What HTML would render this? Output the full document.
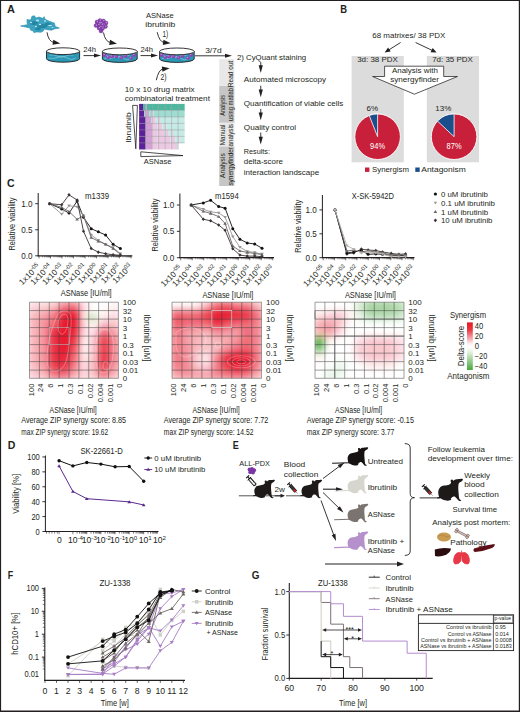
<!DOCTYPE html>
<html><head><meta charset="utf-8"><title>Figure</title><style>html,body{margin:0;padding:0;background:#fff;}body{width:520px;height:712px;overflow:hidden;font-family:"Liberation Sans",sans-serif;}svg{display:block;}</style></head><body>
<svg width="520" height="712" viewBox="0 0 520 712" font-family="'Liberation Sans', sans-serif" fill="#231f20">
<defs><filter id="blur" x="-10%" y="-10%" width="120%" height="120%"><feGaussianBlur stdDeviation="3.6"/></filter></defs>
<rect x="0" y="0" width="520" height="712" fill="#fff"/>
<text x="7.10" y="13.10" font-size="11.6" textLength="7.90" lengthAdjust="spacingAndGlyphs" font-weight="bold" >A</text>
<path d="M20.54,25.96 L27.31,24.69 L26.88,19.61 L30.69,20.04 L31.96,16.23 L34.5,15.81 L35.77,17.92 L39.15,17.08 L42.53,18.35 L44.23,16.65 L45.07,19.19 L49.3,21.31 L54.38,23 L55.22,26.38 L59.45,28.07 L54.38,28.92 L51.84,30.19 L47.61,29.77 L44.23,28.92 L43.38,31.04 L40.84,32.3 L36.61,31.88 L34.07,32.73 L33.23,31.04 L30.69,30.19 L29.84,28.07 L26.46,27.23 Z" fill="#3ba3c0" stroke="#2a8fae" stroke-width="0.6" stroke-linejoin="round"/>
<g fill="#1f7f9c" opacity="0.8"><ellipse cx="34" cy="23" rx="4" ry="2"/><ellipse cx="42" cy="26" rx="5" ry="2"/><ellipse cx="48" cy="24" rx="3" ry="1.6"/><ellipse cx="38" cy="29" rx="3" ry="1.4"/></g>
<g fill="#b8e6f0"><ellipse cx="37.5" cy="20.5" rx="1.6" ry="0.9"/><ellipse cx="31" cy="22.5" rx="1.2" ry="0.8"/><ellipse cx="40" cy="24.5" rx="1.3" ry="0.8"/><ellipse cx="50" cy="25.5" rx="1.8" ry="0.7"/><ellipse cx="36" cy="26.5" rx="1" ry="0.7"/><ellipse cx="52.5" cy="27.5" rx="1" ry="0.6"/><ellipse cx="45" cy="21" rx="1.2" ry="0.7"/></g>
<path d="M47.00,32.30 Q48.50,41.50 53.90,42.46" fill="none" stroke="#231f20" stroke-width="0.9"/>
<path d="M60.30,43.60 L52.46,44.85 L53.37,39.73 Z" fill="#231f20"/>
<g fill="#8a3fb0" stroke="#5a1f80" stroke-width="0.3">
<circle cx="97" cy="22" r="2"/>
<circle cx="100" cy="20.5" r="2"/>
<circle cx="103.5" cy="21" r="2"/>
<circle cx="106" cy="23" r="2"/>
<circle cx="98.5" cy="25" r="2"/>
<circle cx="102" cy="24.5" r="2"/>
<circle cx="105.5" cy="26.5" r="2"/>
<circle cx="99" cy="28" r="2"/>
<circle cx="102.5" cy="28.5" r="2"/>
<circle cx="96" cy="25.5" r="2"/>
<circle cx="101" cy="31" r="2"/>
</g>
<g fill="#d7b3e6">
<circle cx="97.4" cy="21.6" r="0.6"/>
<circle cx="100.4" cy="20.1" r="0.6"/>
<circle cx="103.9" cy="20.6" r="0.6"/>
<circle cx="106.4" cy="22.6" r="0.6"/>
<circle cx="98.9" cy="24.6" r="0.6"/>
<circle cx="102.4" cy="24.1" r="0.6"/>
<circle cx="105.9" cy="26.1" r="0.6"/>
<circle cx="99.4" cy="27.6" r="0.6"/>
<circle cx="102.9" cy="28.1" r="0.6"/>
<circle cx="96.4" cy="25.1" r="0.6"/>
</g>
<path d="M103.50,32.50 Q105.00,41.50 110.62,42.58" fill="none" stroke="#231f20" stroke-width="0.9"/>
<path d="M117.00,43.80 L109.14,44.94 L110.12,39.83 Z" fill="#231f20"/>
<path d="M46.5,51.2 L46.5,58.800000000000004 A16.549999999999997,3.4 0 0 0 79.6,58.800000000000004 L79.6,51.2 Z" fill="#2a98b5" stroke="#231f20" stroke-width="0.9"/>
<path d="M49.5,55.2 q4,-1 8,1 t8,0 t8,-1 M48.5,58.2 q5,1 10,-1 t9,1 t8,0" fill="none" stroke="#8fd0e0" stroke-width="0.8" opacity="0.8"/>
<ellipse cx="63.05" cy="51.2" rx="16.549999999999997" ry="3.4" fill="#fff" stroke="#231f20" stroke-width="0.9"/>
<path d="M102.4,51.4 L102.4,59.0 A17.39999999999999,3.4 0 0 0 137.2,59.0 L137.2,51.4 Z" fill="#2a98b5" stroke="#231f20" stroke-width="0.9"/>
<path d="M105.4,55.4 q4,-1 8,1 t8,0 t8,-1 M104.4,58.4 q5,1 10,-1 t9,1 t8,0" fill="none" stroke="#8fd0e0" stroke-width="0.8" opacity="0.8"/>
<g fill="#9141b5">
<circle cx="104.56" cy="54.90" r="1.85"/>
<circle cx="108.15" cy="57.20" r="1.85"/>
<circle cx="112.05" cy="56.40" r="1.85"/>
<circle cx="116.36" cy="56.40" r="1.85"/>
<circle cx="121.49" cy="57.60" r="1.85"/>
<circle cx="125.50" cy="55.90" r="1.85"/>
<circle cx="131.04" cy="58.00" r="1.85"/>
<circle cx="134.12" cy="54.90" r="1.85"/>
</g><g fill="#c58ee0">
<circle cx="104.06" cy="54.40" r="0.7"/>
<circle cx="107.65" cy="56.70" r="0.7"/>
<circle cx="111.55" cy="55.90" r="0.7"/>
<circle cx="115.86" cy="55.90" r="0.7"/>
<circle cx="120.99" cy="57.10" r="0.7"/>
<circle cx="125.00" cy="55.40" r="0.7"/>
<circle cx="130.54" cy="57.50" r="0.7"/>
<circle cx="133.62" cy="54.40" r="0.7"/>
</g>
<ellipse cx="119.8" cy="51.4" rx="17.39999999999999" ry="3.4" fill="#fff" stroke="#231f20" stroke-width="0.9"/>
<path d="M159.6,51.4 L159.6,59.0 A17.299999999999997,3.4 0 0 0 194.2,59.0 L194.2,51.4 Z" fill="#2a98b5" stroke="#231f20" stroke-width="0.9"/>
<path d="M162.6,55.4 q4,-1 8,1 t8,0 t8,-1 M161.6,58.4 q5,1 10,-1 t9,1 t8,0" fill="none" stroke="#8fd0e0" stroke-width="0.8" opacity="0.8"/>
<g fill="#9141b5">
<circle cx="161.74" cy="54.90" r="1.85"/>
<circle cx="165.32" cy="57.20" r="1.85"/>
<circle cx="169.19" cy="56.40" r="1.85"/>
<circle cx="173.48" cy="56.40" r="1.85"/>
<circle cx="178.58" cy="57.60" r="1.85"/>
<circle cx="182.56" cy="55.90" r="1.85"/>
<circle cx="188.08" cy="58.00" r="1.85"/>
<circle cx="191.14" cy="54.90" r="1.85"/>
</g><g fill="#c58ee0">
<circle cx="161.24" cy="54.40" r="0.7"/>
<circle cx="164.82" cy="56.70" r="0.7"/>
<circle cx="168.69" cy="55.90" r="0.7"/>
<circle cx="172.98" cy="55.90" r="0.7"/>
<circle cx="178.08" cy="57.10" r="0.7"/>
<circle cx="182.06" cy="55.40" r="0.7"/>
<circle cx="187.58" cy="57.50" r="0.7"/>
<circle cx="190.64" cy="54.40" r="0.7"/>
</g>
<ellipse cx="176.89999999999998" cy="51.4" rx="17.299999999999997" ry="3.4" fill="#fff" stroke="#231f20" stroke-width="0.9"/>
<text x="83.30" y="51.80" font-size="8" textLength="12.70" lengthAdjust="spacingAndGlyphs" >24h</text>
<line x1="83.50" y1="55.60" x2="95.00" y2="55.60" stroke="#231f20" stroke-width="0.9" />
<path d="M101.00,55.60 L94.00,57.60 L94.00,53.60 Z" fill="#231f20"/>
<text x="140.40" y="51.80" font-size="8" textLength="12.70" lengthAdjust="spacingAndGlyphs" >24h</text>
<line x1="140.50" y1="55.60" x2="152.00" y2="55.60" stroke="#231f20" stroke-width="0.9" />
<path d="M158.00,55.60 L151.00,57.60 L151.00,53.60 Z" fill="#231f20"/>
<text x="159.80" y="18.20" font-size="8" text-anchor="middle" textLength="27.70" lengthAdjust="spacingAndGlyphs" >ASNase</text>
<text x="160.30" y="27.30" font-size="8" text-anchor="middle" textLength="30.00" lengthAdjust="spacingAndGlyphs" >ibrutinib</text>
<text x="162.50" y="37.30" font-size="8.3" textLength="5.70" lengthAdjust="spacingAndGlyphs" >1)</text>
<path d="M157.20,32.20 Q159.50,42.00 164.14,42.54" fill="none" stroke="#231f20" stroke-width="0.9"/>
<path d="M170.60,43.30 L162.85,45.01 L163.45,39.85 Z" fill="#231f20"/>
<text x="160.50" y="79.60" font-size="8.3" textLength="6.00" lengthAdjust="spacingAndGlyphs" >2)</text>
<path d="M156.30,80.20 Q158.50,69.50 163.14,68.96" fill="none" stroke="#231f20" stroke-width="0.9"/>
<path d="M169.60,68.20 L162.45,71.65 L161.85,66.49 Z" fill="#231f20"/>
<text x="205.20" y="52.60" font-size="8" textLength="16.40" lengthAdjust="spacingAndGlyphs" >3/7d</text>
<line x1="195.00" y1="55.80" x2="226.00" y2="55.80" stroke="#231f20" stroke-width="0.9" />
<path d="M232.00,55.80 L225.00,57.80 L225.00,53.80 Z" fill="#231f20"/>
<text x="124.80" y="92.30" font-size="8" textLength="69.80" lengthAdjust="spacingAndGlyphs" >10 x 10 drug matrix</text>
<text x="124.80" y="101.20" font-size="8" textLength="85.10" lengthAdjust="spacingAndGlyphs" >combinatorial treatment</text>
<path d="M132.6,105.4 L137.4,105.4 L135.8,148.8 Z" fill="#fff" stroke="#231f20" stroke-width="0.8"/>
<text x="130.60" y="127.50" font-size="8" text-anchor="middle" textLength="30.50" lengthAdjust="spacingAndGlyphs" transform="rotate(-90 130.60 127.50)" >Ibrutinib</text>
<path d="M140.8,151.8 L140.8,156.6 L183,155.6 Z" fill="#fff" stroke="#231f20" stroke-width="0.8"/>
<text x="157.60" y="164.20" font-size="8" text-anchor="middle" textLength="27.50" lengthAdjust="spacingAndGlyphs" >ASNase</text>
<rect x="139.10" y="103.90" width="3.95" height="6.55" fill="#5b2199"/>
<rect x="143.00" y="103.90" width="2.65" height="6.55" fill="#4db89f"/>
<rect x="145.60" y="103.90" width="1.35" height="6.55" fill="#d3a1d5"/>
<rect x="146.90" y="103.90" width="5.25" height="6.55" fill="#4db89f"/>
<rect x="152.10" y="103.90" width="6.55" height="6.55" fill="#4db89f"/>
<rect x="158.60" y="103.90" width="6.55" height="6.55" fill="#4db89f"/>
<rect x="165.10" y="103.90" width="6.55" height="6.55" fill="#4db89f"/>
<rect x="171.60" y="103.90" width="6.55" height="6.55" fill="#4db89f"/>
<rect x="178.10" y="103.90" width="6.55" height="6.55" fill="#4db89f"/>
<rect x="139.10" y="110.40" width="5.25" height="6.55" fill="#5b2199"/>
<rect x="144.30" y="110.40" width="1.35" height="6.55" fill="#9fdcd2"/>
<rect x="145.60" y="110.40" width="3.62" height="6.55" fill="#d3a1d5"/>
<rect x="149.17" y="110.40" width="2.98" height="6.55" fill="#9fdcd2"/>
<rect x="152.10" y="110.40" width="1.35" height="6.55" fill="#ebc9e3"/>
<rect x="153.40" y="110.40" width="5.25" height="6.55" fill="#9fdcd2"/>
<rect x="158.60" y="110.40" width="6.55" height="6.55" fill="#9fdcd2"/>
<rect x="165.10" y="110.40" width="6.55" height="6.55" fill="#9fdcd2"/>
<rect x="171.60" y="110.40" width="6.55" height="6.55" fill="#9fdcd2"/>
<rect x="178.10" y="110.40" width="6.55" height="6.55" fill="#9fdcd2"/>
<rect x="139.10" y="116.90" width="6.55" height="6.55" fill="#5b2199"/>
<rect x="145.60" y="116.90" width="5.57" height="6.55" fill="#d3a1d5"/>
<rect x="151.12" y="116.90" width="1.02" height="6.55" fill="#c6ebe6"/>
<rect x="152.10" y="116.90" width="3.62" height="6.55" fill="#ebc9e3"/>
<rect x="155.67" y="116.90" width="2.98" height="6.55" fill="#c6ebe6"/>
<rect x="158.60" y="116.90" width="1.35" height="6.55" fill="#ebc9e3"/>
<rect x="159.90" y="116.90" width="5.25" height="6.55" fill="#c6ebe6"/>
<rect x="165.10" y="116.90" width="6.55" height="6.55" fill="#c6ebe6"/>
<rect x="171.60" y="116.90" width="6.55" height="6.55" fill="#c6ebe6"/>
<rect x="178.10" y="116.90" width="6.55" height="6.55" fill="#c6ebe6"/>
<rect x="139.10" y="123.40" width="6.55" height="6.55" fill="#5b2199"/>
<rect x="145.60" y="123.40" width="5.57" height="6.55" fill="#d3a1d5"/>
<rect x="151.12" y="123.40" width="1.02" height="6.55" fill="#d3a1d5"/>
<rect x="152.10" y="123.40" width="5.57" height="6.55" fill="#ebc9e3"/>
<rect x="157.62" y="123.40" width="1.02" height="6.55" fill="#c6ebe6"/>
<rect x="158.60" y="123.40" width="3.62" height="6.55" fill="#ebc9e3"/>
<rect x="162.17" y="123.40" width="2.98" height="6.55" fill="#c6ebe6"/>
<rect x="165.10" y="123.40" width="1.35" height="6.55" fill="#ebc9e3"/>
<rect x="166.40" y="123.40" width="5.25" height="6.55" fill="#c6ebe6"/>
<rect x="171.60" y="123.40" width="6.55" height="6.55" fill="#c6ebe6"/>
<rect x="178.10" y="123.40" width="6.55" height="6.55" fill="#c6ebe6"/>
<rect x="139.10" y="129.90" width="6.55" height="6.55" fill="#5b2199"/>
<rect x="145.60" y="129.90" width="5.57" height="6.55" fill="#d3a1d5"/>
<rect x="151.12" y="129.90" width="1.02" height="6.55" fill="#d3a1d5"/>
<rect x="152.10" y="129.90" width="5.57" height="6.55" fill="#ebc9e3"/>
<rect x="157.62" y="129.90" width="1.02" height="6.55" fill="#ebc9e3"/>
<rect x="158.60" y="129.90" width="5.57" height="6.55" fill="#ebc9e3"/>
<rect x="164.12" y="129.90" width="1.02" height="6.55" fill="#c6ebe6"/>
<rect x="165.10" y="129.90" width="3.62" height="6.55" fill="#ebc9e3"/>
<rect x="168.67" y="129.90" width="2.98" height="6.55" fill="#c6ebe6"/>
<rect x="171.60" y="129.90" width="1.35" height="6.55" fill="#ebc9e3"/>
<rect x="172.90" y="129.90" width="5.25" height="6.55" fill="#c6ebe6"/>
<rect x="178.10" y="129.90" width="6.55" height="6.55" fill="#c6ebe6"/>
<rect x="139.10" y="136.40" width="6.55" height="6.55" fill="#5b2199"/>
<rect x="145.60" y="136.40" width="5.57" height="6.55" fill="#d3a1d5"/>
<rect x="151.12" y="136.40" width="1.02" height="6.55" fill="#d3a1d5"/>
<rect x="152.10" y="136.40" width="5.57" height="6.55" fill="#ebc9e3"/>
<rect x="157.62" y="136.40" width="1.02" height="6.55" fill="#ebc9e3"/>
<rect x="158.60" y="136.40" width="5.57" height="6.55" fill="#ebc9e3"/>
<rect x="164.12" y="136.40" width="1.02" height="6.55" fill="#ebc9e3"/>
<rect x="165.10" y="136.40" width="5.57" height="6.55" fill="#ebc9e3"/>
<rect x="170.62" y="136.40" width="1.02" height="6.55" fill="#c6ebe6"/>
<rect x="171.60" y="136.40" width="3.62" height="6.55" fill="#ebc9e3"/>
<rect x="175.17" y="136.40" width="2.98" height="6.55" fill="#c6ebe6"/>
<rect x="178.10" y="136.40" width="1.35" height="6.55" fill="#ebc9e3"/>
<rect x="179.40" y="136.40" width="5.25" height="6.55" fill="#c6ebe6"/>
<rect x="139.10" y="142.90" width="6.55" height="6.55" fill="#5b2199"/>
<rect x="145.60" y="142.90" width="5.57" height="6.55" fill="#d3a1d5"/>
<rect x="151.12" y="142.90" width="1.02" height="6.55" fill="#d3a1d5"/>
<rect x="152.10" y="142.90" width="5.57" height="6.55" fill="#ebc9e3"/>
<rect x="157.62" y="142.90" width="1.02" height="6.55" fill="#ebc9e3"/>
<rect x="158.60" y="142.90" width="5.57" height="6.55" fill="#ebc9e3"/>
<rect x="164.12" y="142.90" width="1.02" height="6.55" fill="#ebc9e3"/>
<rect x="165.10" y="142.90" width="5.57" height="6.55" fill="#ebc9e3"/>
<rect x="170.62" y="142.90" width="1.02" height="6.55" fill="#ebc9e3"/>
<rect x="171.60" y="142.90" width="5.57" height="6.55" fill="#ebc9e3"/>
<rect x="177.12" y="142.90" width="1.02" height="6.55" fill="#c6ebe6"/>
<g stroke="#8f8f8f" stroke-width="0.45">
<line x1="145.60" y1="103.90" x2="145.60" y2="149.40"/>
<line x1="139.10" y1="110.40" x2="184.60" y2="110.40"/>
<line x1="152.10" y1="103.90" x2="152.10" y2="149.40"/>
<line x1="139.10" y1="116.90" x2="184.60" y2="116.90"/>
<line x1="158.60" y1="103.90" x2="158.60" y2="149.40"/>
<line x1="139.10" y1="123.40" x2="184.60" y2="123.40"/>
<line x1="165.10" y1="103.90" x2="165.10" y2="149.40"/>
<line x1="139.10" y1="129.90" x2="184.60" y2="129.90"/>
<line x1="171.60" y1="103.90" x2="171.60" y2="149.40"/>
<line x1="139.10" y1="136.40" x2="184.60" y2="136.40"/>
<line x1="178.10" y1="103.90" x2="178.10" y2="149.40"/>
<line x1="139.10" y1="142.90" x2="184.60" y2="142.90"/>
</g>
<rect x="219.2" y="59.1" width="15.20" height="26.90" fill="#e8e8e8"/>
<rect x="219.2" y="86.0" width="15.20" height="36.80" fill="#c6c6c6"/>
<rect x="219.2" y="122.8" width="15.20" height="23.70" fill="#e8e8e8"/>
<rect x="219.2" y="146.5" width="15.20" height="39.50" fill="#c6c6c6"/>
<text x="233.00" y="73.90" font-size="6.6" text-anchor="middle" textLength="26.50" lengthAdjust="spacingAndGlyphs" transform="rotate(-90 233.00 73.90)" >Read out</text>
<text x="225.20" y="105.30" font-size="6.6" text-anchor="middle" textLength="21.00" lengthAdjust="spacingAndGlyphs" transform="rotate(-90 225.20 105.30)" >Analysis</text>
<text x="233.00" y="104.50" font-size="6.6" text-anchor="middle" textLength="33.00" lengthAdjust="spacingAndGlyphs" transform="rotate(-90 233.00 104.50)" >using matlab</text>
<text x="225.20" y="134.90" font-size="6.6" text-anchor="middle" textLength="20.50" lengthAdjust="spacingAndGlyphs" transform="rotate(-90 225.20 134.90)" >Manual</text>
<text x="233.00" y="135.30" font-size="6.6" text-anchor="middle" textLength="22.40" lengthAdjust="spacingAndGlyphs" transform="rotate(-90 233.00 135.30)" >analysis</text>
<text x="225.20" y="165.60" font-size="6.6" text-anchor="middle" textLength="24.60" lengthAdjust="spacingAndGlyphs" transform="rotate(-90 225.20 165.60)" >Analysis</text>
<text x="233.00" y="166.30" font-size="6.6" text-anchor="middle" textLength="38.60" lengthAdjust="spacingAndGlyphs" transform="rotate(-90 233.00 166.30)" >synergyfinder</text>
<text x="236.90" y="60.00" font-size="8" textLength="69.20" lengthAdjust="spacingAndGlyphs" >2) CyQuant staining</text>
<text x="243.80" y="82.20" font-size="8" textLength="82.20" lengthAdjust="spacingAndGlyphs" >Automated microscopy</text>
<text x="243.80" y="105.60" font-size="8" textLength="99.60" lengthAdjust="spacingAndGlyphs" >Quantification of viable cells</text>
<text x="243.80" y="130.10" font-size="8" textLength="52.20" lengthAdjust="spacingAndGlyphs" >Quality control</text>
<text x="243.80" y="153.70" font-size="8" textLength="26.20" lengthAdjust="spacingAndGlyphs" >Results:</text>
<text x="243.80" y="164.40" font-size="8" textLength="39.20" lengthAdjust="spacingAndGlyphs" >delta-score</text>
<text x="243.80" y="174.50" font-size="8" textLength="75.30" lengthAdjust="spacingAndGlyphs" >interaction landscape</text>
<line x1="260.75" y1="62.10" x2="260.75" y2="66.20" stroke="#231f20" stroke-width="0.9" />
<path d="M260.75,73.00 L258.65,65.20 L262.85,65.20 Z" fill="#231f20"/>
<line x1="260.75" y1="85.70" x2="260.75" y2="90.40" stroke="#231f20" stroke-width="0.9" />
<path d="M260.75,97.20 L258.65,89.40 L262.85,89.40 Z" fill="#231f20"/>
<line x1="260.75" y1="108.90" x2="260.75" y2="113.50" stroke="#231f20" stroke-width="0.9" />
<path d="M260.75,120.30 L258.65,112.50 L262.85,112.50 Z" fill="#231f20"/>
<line x1="260.75" y1="132.60" x2="260.75" y2="137.70" stroke="#231f20" stroke-width="0.9" />
<path d="M260.75,144.50 L258.65,136.70 L262.85,136.70 Z" fill="#231f20"/>
<text x="340.30" y="12.80" font-size="11.6" textLength="6.80" lengthAdjust="spacingAndGlyphs" font-weight="bold" >B</text>
<text x="408.80" y="37.80" font-size="8" text-anchor="middle" textLength="73.00" lengthAdjust="spacingAndGlyphs" >68 matrixes/ 38 PDX</text>
<line x1="400.60" y1="42.50" x2="388.51" y2="50.10" stroke="#231f20" stroke-width="0.9" />
<path d="M384.70,52.50 L388.08,47.54 L390.63,51.60 Z" fill="#231f20"/>
<line x1="415.60" y1="42.50" x2="432.54" y2="50.57" stroke="#231f20" stroke-width="0.9" />
<path d="M436.60,52.50 L430.60,52.30 L432.67,47.97 Z" fill="#231f20"/>
<rect x="351.6" y="56" width="52.2" height="106.3" fill="#dcdcdc"/>
<rect x="426.8" y="56" width="52.2" height="106.3" fill="#dcdcdc"/>
<text x="377.50" y="62.00" font-size="8" text-anchor="middle" textLength="40.70" lengthAdjust="spacingAndGlyphs" >3d: 38 PDX</text>
<text x="452.50" y="62.00" font-size="8" text-anchor="middle" textLength="40.70" lengthAdjust="spacingAndGlyphs" >7d: 35 PDX</text>
<path d="M384.6,66.2 L443.7,66.2 L443.7,76.5 L457.5,76.5 L414.4,94.2 L372.6,76.5 L384.6,76.5 Z" fill="#fff" stroke="#231f20" stroke-width="0.75"/>
<text x="414.90" y="72.80" font-size="8" text-anchor="middle" textLength="45.80" lengthAdjust="spacingAndGlyphs" >Analysis with</text>
<text x="414.60" y="82.40" font-size="8" text-anchor="middle" textLength="48.80" lengthAdjust="spacingAndGlyphs" >synergyfinder</text>
<circle cx="377.6" cy="136.7" r="22.8" fill="#c8203a" stroke="#fff" stroke-width="0.9"/>
<path d="M377.6,136.7 L377.6,113.89999999999999 A22.8,22.8 0 0 0 369.21,115.50 Z" fill="#1a4f8c" stroke="#fff" stroke-width="0.8"/>
<text x="377.60" y="149.30" font-size="8.4" text-anchor="middle" textLength="15.00" lengthAdjust="spacingAndGlyphs" fill="#fff" >94%</text>
<text x="372.30" y="110.60" font-size="8" text-anchor="middle" >6%</text>
<circle cx="454.1" cy="136.7" r="22.8" fill="#c8203a" stroke="#fff" stroke-width="0.9"/>
<path d="M454.1,136.7 L454.1,113.89999999999999 A22.8,22.8 0 0 0 437.48,121.09 Z" fill="#1a4f8c" stroke="#fff" stroke-width="0.8"/>
<text x="454.10" y="149.30" font-size="8.4" text-anchor="middle" textLength="15.00" lengthAdjust="spacingAndGlyphs" fill="#fff" >87%</text>
<text x="443.30" y="110.60" font-size="8" text-anchor="middle" >13%</text>
<rect x="365" y="167.5" width="4.4" height="4.4" fill="#c8203a"/>
<text x="372.00" y="172.00" font-size="8" textLength="37.00" lengthAdjust="spacingAndGlyphs" >Synergism</text>
<rect x="415.3" y="167.5" width="4.4" height="4.4" fill="#1a4f8c"/>
<text x="421.30" y="172.00" font-size="8" textLength="44.50" lengthAdjust="spacingAndGlyphs" >Antagonism</text>
<text x="7.10" y="186.60" font-size="11.6" textLength="7.60" lengthAdjust="spacingAndGlyphs" font-weight="bold" >C</text>
<line x1="38.20" y1="193.00" x2="38.20" y2="256.30" stroke="#231f20" stroke-width="1.0" />
<line x1="37.70" y1="255.80" x2="132.30" y2="255.80" stroke="#231f20" stroke-width="1.2" />
<line x1="35.20" y1="255.80" x2="38.20" y2="255.80" stroke="#231f20" stroke-width="0.9" />
<text x="32.60" y="258.90" font-size="8.9" text-anchor="end" textLength="11.30" lengthAdjust="spacingAndGlyphs" >0.0</text>
<line x1="35.20" y1="229.75" x2="38.20" y2="229.75" stroke="#231f20" stroke-width="0.9" />
<text x="32.60" y="232.85" font-size="8.9" text-anchor="end" textLength="11.30" lengthAdjust="spacingAndGlyphs" >0.5</text>
<line x1="35.20" y1="203.70" x2="38.20" y2="203.70" stroke="#231f20" stroke-width="0.9" />
<text x="32.60" y="206.80" font-size="8.9" text-anchor="end" textLength="11.30" lengthAdjust="spacingAndGlyphs" >1.0</text>
<line x1="39.00" y1="255.80" x2="39.00" y2="258.40" stroke="#231f20" stroke-width="0.6" />
<line x1="42.47" y1="255.80" x2="42.47" y2="257.40" stroke="#231f20" stroke-width="0.45" />
<line x1="44.49" y1="255.80" x2="44.49" y2="257.40" stroke="#231f20" stroke-width="0.45" />
<line x1="45.93" y1="255.80" x2="45.93" y2="257.40" stroke="#231f20" stroke-width="0.45" />
<line x1="47.05" y1="255.80" x2="47.05" y2="257.40" stroke="#231f20" stroke-width="0.45" />
<line x1="47.96" y1="255.80" x2="47.96" y2="257.40" stroke="#231f20" stroke-width="0.45" />
<line x1="48.73" y1="255.80" x2="48.73" y2="257.40" stroke="#231f20" stroke-width="0.45" />
<line x1="49.40" y1="255.80" x2="49.40" y2="257.40" stroke="#231f20" stroke-width="0.45" />
<line x1="49.99" y1="255.80" x2="49.99" y2="257.40" stroke="#231f20" stroke-width="0.45" />
<line x1="50.51" y1="255.80" x2="50.51" y2="258.40" stroke="#231f20" stroke-width="0.6" />
<line x1="53.98" y1="255.80" x2="53.98" y2="257.40" stroke="#231f20" stroke-width="0.45" />
<line x1="56.01" y1="255.80" x2="56.01" y2="257.40" stroke="#231f20" stroke-width="0.45" />
<line x1="57.44" y1="255.80" x2="57.44" y2="257.40" stroke="#231f20" stroke-width="0.45" />
<line x1="58.56" y1="255.80" x2="58.56" y2="257.40" stroke="#231f20" stroke-width="0.45" />
<line x1="59.47" y1="255.80" x2="59.47" y2="257.40" stroke="#231f20" stroke-width="0.45" />
<line x1="60.24" y1="255.80" x2="60.24" y2="257.40" stroke="#231f20" stroke-width="0.45" />
<line x1="60.91" y1="255.80" x2="60.91" y2="257.40" stroke="#231f20" stroke-width="0.45" />
<line x1="61.50" y1="255.80" x2="61.50" y2="257.40" stroke="#231f20" stroke-width="0.45" />
<line x1="62.03" y1="255.80" x2="62.03" y2="258.40" stroke="#231f20" stroke-width="0.6" />
<line x1="65.49" y1="255.80" x2="65.49" y2="257.40" stroke="#231f20" stroke-width="0.45" />
<line x1="67.52" y1="255.80" x2="67.52" y2="257.40" stroke="#231f20" stroke-width="0.45" />
<line x1="68.96" y1="255.80" x2="68.96" y2="257.40" stroke="#231f20" stroke-width="0.45" />
<line x1="70.07" y1="255.80" x2="70.07" y2="257.40" stroke="#231f20" stroke-width="0.45" />
<line x1="70.98" y1="255.80" x2="70.98" y2="257.40" stroke="#231f20" stroke-width="0.45" />
<line x1="71.75" y1="255.80" x2="71.75" y2="257.40" stroke="#231f20" stroke-width="0.45" />
<line x1="72.42" y1="255.80" x2="72.42" y2="257.40" stroke="#231f20" stroke-width="0.45" />
<line x1="73.01" y1="255.80" x2="73.01" y2="257.40" stroke="#231f20" stroke-width="0.45" />
<line x1="73.54" y1="255.80" x2="73.54" y2="258.40" stroke="#231f20" stroke-width="0.6" />
<line x1="77.00" y1="255.80" x2="77.00" y2="257.40" stroke="#231f20" stroke-width="0.45" />
<line x1="79.03" y1="255.80" x2="79.03" y2="257.40" stroke="#231f20" stroke-width="0.45" />
<line x1="80.47" y1="255.80" x2="80.47" y2="257.40" stroke="#231f20" stroke-width="0.45" />
<line x1="81.58" y1="255.80" x2="81.58" y2="257.40" stroke="#231f20" stroke-width="0.45" />
<line x1="82.50" y1="255.80" x2="82.50" y2="257.40" stroke="#231f20" stroke-width="0.45" />
<line x1="83.27" y1="255.80" x2="83.27" y2="257.40" stroke="#231f20" stroke-width="0.45" />
<line x1="83.93" y1="255.80" x2="83.93" y2="257.40" stroke="#231f20" stroke-width="0.45" />
<line x1="84.52" y1="255.80" x2="84.52" y2="257.40" stroke="#231f20" stroke-width="0.45" />
<line x1="85.05" y1="255.80" x2="85.05" y2="258.40" stroke="#231f20" stroke-width="0.6" />
<line x1="88.52" y1="255.80" x2="88.52" y2="257.40" stroke="#231f20" stroke-width="0.45" />
<line x1="90.54" y1="255.80" x2="90.54" y2="257.40" stroke="#231f20" stroke-width="0.45" />
<line x1="91.98" y1="255.80" x2="91.98" y2="257.40" stroke="#231f20" stroke-width="0.45" />
<line x1="93.10" y1="255.80" x2="93.10" y2="257.40" stroke="#231f20" stroke-width="0.45" />
<line x1="94.01" y1="255.80" x2="94.01" y2="257.40" stroke="#231f20" stroke-width="0.45" />
<line x1="94.78" y1="255.80" x2="94.78" y2="257.40" stroke="#231f20" stroke-width="0.45" />
<line x1="95.45" y1="255.80" x2="95.45" y2="257.40" stroke="#231f20" stroke-width="0.45" />
<line x1="96.04" y1="255.80" x2="96.04" y2="257.40" stroke="#231f20" stroke-width="0.45" />
<line x1="96.56" y1="255.80" x2="96.56" y2="258.40" stroke="#231f20" stroke-width="0.6" />
<line x1="100.03" y1="255.80" x2="100.03" y2="257.40" stroke="#231f20" stroke-width="0.45" />
<line x1="102.06" y1="255.80" x2="102.06" y2="257.40" stroke="#231f20" stroke-width="0.45" />
<line x1="103.49" y1="255.80" x2="103.49" y2="257.40" stroke="#231f20" stroke-width="0.45" />
<line x1="104.61" y1="255.80" x2="104.61" y2="257.40" stroke="#231f20" stroke-width="0.45" />
<line x1="105.52" y1="255.80" x2="105.52" y2="257.40" stroke="#231f20" stroke-width="0.45" />
<line x1="106.29" y1="255.80" x2="106.29" y2="257.40" stroke="#231f20" stroke-width="0.45" />
<line x1="106.96" y1="255.80" x2="106.96" y2="257.40" stroke="#231f20" stroke-width="0.45" />
<line x1="107.55" y1="255.80" x2="107.55" y2="257.40" stroke="#231f20" stroke-width="0.45" />
<line x1="108.08" y1="255.80" x2="108.08" y2="258.40" stroke="#231f20" stroke-width="0.6" />
<line x1="111.54" y1="255.80" x2="111.54" y2="257.40" stroke="#231f20" stroke-width="0.45" />
<line x1="113.57" y1="255.80" x2="113.57" y2="257.40" stroke="#231f20" stroke-width="0.45" />
<line x1="115.01" y1="255.80" x2="115.01" y2="257.40" stroke="#231f20" stroke-width="0.45" />
<line x1="116.12" y1="255.80" x2="116.12" y2="257.40" stroke="#231f20" stroke-width="0.45" />
<line x1="117.03" y1="255.80" x2="117.03" y2="257.40" stroke="#231f20" stroke-width="0.45" />
<line x1="117.80" y1="255.80" x2="117.80" y2="257.40" stroke="#231f20" stroke-width="0.45" />
<line x1="118.47" y1="255.80" x2="118.47" y2="257.40" stroke="#231f20" stroke-width="0.45" />
<line x1="119.06" y1="255.80" x2="119.06" y2="257.40" stroke="#231f20" stroke-width="0.45" />
<line x1="119.59" y1="255.80" x2="119.59" y2="258.40" stroke="#231f20" stroke-width="0.6" />
<line x1="123.05" y1="255.80" x2="123.05" y2="257.40" stroke="#231f20" stroke-width="0.45" />
<line x1="125.08" y1="255.80" x2="125.08" y2="257.40" stroke="#231f20" stroke-width="0.45" />
<line x1="126.52" y1="255.80" x2="126.52" y2="257.40" stroke="#231f20" stroke-width="0.45" />
<line x1="127.63" y1="255.80" x2="127.63" y2="257.40" stroke="#231f20" stroke-width="0.45" />
<line x1="128.55" y1="255.80" x2="128.55" y2="257.40" stroke="#231f20" stroke-width="0.45" />
<line x1="129.32" y1="255.80" x2="129.32" y2="257.40" stroke="#231f20" stroke-width="0.45" />
<line x1="129.98" y1="255.80" x2="129.98" y2="257.40" stroke="#231f20" stroke-width="0.45" />
<line x1="130.57" y1="255.80" x2="130.57" y2="257.40" stroke="#231f20" stroke-width="0.45" />
<line x1="131.10" y1="255.80" x2="131.10" y2="258.40" stroke="#231f20" stroke-width="0.6" />
<text x="40.80" y="267.00" font-size="8.2" text-anchor="end" transform="rotate(-45 40.80 267.00)">1x10<tspan font-size="5.74" dy="-3.28">-05</tspan></text>
<text x="52.31" y="267.00" font-size="8.2" text-anchor="end" transform="rotate(-45 52.31 267.00)">1x10<tspan font-size="5.74" dy="-3.28">-04</tspan></text>
<text x="63.83" y="267.00" font-size="8.2" text-anchor="end" transform="rotate(-45 63.83 267.00)">1x10<tspan font-size="5.74" dy="-3.28">-03</tspan></text>
<text x="75.34" y="267.00" font-size="8.2" text-anchor="end" transform="rotate(-45 75.34 267.00)">1x10<tspan font-size="5.74" dy="-3.28">-02</tspan></text>
<text x="86.85" y="267.00" font-size="8.2" text-anchor="end" transform="rotate(-45 86.85 267.00)">1x10<tspan font-size="5.74" dy="-3.28">-01</tspan></text>
<text x="98.36" y="267.00" font-size="8.2" text-anchor="end" transform="rotate(-45 98.36 267.00)">1x10<tspan font-size="5.74" dy="-3.28">00</tspan></text>
<text x="109.88" y="267.00" font-size="8.2" text-anchor="end" transform="rotate(-45 109.88 267.00)">1x10<tspan font-size="5.74" dy="-3.28">01</tspan></text>
<text x="121.39" y="267.00" font-size="8.2" text-anchor="end" transform="rotate(-45 121.39 267.00)">1x10<tspan font-size="5.74" dy="-3.28">02</tspan></text>
<text x="132.90" y="267.00" font-size="8.2" text-anchor="end" transform="rotate(-45 132.90 267.00)">1x10<tspan font-size="5.74" dy="-3.28">03</tspan></text>
<text x="86.20" y="296.10" font-size="9.3" text-anchor="middle" textLength="51.00" lengthAdjust="spacingAndGlyphs" >ASNase [IU/ml]</text>
<text x="15.30" y="224.00" font-size="9.3" text-anchor="middle" textLength="53.00" lengthAdjust="spacingAndGlyphs" transform="rotate(-90 15.30 224.00)" >Relative viability</text>
<text x="85.00" y="199.00" font-size="8.3" textLength="24.00" lengthAdjust="spacingAndGlyphs" >m1339</text>
<polyline points="49.60,203.70 61.70,208.91 69.00,213.08 77.10,201.09 83.50,217.25 91.20,228.71 98.30,231.83 105.60,234.96 113.10,244.34 120.40,248.51" fill="none" stroke="#111111" stroke-width="0.9"/>
<circle cx="49.60" cy="203.70" r="1.5" fill="#111111"/>
<circle cx="61.70" cy="208.91" r="1.5" fill="#111111"/>
<circle cx="69.00" cy="213.08" r="1.5" fill="#111111"/>
<circle cx="77.10" cy="201.09" r="1.5" fill="#111111"/>
<circle cx="83.50" cy="217.25" r="1.5" fill="#111111"/>
<circle cx="91.20" cy="228.71" r="1.5" fill="#111111"/>
<circle cx="98.30" cy="231.83" r="1.5" fill="#111111"/>
<circle cx="105.60" cy="234.96" r="1.5" fill="#111111"/>
<circle cx="113.10" cy="244.34" r="1.5" fill="#111111"/>
<circle cx="120.40" cy="248.51" r="1.5" fill="#111111"/>
<polyline points="49.60,203.70 61.70,214.12 69.00,205.78 77.10,206.83 83.50,215.68 91.20,234.96 98.30,240.17 105.60,244.34 113.10,247.46 120.40,253.72" fill="none" stroke="#9a9696" stroke-width="0.9"/>
<path d="M47.80,202.50 L51.40,202.50 L49.60,205.30 Z" fill="#9a9696"/>
<path d="M59.90,212.92 L63.50,212.92 L61.70,215.72 Z" fill="#9a9696"/>
<path d="M67.20,204.58 L70.80,204.58 L69.00,207.38 Z" fill="#9a9696"/>
<path d="M75.30,205.63 L78.90,205.63 L77.10,208.43 Z" fill="#9a9696"/>
<path d="M81.70,214.48 L85.30,214.48 L83.50,217.28 Z" fill="#9a9696"/>
<path d="M89.40,233.76 L93.00,233.76 L91.20,236.56 Z" fill="#9a9696"/>
<path d="M96.50,238.97 L100.10,238.97 L98.30,241.77 Z" fill="#9a9696"/>
<path d="M103.80,243.14 L107.40,243.14 L105.60,245.94 Z" fill="#9a9696"/>
<path d="M111.30,246.26 L114.90,246.26 L113.10,249.06 Z" fill="#9a9696"/>
<path d="M118.60,252.52 L122.20,252.52 L120.40,255.32 Z" fill="#9a9696"/>
<polyline points="49.60,203.70 61.70,207.35 69.00,211.51 77.10,219.33 83.50,215.68 91.20,237.56 98.30,241.21 105.60,244.34 113.10,248.51 120.40,254.24" fill="none" stroke="#6b6565" stroke-width="0.9"/>
<path d="M47.80,204.90 L51.40,204.90 L49.60,202.10 Z" fill="#6b6565"/>
<path d="M59.90,208.55 L63.50,208.55 L61.70,205.75 Z" fill="#6b6565"/>
<path d="M67.20,212.71 L70.80,212.71 L69.00,209.91 Z" fill="#6b6565"/>
<path d="M75.30,220.53 L78.90,220.53 L77.10,217.73 Z" fill="#6b6565"/>
<path d="M81.70,216.88 L85.30,216.88 L83.50,214.08 Z" fill="#6b6565"/>
<path d="M89.40,238.76 L93.00,238.76 L91.20,235.97 Z" fill="#6b6565"/>
<path d="M96.50,242.41 L100.10,242.41 L98.30,239.61 Z" fill="#6b6565"/>
<path d="M103.80,245.54 L107.40,245.54 L105.60,242.74 Z" fill="#6b6565"/>
<path d="M111.30,249.71 L114.90,249.71 L113.10,246.91 Z" fill="#6b6565"/>
<path d="M118.60,255.44 L122.20,255.44 L120.40,252.64 Z" fill="#6b6565"/>
<polyline points="49.60,203.70 61.70,204.74 69.00,194.84 77.10,200.05 83.50,231.31 91.20,248.51 98.30,252.15 105.60,253.72 113.10,254.76 120.40,255.28" fill="none" stroke="#3a3333" stroke-width="0.9"/>
<path d="M49.60,201.90 L51.20,203.70 L49.60,205.50 L48.00,203.70 Z" fill="#3a3333"/>
<path d="M61.70,202.94 L63.30,204.74 L61.70,206.54 L60.10,204.74 Z" fill="#3a3333"/>
<path d="M69.00,193.04 L70.60,194.84 L69.00,196.64 L67.40,194.84 Z" fill="#3a3333"/>
<path d="M77.10,198.25 L78.70,200.05 L77.10,201.85 L75.50,200.05 Z" fill="#3a3333"/>
<path d="M83.50,229.51 L85.10,231.31 L83.50,233.11 L81.90,231.31 Z" fill="#3a3333"/>
<path d="M91.20,246.71 L92.80,248.51 L91.20,250.31 L89.60,248.51 Z" fill="#3a3333"/>
<path d="M98.30,250.35 L99.90,252.15 L98.30,253.95 L96.70,252.15 Z" fill="#3a3333"/>
<path d="M105.60,251.92 L107.20,253.72 L105.60,255.52 L104.00,253.72 Z" fill="#3a3333"/>
<path d="M113.10,252.96 L114.70,254.76 L113.10,256.56 L111.50,254.76 Z" fill="#3a3333"/>
<path d="M120.40,253.48 L122.00,255.28 L120.40,257.08 L118.80,255.28 Z" fill="#3a3333"/>
<line x1="179.90" y1="193.50" x2="179.90" y2="258.20" stroke="#231f20" stroke-width="1.0" />
<line x1="179.40" y1="257.70" x2="274.00" y2="257.70" stroke="#231f20" stroke-width="1.2" />
<line x1="176.90" y1="257.70" x2="179.90" y2="257.70" stroke="#231f20" stroke-width="0.9" />
<text x="174.30" y="260.80" font-size="8.9" text-anchor="end" textLength="11.30" lengthAdjust="spacingAndGlyphs" >0.0</text>
<line x1="176.90" y1="231.35" x2="179.90" y2="231.35" stroke="#231f20" stroke-width="0.9" />
<text x="174.30" y="234.45" font-size="8.9" text-anchor="end" textLength="11.30" lengthAdjust="spacingAndGlyphs" >0.5</text>
<line x1="176.90" y1="205.00" x2="179.90" y2="205.00" stroke="#231f20" stroke-width="0.9" />
<text x="174.30" y="208.10" font-size="8.9" text-anchor="end" textLength="11.30" lengthAdjust="spacingAndGlyphs" >1.0</text>
<line x1="180.70" y1="257.70" x2="180.70" y2="260.30" stroke="#231f20" stroke-width="0.6" />
<line x1="184.17" y1="257.70" x2="184.17" y2="259.30" stroke="#231f20" stroke-width="0.45" />
<line x1="186.19" y1="257.70" x2="186.19" y2="259.30" stroke="#231f20" stroke-width="0.45" />
<line x1="187.63" y1="257.70" x2="187.63" y2="259.30" stroke="#231f20" stroke-width="0.45" />
<line x1="188.75" y1="257.70" x2="188.75" y2="259.30" stroke="#231f20" stroke-width="0.45" />
<line x1="189.66" y1="257.70" x2="189.66" y2="259.30" stroke="#231f20" stroke-width="0.45" />
<line x1="190.43" y1="257.70" x2="190.43" y2="259.30" stroke="#231f20" stroke-width="0.45" />
<line x1="191.10" y1="257.70" x2="191.10" y2="259.30" stroke="#231f20" stroke-width="0.45" />
<line x1="191.69" y1="257.70" x2="191.69" y2="259.30" stroke="#231f20" stroke-width="0.45" />
<line x1="192.21" y1="257.70" x2="192.21" y2="260.30" stroke="#231f20" stroke-width="0.6" />
<line x1="195.68" y1="257.70" x2="195.68" y2="259.30" stroke="#231f20" stroke-width="0.45" />
<line x1="197.71" y1="257.70" x2="197.71" y2="259.30" stroke="#231f20" stroke-width="0.45" />
<line x1="199.14" y1="257.70" x2="199.14" y2="259.30" stroke="#231f20" stroke-width="0.45" />
<line x1="200.26" y1="257.70" x2="200.26" y2="259.30" stroke="#231f20" stroke-width="0.45" />
<line x1="201.17" y1="257.70" x2="201.17" y2="259.30" stroke="#231f20" stroke-width="0.45" />
<line x1="201.94" y1="257.70" x2="201.94" y2="259.30" stroke="#231f20" stroke-width="0.45" />
<line x1="202.61" y1="257.70" x2="202.61" y2="259.30" stroke="#231f20" stroke-width="0.45" />
<line x1="203.20" y1="257.70" x2="203.20" y2="259.30" stroke="#231f20" stroke-width="0.45" />
<line x1="203.73" y1="257.70" x2="203.73" y2="260.30" stroke="#231f20" stroke-width="0.6" />
<line x1="207.19" y1="257.70" x2="207.19" y2="259.30" stroke="#231f20" stroke-width="0.45" />
<line x1="209.22" y1="257.70" x2="209.22" y2="259.30" stroke="#231f20" stroke-width="0.45" />
<line x1="210.66" y1="257.70" x2="210.66" y2="259.30" stroke="#231f20" stroke-width="0.45" />
<line x1="211.77" y1="257.70" x2="211.77" y2="259.30" stroke="#231f20" stroke-width="0.45" />
<line x1="212.68" y1="257.70" x2="212.68" y2="259.30" stroke="#231f20" stroke-width="0.45" />
<line x1="213.45" y1="257.70" x2="213.45" y2="259.30" stroke="#231f20" stroke-width="0.45" />
<line x1="214.12" y1="257.70" x2="214.12" y2="259.30" stroke="#231f20" stroke-width="0.45" />
<line x1="214.71" y1="257.70" x2="214.71" y2="259.30" stroke="#231f20" stroke-width="0.45" />
<line x1="215.24" y1="257.70" x2="215.24" y2="260.30" stroke="#231f20" stroke-width="0.6" />
<line x1="218.70" y1="257.70" x2="218.70" y2="259.30" stroke="#231f20" stroke-width="0.45" />
<line x1="220.73" y1="257.70" x2="220.73" y2="259.30" stroke="#231f20" stroke-width="0.45" />
<line x1="222.17" y1="257.70" x2="222.17" y2="259.30" stroke="#231f20" stroke-width="0.45" />
<line x1="223.28" y1="257.70" x2="223.28" y2="259.30" stroke="#231f20" stroke-width="0.45" />
<line x1="224.20" y1="257.70" x2="224.20" y2="259.30" stroke="#231f20" stroke-width="0.45" />
<line x1="224.97" y1="257.70" x2="224.97" y2="259.30" stroke="#231f20" stroke-width="0.45" />
<line x1="225.63" y1="257.70" x2="225.63" y2="259.30" stroke="#231f20" stroke-width="0.45" />
<line x1="226.22" y1="257.70" x2="226.22" y2="259.30" stroke="#231f20" stroke-width="0.45" />
<line x1="226.75" y1="257.70" x2="226.75" y2="260.30" stroke="#231f20" stroke-width="0.6" />
<line x1="230.22" y1="257.70" x2="230.22" y2="259.30" stroke="#231f20" stroke-width="0.45" />
<line x1="232.24" y1="257.70" x2="232.24" y2="259.30" stroke="#231f20" stroke-width="0.45" />
<line x1="233.68" y1="257.70" x2="233.68" y2="259.30" stroke="#231f20" stroke-width="0.45" />
<line x1="234.80" y1="257.70" x2="234.80" y2="259.30" stroke="#231f20" stroke-width="0.45" />
<line x1="235.71" y1="257.70" x2="235.71" y2="259.30" stroke="#231f20" stroke-width="0.45" />
<line x1="236.48" y1="257.70" x2="236.48" y2="259.30" stroke="#231f20" stroke-width="0.45" />
<line x1="237.15" y1="257.70" x2="237.15" y2="259.30" stroke="#231f20" stroke-width="0.45" />
<line x1="237.74" y1="257.70" x2="237.74" y2="259.30" stroke="#231f20" stroke-width="0.45" />
<line x1="238.26" y1="257.70" x2="238.26" y2="260.30" stroke="#231f20" stroke-width="0.6" />
<line x1="241.73" y1="257.70" x2="241.73" y2="259.30" stroke="#231f20" stroke-width="0.45" />
<line x1="243.76" y1="257.70" x2="243.76" y2="259.30" stroke="#231f20" stroke-width="0.45" />
<line x1="245.19" y1="257.70" x2="245.19" y2="259.30" stroke="#231f20" stroke-width="0.45" />
<line x1="246.31" y1="257.70" x2="246.31" y2="259.30" stroke="#231f20" stroke-width="0.45" />
<line x1="247.22" y1="257.70" x2="247.22" y2="259.30" stroke="#231f20" stroke-width="0.45" />
<line x1="247.99" y1="257.70" x2="247.99" y2="259.30" stroke="#231f20" stroke-width="0.45" />
<line x1="248.66" y1="257.70" x2="248.66" y2="259.30" stroke="#231f20" stroke-width="0.45" />
<line x1="249.25" y1="257.70" x2="249.25" y2="259.30" stroke="#231f20" stroke-width="0.45" />
<line x1="249.78" y1="257.70" x2="249.78" y2="260.30" stroke="#231f20" stroke-width="0.6" />
<line x1="253.24" y1="257.70" x2="253.24" y2="259.30" stroke="#231f20" stroke-width="0.45" />
<line x1="255.27" y1="257.70" x2="255.27" y2="259.30" stroke="#231f20" stroke-width="0.45" />
<line x1="256.71" y1="257.70" x2="256.71" y2="259.30" stroke="#231f20" stroke-width="0.45" />
<line x1="257.82" y1="257.70" x2="257.82" y2="259.30" stroke="#231f20" stroke-width="0.45" />
<line x1="258.73" y1="257.70" x2="258.73" y2="259.30" stroke="#231f20" stroke-width="0.45" />
<line x1="259.50" y1="257.70" x2="259.50" y2="259.30" stroke="#231f20" stroke-width="0.45" />
<line x1="260.17" y1="257.70" x2="260.17" y2="259.30" stroke="#231f20" stroke-width="0.45" />
<line x1="260.76" y1="257.70" x2="260.76" y2="259.30" stroke="#231f20" stroke-width="0.45" />
<line x1="261.29" y1="257.70" x2="261.29" y2="260.30" stroke="#231f20" stroke-width="0.6" />
<line x1="264.75" y1="257.70" x2="264.75" y2="259.30" stroke="#231f20" stroke-width="0.45" />
<line x1="266.78" y1="257.70" x2="266.78" y2="259.30" stroke="#231f20" stroke-width="0.45" />
<line x1="268.22" y1="257.70" x2="268.22" y2="259.30" stroke="#231f20" stroke-width="0.45" />
<line x1="269.33" y1="257.70" x2="269.33" y2="259.30" stroke="#231f20" stroke-width="0.45" />
<line x1="270.25" y1="257.70" x2="270.25" y2="259.30" stroke="#231f20" stroke-width="0.45" />
<line x1="271.02" y1="257.70" x2="271.02" y2="259.30" stroke="#231f20" stroke-width="0.45" />
<line x1="271.68" y1="257.70" x2="271.68" y2="259.30" stroke="#231f20" stroke-width="0.45" />
<line x1="272.27" y1="257.70" x2="272.27" y2="259.30" stroke="#231f20" stroke-width="0.45" />
<line x1="272.80" y1="257.70" x2="272.80" y2="260.30" stroke="#231f20" stroke-width="0.6" />
<text x="182.50" y="268.90" font-size="8.2" text-anchor="end" transform="rotate(-45 182.50 268.90)">1x10<tspan font-size="5.74" dy="-3.28">-05</tspan></text>
<text x="194.01" y="268.90" font-size="8.2" text-anchor="end" transform="rotate(-45 194.01 268.90)">1x10<tspan font-size="5.74" dy="-3.28">-04</tspan></text>
<text x="205.53" y="268.90" font-size="8.2" text-anchor="end" transform="rotate(-45 205.53 268.90)">1x10<tspan font-size="5.74" dy="-3.28">-03</tspan></text>
<text x="217.04" y="268.90" font-size="8.2" text-anchor="end" transform="rotate(-45 217.04 268.90)">1x10<tspan font-size="5.74" dy="-3.28">-02</tspan></text>
<text x="228.55" y="268.90" font-size="8.2" text-anchor="end" transform="rotate(-45 228.55 268.90)">1x10<tspan font-size="5.74" dy="-3.28">-01</tspan></text>
<text x="240.06" y="268.90" font-size="8.2" text-anchor="end" transform="rotate(-45 240.06 268.90)">1x10<tspan font-size="5.74" dy="-3.28">00</tspan></text>
<text x="251.58" y="268.90" font-size="8.2" text-anchor="end" transform="rotate(-45 251.58 268.90)">1x10<tspan font-size="5.74" dy="-3.28">01</tspan></text>
<text x="263.09" y="268.90" font-size="8.2" text-anchor="end" transform="rotate(-45 263.09 268.90)">1x10<tspan font-size="5.74" dy="-3.28">02</tspan></text>
<text x="274.60" y="268.90" font-size="8.2" text-anchor="end" transform="rotate(-45 274.60 268.90)">1x10<tspan font-size="5.74" dy="-3.28">03</tspan></text>
<text x="227.90" y="298.00" font-size="9.3" text-anchor="middle" textLength="51.00" lengthAdjust="spacingAndGlyphs" >ASNase [IU/ml]</text>
<text x="158.00" y="225.00" font-size="9.3" text-anchor="middle" textLength="53.00" lengthAdjust="spacingAndGlyphs" transform="rotate(-90 158.00 225.00)" >Relative viability</text>
<text x="215.00" y="199.00" font-size="8.3" textLength="23.70" lengthAdjust="spacingAndGlyphs" >m1594</text>
<polyline points="191.20,205.00 203.30,202.89 210.60,200.26 218.70,206.58 225.10,208.16 232.80,228.72 239.90,239.25 247.20,242.94 254.70,244.00 262.00,248.21" fill="none" stroke="#111111" stroke-width="0.9"/>
<circle cx="191.20" cy="205.00" r="1.5" fill="#111111"/>
<circle cx="203.30" cy="202.89" r="1.5" fill="#111111"/>
<circle cx="210.60" cy="200.26" r="1.5" fill="#111111"/>
<circle cx="218.70" cy="206.58" r="1.5" fill="#111111"/>
<circle cx="225.10" cy="208.16" r="1.5" fill="#111111"/>
<circle cx="232.80" cy="228.72" r="1.5" fill="#111111"/>
<circle cx="239.90" cy="239.25" r="1.5" fill="#111111"/>
<circle cx="247.20" cy="242.94" r="1.5" fill="#111111"/>
<circle cx="254.70" cy="244.00" r="1.5" fill="#111111"/>
<circle cx="262.00" cy="248.21" r="1.5" fill="#111111"/>
<polyline points="191.20,205.00 203.30,209.22 210.60,211.85 218.70,212.91 225.10,217.12 232.80,236.62 239.90,247.16 247.20,251.38 254.70,252.43 262.00,254.01" fill="none" stroke="#9a9696" stroke-width="0.9"/>
<path d="M189.40,203.80 L193.00,203.80 L191.20,206.60 Z" fill="#9a9696"/>
<path d="M201.50,208.02 L205.10,208.02 L203.30,210.82 Z" fill="#9a9696"/>
<path d="M208.80,210.65 L212.40,210.65 L210.60,213.45 Z" fill="#9a9696"/>
<path d="M216.90,211.71 L220.50,211.71 L218.70,214.50 Z" fill="#9a9696"/>
<path d="M223.30,215.92 L226.90,215.92 L225.10,218.72 Z" fill="#9a9696"/>
<path d="M231.00,235.42 L234.60,235.42 L232.80,238.22 Z" fill="#9a9696"/>
<path d="M238.10,245.96 L241.70,245.96 L239.90,248.76 Z" fill="#9a9696"/>
<path d="M245.40,250.18 L249.00,250.18 L247.20,252.98 Z" fill="#9a9696"/>
<path d="M252.90,251.23 L256.50,251.23 L254.70,254.03 Z" fill="#9a9696"/>
<path d="M260.20,252.81 L263.80,252.81 L262.00,255.61 Z" fill="#9a9696"/>
<polyline points="191.20,205.00 203.30,211.32 210.60,213.43 218.70,216.59 225.10,223.44 232.80,246.11 239.90,250.85 247.20,252.43 254.70,253.48 262.00,254.54" fill="none" stroke="#6b6565" stroke-width="0.9"/>
<path d="M189.40,206.20 L193.00,206.20 L191.20,203.40 Z" fill="#6b6565"/>
<path d="M201.50,212.52 L205.10,212.52 L203.30,209.72 Z" fill="#6b6565"/>
<path d="M208.80,214.63 L212.40,214.63 L210.60,211.83 Z" fill="#6b6565"/>
<path d="M216.90,217.79 L220.50,217.79 L218.70,214.99 Z" fill="#6b6565"/>
<path d="M223.30,224.64 L226.90,224.64 L225.10,221.84 Z" fill="#6b6565"/>
<path d="M231.00,247.31 L234.60,247.31 L232.80,244.51 Z" fill="#6b6565"/>
<path d="M238.10,252.05 L241.70,252.05 L239.90,249.25 Z" fill="#6b6565"/>
<path d="M245.40,253.63 L249.00,253.63 L247.20,250.83 Z" fill="#6b6565"/>
<path d="M252.90,254.68 L256.50,254.68 L254.70,251.88 Z" fill="#6b6565"/>
<path d="M260.20,255.74 L263.80,255.74 L262.00,252.94 Z" fill="#6b6565"/>
<polyline points="191.20,205.00 203.30,219.23 210.60,220.81 218.70,225.03 225.10,230.30 232.80,248.74 239.90,255.06 247.20,256.12 254.70,256.12 262.00,256.65" fill="none" stroke="#3a3333" stroke-width="0.9"/>
<path d="M191.20,203.20 L192.80,205.00 L191.20,206.80 L189.60,205.00 Z" fill="#3a3333"/>
<path d="M203.30,217.43 L204.90,219.23 L203.30,221.03 L201.70,219.23 Z" fill="#3a3333"/>
<path d="M210.60,219.01 L212.20,220.81 L210.60,222.61 L209.00,220.81 Z" fill="#3a3333"/>
<path d="M218.70,223.23 L220.30,225.03 L218.70,226.83 L217.10,225.03 Z" fill="#3a3333"/>
<path d="M225.10,228.50 L226.70,230.30 L225.10,232.10 L223.50,230.30 Z" fill="#3a3333"/>
<path d="M232.80,246.94 L234.40,248.74 L232.80,250.54 L231.20,248.74 Z" fill="#3a3333"/>
<path d="M239.90,253.26 L241.50,255.06 L239.90,256.87 L238.30,255.06 Z" fill="#3a3333"/>
<path d="M247.20,254.32 L248.80,256.12 L247.20,257.92 L245.60,256.12 Z" fill="#3a3333"/>
<path d="M254.70,254.32 L256.30,256.12 L254.70,257.92 L253.10,256.12 Z" fill="#3a3333"/>
<path d="M262.00,254.85 L263.60,256.65 L262.00,258.45 L260.40,256.65 Z" fill="#3a3333"/>
<line x1="322.40" y1="195.00" x2="322.40" y2="258.20" stroke="#231f20" stroke-width="1.0" />
<line x1="321.90" y1="257.70" x2="414.50" y2="257.70" stroke="#231f20" stroke-width="1.2" />
<line x1="319.40" y1="257.70" x2="322.40" y2="257.70" stroke="#231f20" stroke-width="0.9" />
<text x="316.80" y="260.80" font-size="8.9" text-anchor="end" textLength="11.30" lengthAdjust="spacingAndGlyphs" >0.0</text>
<line x1="319.40" y1="233.80" x2="322.40" y2="233.80" stroke="#231f20" stroke-width="0.9" />
<text x="316.80" y="236.90" font-size="8.9" text-anchor="end" textLength="11.30" lengthAdjust="spacingAndGlyphs" >0.5</text>
<line x1="319.40" y1="209.90" x2="322.40" y2="209.90" stroke="#231f20" stroke-width="0.9" />
<text x="316.80" y="213.00" font-size="8.9" text-anchor="end" textLength="11.30" lengthAdjust="spacingAndGlyphs" >1.0</text>
<line x1="323.20" y1="257.70" x2="323.20" y2="260.30" stroke="#231f20" stroke-width="0.6" />
<line x1="326.59" y1="257.70" x2="326.59" y2="259.30" stroke="#231f20" stroke-width="0.45" />
<line x1="328.57" y1="257.70" x2="328.57" y2="259.30" stroke="#231f20" stroke-width="0.45" />
<line x1="329.98" y1="257.70" x2="329.98" y2="259.30" stroke="#231f20" stroke-width="0.45" />
<line x1="331.07" y1="257.70" x2="331.07" y2="259.30" stroke="#231f20" stroke-width="0.45" />
<line x1="331.96" y1="257.70" x2="331.96" y2="259.30" stroke="#231f20" stroke-width="0.45" />
<line x1="332.72" y1="257.70" x2="332.72" y2="259.30" stroke="#231f20" stroke-width="0.45" />
<line x1="333.37" y1="257.70" x2="333.37" y2="259.30" stroke="#231f20" stroke-width="0.45" />
<line x1="333.95" y1="257.70" x2="333.95" y2="259.30" stroke="#231f20" stroke-width="0.45" />
<line x1="334.46" y1="257.70" x2="334.46" y2="260.30" stroke="#231f20" stroke-width="0.6" />
<line x1="337.85" y1="257.70" x2="337.85" y2="259.30" stroke="#231f20" stroke-width="0.45" />
<line x1="339.84" y1="257.70" x2="339.84" y2="259.30" stroke="#231f20" stroke-width="0.45" />
<line x1="341.24" y1="257.70" x2="341.24" y2="259.30" stroke="#231f20" stroke-width="0.45" />
<line x1="342.33" y1="257.70" x2="342.33" y2="259.30" stroke="#231f20" stroke-width="0.45" />
<line x1="343.23" y1="257.70" x2="343.23" y2="259.30" stroke="#231f20" stroke-width="0.45" />
<line x1="343.98" y1="257.70" x2="343.98" y2="259.30" stroke="#231f20" stroke-width="0.45" />
<line x1="344.63" y1="257.70" x2="344.63" y2="259.30" stroke="#231f20" stroke-width="0.45" />
<line x1="345.21" y1="257.70" x2="345.21" y2="259.30" stroke="#231f20" stroke-width="0.45" />
<line x1="345.73" y1="257.70" x2="345.73" y2="260.30" stroke="#231f20" stroke-width="0.6" />
<line x1="349.12" y1="257.70" x2="349.12" y2="259.30" stroke="#231f20" stroke-width="0.45" />
<line x1="351.10" y1="257.70" x2="351.10" y2="259.30" stroke="#231f20" stroke-width="0.45" />
<line x1="352.51" y1="257.70" x2="352.51" y2="259.30" stroke="#231f20" stroke-width="0.45" />
<line x1="353.60" y1="257.70" x2="353.60" y2="259.30" stroke="#231f20" stroke-width="0.45" />
<line x1="354.49" y1="257.70" x2="354.49" y2="259.30" stroke="#231f20" stroke-width="0.45" />
<line x1="355.24" y1="257.70" x2="355.24" y2="259.30" stroke="#231f20" stroke-width="0.45" />
<line x1="355.90" y1="257.70" x2="355.90" y2="259.30" stroke="#231f20" stroke-width="0.45" />
<line x1="356.47" y1="257.70" x2="356.47" y2="259.30" stroke="#231f20" stroke-width="0.45" />
<line x1="356.99" y1="257.70" x2="356.99" y2="260.30" stroke="#231f20" stroke-width="0.6" />
<line x1="360.38" y1="257.70" x2="360.38" y2="259.30" stroke="#231f20" stroke-width="0.45" />
<line x1="362.36" y1="257.70" x2="362.36" y2="259.30" stroke="#231f20" stroke-width="0.45" />
<line x1="363.77" y1="257.70" x2="363.77" y2="259.30" stroke="#231f20" stroke-width="0.45" />
<line x1="364.86" y1="257.70" x2="364.86" y2="259.30" stroke="#231f20" stroke-width="0.45" />
<line x1="365.75" y1="257.70" x2="365.75" y2="259.30" stroke="#231f20" stroke-width="0.45" />
<line x1="366.51" y1="257.70" x2="366.51" y2="259.30" stroke="#231f20" stroke-width="0.45" />
<line x1="367.16" y1="257.70" x2="367.16" y2="259.30" stroke="#231f20" stroke-width="0.45" />
<line x1="367.73" y1="257.70" x2="367.73" y2="259.30" stroke="#231f20" stroke-width="0.45" />
<line x1="368.25" y1="257.70" x2="368.25" y2="260.30" stroke="#231f20" stroke-width="0.6" />
<line x1="371.64" y1="257.70" x2="371.64" y2="259.30" stroke="#231f20" stroke-width="0.45" />
<line x1="373.62" y1="257.70" x2="373.62" y2="259.30" stroke="#231f20" stroke-width="0.45" />
<line x1="375.03" y1="257.70" x2="375.03" y2="259.30" stroke="#231f20" stroke-width="0.45" />
<line x1="376.12" y1="257.70" x2="376.12" y2="259.30" stroke="#231f20" stroke-width="0.45" />
<line x1="377.01" y1="257.70" x2="377.01" y2="259.30" stroke="#231f20" stroke-width="0.45" />
<line x1="377.77" y1="257.70" x2="377.77" y2="259.30" stroke="#231f20" stroke-width="0.45" />
<line x1="378.42" y1="257.70" x2="378.42" y2="259.30" stroke="#231f20" stroke-width="0.45" />
<line x1="379.00" y1="257.70" x2="379.00" y2="259.30" stroke="#231f20" stroke-width="0.45" />
<line x1="379.51" y1="257.70" x2="379.51" y2="260.30" stroke="#231f20" stroke-width="0.6" />
<line x1="382.90" y1="257.70" x2="382.90" y2="259.30" stroke="#231f20" stroke-width="0.45" />
<line x1="384.89" y1="257.70" x2="384.89" y2="259.30" stroke="#231f20" stroke-width="0.45" />
<line x1="386.29" y1="257.70" x2="386.29" y2="259.30" stroke="#231f20" stroke-width="0.45" />
<line x1="387.38" y1="257.70" x2="387.38" y2="259.30" stroke="#231f20" stroke-width="0.45" />
<line x1="388.28" y1="257.70" x2="388.28" y2="259.30" stroke="#231f20" stroke-width="0.45" />
<line x1="389.03" y1="257.70" x2="389.03" y2="259.30" stroke="#231f20" stroke-width="0.45" />
<line x1="389.68" y1="257.70" x2="389.68" y2="259.30" stroke="#231f20" stroke-width="0.45" />
<line x1="390.26" y1="257.70" x2="390.26" y2="259.30" stroke="#231f20" stroke-width="0.45" />
<line x1="390.77" y1="257.70" x2="390.77" y2="260.30" stroke="#231f20" stroke-width="0.6" />
<line x1="394.17" y1="257.70" x2="394.17" y2="259.30" stroke="#231f20" stroke-width="0.45" />
<line x1="396.15" y1="257.70" x2="396.15" y2="259.30" stroke="#231f20" stroke-width="0.45" />
<line x1="397.56" y1="257.70" x2="397.56" y2="259.30" stroke="#231f20" stroke-width="0.45" />
<line x1="398.65" y1="257.70" x2="398.65" y2="259.30" stroke="#231f20" stroke-width="0.45" />
<line x1="399.54" y1="257.70" x2="399.54" y2="259.30" stroke="#231f20" stroke-width="0.45" />
<line x1="400.29" y1="257.70" x2="400.29" y2="259.30" stroke="#231f20" stroke-width="0.45" />
<line x1="400.95" y1="257.70" x2="400.95" y2="259.30" stroke="#231f20" stroke-width="0.45" />
<line x1="401.52" y1="257.70" x2="401.52" y2="259.30" stroke="#231f20" stroke-width="0.45" />
<line x1="402.04" y1="257.70" x2="402.04" y2="260.30" stroke="#231f20" stroke-width="0.6" />
<line x1="405.43" y1="257.70" x2="405.43" y2="259.30" stroke="#231f20" stroke-width="0.45" />
<line x1="407.41" y1="257.70" x2="407.41" y2="259.30" stroke="#231f20" stroke-width="0.45" />
<line x1="408.82" y1="257.70" x2="408.82" y2="259.30" stroke="#231f20" stroke-width="0.45" />
<line x1="409.91" y1="257.70" x2="409.91" y2="259.30" stroke="#231f20" stroke-width="0.45" />
<line x1="410.80" y1="257.70" x2="410.80" y2="259.30" stroke="#231f20" stroke-width="0.45" />
<line x1="411.56" y1="257.70" x2="411.56" y2="259.30" stroke="#231f20" stroke-width="0.45" />
<line x1="412.21" y1="257.70" x2="412.21" y2="259.30" stroke="#231f20" stroke-width="0.45" />
<line x1="412.78" y1="257.70" x2="412.78" y2="259.30" stroke="#231f20" stroke-width="0.45" />
<line x1="413.30" y1="257.70" x2="413.30" y2="260.30" stroke="#231f20" stroke-width="0.6" />
<text x="325.00" y="268.90" font-size="8.2" text-anchor="end" transform="rotate(-45 325.00 268.90)">1x10<tspan font-size="5.74" dy="-3.28">-05</tspan></text>
<text x="336.26" y="268.90" font-size="8.2" text-anchor="end" transform="rotate(-45 336.26 268.90)">1x10<tspan font-size="5.74" dy="-3.28">-04</tspan></text>
<text x="347.53" y="268.90" font-size="8.2" text-anchor="end" transform="rotate(-45 347.53 268.90)">1x10<tspan font-size="5.74" dy="-3.28">-03</tspan></text>
<text x="358.79" y="268.90" font-size="8.2" text-anchor="end" transform="rotate(-45 358.79 268.90)">1x10<tspan font-size="5.74" dy="-3.28">-02</tspan></text>
<text x="370.05" y="268.90" font-size="8.2" text-anchor="end" transform="rotate(-45 370.05 268.90)">1x10<tspan font-size="5.74" dy="-3.28">-01</tspan></text>
<text x="381.31" y="268.90" font-size="8.2" text-anchor="end" transform="rotate(-45 381.31 268.90)">1x10<tspan font-size="5.74" dy="-3.28">00</tspan></text>
<text x="392.57" y="268.90" font-size="8.2" text-anchor="end" transform="rotate(-45 392.57 268.90)">1x10<tspan font-size="5.74" dy="-3.28">01</tspan></text>
<text x="403.84" y="268.90" font-size="8.2" text-anchor="end" transform="rotate(-45 403.84 268.90)">1x10<tspan font-size="5.74" dy="-3.28">02</tspan></text>
<text x="415.10" y="268.90" font-size="8.2" text-anchor="end" transform="rotate(-45 415.10 268.90)">1x10<tspan font-size="5.74" dy="-3.28">03</tspan></text>
<text x="370.40" y="298.00" font-size="9.3" text-anchor="middle" textLength="51.00" lengthAdjust="spacingAndGlyphs" >ASNase [IU/ml]</text>
<text x="300.60" y="226.30" font-size="9.3" text-anchor="middle" textLength="53.00" lengthAdjust="spacingAndGlyphs" transform="rotate(-90 300.60 226.30)" >Relative viability</text>
<text x="351.70" y="199.00" font-size="8.3" textLength="42.30" lengthAdjust="spacingAndGlyphs" >X-SK-5942D</text>
<polyline points="335.00,209.90 346.90,253.88 353.70,252.92 361.30,249.10 368.10,250.05 375.80,250.53 382.50,251.96 391.20,253.40 398.80,254.35 405.60,253.88" fill="none" stroke="#3a3333" stroke-width="0.9"/>
<path d="M335.00,208.10 L336.60,209.90 L335.00,211.70 L333.40,209.90 Z" fill="#3a3333"/>
<path d="M346.90,252.08 L348.50,253.88 L346.90,255.68 L345.30,253.88 Z" fill="#3a3333"/>
<path d="M353.70,251.12 L355.30,252.92 L353.70,254.72 L352.10,252.92 Z" fill="#3a3333"/>
<path d="M361.30,247.30 L362.90,249.10 L361.30,250.90 L359.70,249.10 Z" fill="#3a3333"/>
<path d="M368.10,248.25 L369.70,250.05 L368.10,251.85 L366.50,250.05 Z" fill="#3a3333"/>
<path d="M375.80,248.73 L377.40,250.53 L375.80,252.33 L374.20,250.53 Z" fill="#3a3333"/>
<path d="M382.50,250.16 L384.10,251.96 L382.50,253.76 L380.90,251.96 Z" fill="#3a3333"/>
<path d="M391.20,251.60 L392.80,253.40 L391.20,255.20 L389.60,253.40 Z" fill="#3a3333"/>
<path d="M398.80,252.55 L400.40,254.35 L398.80,256.15 L397.20,254.35 Z" fill="#3a3333"/>
<path d="M405.60,252.08 L407.20,253.88 L405.60,255.68 L404.00,253.88 Z" fill="#3a3333"/>
<polyline points="335.00,209.90 346.90,252.92 353.70,251.96 361.30,250.53 368.10,254.35 375.80,253.88 382.50,254.35 391.20,255.31 398.80,255.31 405.60,255.79" fill="none" stroke="#111111" stroke-width="0.9"/>
<circle cx="335.00" cy="209.90" r="1.5" fill="#111111"/>
<circle cx="346.90" cy="252.92" r="1.5" fill="#111111"/>
<circle cx="353.70" cy="251.96" r="1.5" fill="#111111"/>
<circle cx="361.30" cy="250.53" r="1.5" fill="#111111"/>
<circle cx="368.10" cy="254.35" r="1.5" fill="#111111"/>
<circle cx="375.80" cy="253.88" r="1.5" fill="#111111"/>
<circle cx="382.50" cy="254.35" r="1.5" fill="#111111"/>
<circle cx="391.20" cy="255.31" r="1.5" fill="#111111"/>
<circle cx="398.80" cy="255.31" r="1.5" fill="#111111"/>
<circle cx="405.60" cy="255.79" r="1.5" fill="#111111"/>
<polyline points="335.00,209.90 346.90,251.01 353.70,250.05 361.30,251.96 368.10,251.01 375.80,251.96 382.50,252.92 391.20,254.83 398.80,254.35 405.60,255.31" fill="none" stroke="#6b6565" stroke-width="0.9"/>
<path d="M333.20,211.10 L336.80,211.10 L335.00,208.30 Z" fill="#6b6565"/>
<path d="M345.10,252.21 L348.70,252.21 L346.90,249.41 Z" fill="#6b6565"/>
<path d="M351.90,251.25 L355.50,251.25 L353.70,248.45 Z" fill="#6b6565"/>
<path d="M359.50,253.16 L363.10,253.16 L361.30,250.36 Z" fill="#6b6565"/>
<path d="M366.30,252.21 L369.90,252.21 L368.10,249.41 Z" fill="#6b6565"/>
<path d="M374.00,253.16 L377.60,253.16 L375.80,250.36 Z" fill="#6b6565"/>
<path d="M380.70,254.12 L384.30,254.12 L382.50,251.32 Z" fill="#6b6565"/>
<path d="M389.40,256.03 L393.00,256.03 L391.20,253.23 Z" fill="#6b6565"/>
<path d="M397.00,255.55 L400.60,255.55 L398.80,252.75 Z" fill="#6b6565"/>
<path d="M403.80,256.51 L407.40,256.51 L405.60,253.71 Z" fill="#6b6565"/>
<polyline points="335.00,209.90 346.90,245.75 353.70,249.10 361.30,252.92 368.10,251.96 375.80,252.92 382.50,253.88 391.20,256.74 398.80,256.74 405.60,256.74" fill="none" stroke="#b5b0ab" stroke-width="0.9"/>
<path d="M333.20,208.70 L336.80,208.70 L335.00,211.50 Z" fill="#b5b0ab"/>
<path d="M345.10,244.55 L348.70,244.55 L346.90,247.35 Z" fill="#b5b0ab"/>
<path d="M351.90,247.90 L355.50,247.90 L353.70,250.70 Z" fill="#b5b0ab"/>
<path d="M359.50,251.72 L363.10,251.72 L361.30,254.52 Z" fill="#b5b0ab"/>
<path d="M366.30,250.76 L369.90,250.76 L368.10,253.56 Z" fill="#b5b0ab"/>
<path d="M374.00,251.72 L377.60,251.72 L375.80,254.52 Z" fill="#b5b0ab"/>
<path d="M380.70,252.68 L384.30,252.68 L382.50,255.48 Z" fill="#b5b0ab"/>
<path d="M389.40,255.54 L393.00,255.54 L391.20,258.34 Z" fill="#b5b0ab"/>
<path d="M397.00,255.54 L400.60,255.54 L398.80,258.34 Z" fill="#b5b0ab"/>
<path d="M403.80,255.54 L407.40,255.54 L405.60,258.34 Z" fill="#b5b0ab"/>
<circle cx="435.4" cy="194.0" r="1.6" fill="#111111"/>
<text x="441.00" y="196.80" font-size="8" textLength="46.90" lengthAdjust="spacingAndGlyphs" >0 uM ibrutinib</text>
<path d="M433.59999999999997,201.8 L437.2,201.8 L435.4,204.6 Z" fill="#9a9696"/>
<text x="441.00" y="205.80" font-size="8" textLength="54.00" lengthAdjust="spacingAndGlyphs" >0.1 uM ibrutinib</text>
<path d="M433.59999999999997,212.89999999999998 L437.2,212.89999999999998 L435.4,210.1 Z" fill="#6b6565"/>
<text x="441.00" y="214.50" font-size="8" textLength="47.00" lengthAdjust="spacingAndGlyphs" >1 uM ibrutinib</text>
<path d="M435.4,218.4 L437.09999999999997,220.3 L435.4,222.20000000000002 L433.7,220.3 Z" fill="#3a3333"/>
<text x="441.00" y="223.10" font-size="8" textLength="51.50" lengthAdjust="spacingAndGlyphs" >10 uM ibrutinib</text>
<defs><clipPath id="chm1"><rect x="29.5" y="302.2" width="88.90" height="76.10"/></clipPath></defs>
<g clip-path="url(#chm1)"><g filter="url(#blur)">
<rect x="28.00" y="300.70" width="11.68" height="10.20" fill="#e8192c" fill-opacity="0.15"/>
<rect x="39.38" y="300.70" width="10.18" height="10.20" fill="#e8192c" fill-opacity="0.18"/>
<rect x="49.26" y="300.70" width="10.18" height="10.20" fill="#e8192c" fill-opacity="0.25"/>
<rect x="59.13" y="300.70" width="10.18" height="10.20" fill="#e8192c" fill-opacity="0.50"/>
<rect x="69.01" y="300.70" width="10.18" height="10.20" fill="#e8192c" fill-opacity="0.55"/>
<rect x="78.89" y="300.70" width="10.18" height="10.20" fill="#e8192c" fill-opacity="0.12"/>
<rect x="108.52" y="300.70" width="11.68" height="10.20" fill="#e8192c" fill-opacity="0.05"/>
<rect x="28.00" y="310.60" width="11.68" height="8.80" fill="#e8192c" fill-opacity="0.30"/>
<rect x="39.38" y="310.60" width="10.18" height="8.80" fill="#e8192c" fill-opacity="0.40"/>
<rect x="49.26" y="310.60" width="10.18" height="8.80" fill="#e8192c" fill-opacity="0.55"/>
<rect x="59.13" y="310.60" width="10.18" height="8.80" fill="#e8192c" fill-opacity="0.95"/>
<rect x="69.01" y="310.60" width="10.18" height="8.80" fill="#e8192c" fill-opacity="1.00"/>
<rect x="78.89" y="310.60" width="10.18" height="8.80" fill="#e8192c" fill-opacity="0.12"/>
<rect x="98.64" y="310.60" width="10.18" height="8.80" fill="#e8192c" fill-opacity="0.05"/>
<rect x="108.52" y="310.60" width="11.68" height="8.80" fill="#e8192c" fill-opacity="0.12"/>
<rect x="28.00" y="319.10" width="11.68" height="8.80" fill="#e8192c" fill-opacity="0.32"/>
<rect x="39.38" y="319.10" width="10.18" height="8.80" fill="#e8192c" fill-opacity="0.45"/>
<rect x="49.26" y="319.10" width="10.18" height="8.80" fill="#e8192c" fill-opacity="0.65"/>
<rect x="59.13" y="319.10" width="10.18" height="8.80" fill="#e8192c" fill-opacity="1.00"/>
<rect x="69.01" y="319.10" width="10.18" height="8.80" fill="#e8192c" fill-opacity="1.00"/>
<rect x="78.89" y="319.10" width="10.18" height="8.80" fill="#e8192c" fill-opacity="0.12"/>
<rect x="88.77" y="319.10" width="10.18" height="8.80" fill="#e8192c" fill-opacity="0.03"/>
<rect x="98.64" y="319.10" width="10.18" height="8.80" fill="#e8192c" fill-opacity="0.22"/>
<rect x="108.52" y="319.10" width="11.68" height="8.80" fill="#e8192c" fill-opacity="0.25"/>
<rect x="28.00" y="327.60" width="11.68" height="8.80" fill="#e8192c" fill-opacity="0.32"/>
<rect x="39.38" y="327.60" width="10.18" height="8.80" fill="#e8192c" fill-opacity="0.45"/>
<rect x="49.26" y="327.60" width="10.18" height="8.80" fill="#e8192c" fill-opacity="0.90"/>
<rect x="59.13" y="327.60" width="10.18" height="8.80" fill="#e8192c" fill-opacity="1.00"/>
<rect x="69.01" y="327.60" width="10.18" height="8.80" fill="#e8192c" fill-opacity="0.95"/>
<rect x="78.89" y="327.60" width="10.18" height="8.80" fill="#e8192c" fill-opacity="0.12"/>
<rect x="88.77" y="327.60" width="10.18" height="8.80" fill="#e8192c" fill-opacity="0.12"/>
<rect x="98.64" y="327.60" width="10.18" height="8.80" fill="#e8192c" fill-opacity="0.60"/>
<rect x="108.52" y="327.60" width="11.68" height="8.80" fill="#e8192c" fill-opacity="0.40"/>
<rect x="28.00" y="336.10" width="11.68" height="8.80" fill="#e8192c" fill-opacity="0.32"/>
<rect x="39.38" y="336.10" width="10.18" height="8.80" fill="#e8192c" fill-opacity="0.45"/>
<rect x="49.26" y="336.10" width="10.18" height="8.80" fill="#e8192c" fill-opacity="0.90"/>
<rect x="59.13" y="336.10" width="10.18" height="8.80" fill="#e8192c" fill-opacity="1.00"/>
<rect x="69.01" y="336.10" width="10.18" height="8.80" fill="#e8192c" fill-opacity="0.85"/>
<rect x="78.89" y="336.10" width="10.18" height="8.80" fill="#e8192c" fill-opacity="0.03"/>
<rect x="88.77" y="336.10" width="10.18" height="8.80" fill="#e8192c" fill-opacity="0.20"/>
<rect x="98.64" y="336.10" width="10.18" height="8.80" fill="#e8192c" fill-opacity="0.85"/>
<rect x="108.52" y="336.10" width="11.68" height="8.80" fill="#e8192c" fill-opacity="0.50"/>
<rect x="28.00" y="344.60" width="11.68" height="8.80" fill="#e8192c" fill-opacity="0.32"/>
<rect x="39.38" y="344.60" width="10.18" height="8.80" fill="#e8192c" fill-opacity="0.45"/>
<rect x="49.26" y="344.60" width="10.18" height="8.80" fill="#e8192c" fill-opacity="0.90"/>
<rect x="59.13" y="344.60" width="10.18" height="8.80" fill="#e8192c" fill-opacity="1.00"/>
<rect x="69.01" y="344.60" width="10.18" height="8.80" fill="#e8192c" fill-opacity="0.75"/>
<rect x="78.89" y="344.60" width="10.18" height="8.80" fill="#e8192c" fill-opacity="0.03"/>
<rect x="88.77" y="344.60" width="10.18" height="8.80" fill="#e8192c" fill-opacity="0.20"/>
<rect x="98.64" y="344.60" width="10.18" height="8.80" fill="#e8192c" fill-opacity="0.85"/>
<rect x="108.52" y="344.60" width="11.68" height="8.80" fill="#e8192c" fill-opacity="0.50"/>
<rect x="28.00" y="353.10" width="11.68" height="8.80" fill="#e8192c" fill-opacity="0.32"/>
<rect x="39.38" y="353.10" width="10.18" height="8.80" fill="#e8192c" fill-opacity="0.45"/>
<rect x="49.26" y="353.10" width="10.18" height="8.80" fill="#e8192c" fill-opacity="0.90"/>
<rect x="59.13" y="353.10" width="10.18" height="8.80" fill="#e8192c" fill-opacity="0.95"/>
<rect x="69.01" y="353.10" width="10.18" height="8.80" fill="#e8192c" fill-opacity="0.65"/>
<rect x="78.89" y="353.10" width="10.18" height="8.80" fill="#e8192c" fill-opacity="0.06"/>
<rect x="88.77" y="353.10" width="10.18" height="8.80" fill="#e8192c" fill-opacity="0.25"/>
<rect x="98.64" y="353.10" width="10.18" height="8.80" fill="#e8192c" fill-opacity="0.90"/>
<rect x="108.52" y="353.10" width="11.68" height="8.80" fill="#e8192c" fill-opacity="0.50"/>
<rect x="28.00" y="361.60" width="11.68" height="8.80" fill="#e8192c" fill-opacity="0.30"/>
<rect x="39.38" y="361.60" width="10.18" height="8.80" fill="#e8192c" fill-opacity="0.42"/>
<rect x="49.26" y="361.60" width="10.18" height="8.80" fill="#e8192c" fill-opacity="0.85"/>
<rect x="59.13" y="361.60" width="10.18" height="8.80" fill="#e8192c" fill-opacity="0.90"/>
<rect x="69.01" y="361.60" width="10.18" height="8.80" fill="#e8192c" fill-opacity="0.55"/>
<rect x="78.89" y="361.60" width="10.18" height="8.80" fill="#e8192c" fill-opacity="0.12"/>
<rect x="88.77" y="361.60" width="10.18" height="8.80" fill="#e8192c" fill-opacity="0.30"/>
<rect x="98.64" y="361.60" width="10.18" height="8.80" fill="#e8192c" fill-opacity="0.85"/>
<rect x="108.52" y="361.60" width="11.68" height="8.80" fill="#e8192c" fill-opacity="0.45"/>
<rect x="28.00" y="370.10" width="11.68" height="10.00" fill="#e8192c" fill-opacity="0.20"/>
<rect x="39.38" y="370.10" width="10.18" height="10.00" fill="#e8192c" fill-opacity="0.30"/>
<rect x="49.26" y="370.10" width="10.18" height="10.00" fill="#e8192c" fill-opacity="0.55"/>
<rect x="59.13" y="370.10" width="10.18" height="10.00" fill="#e8192c" fill-opacity="0.60"/>
<rect x="69.01" y="370.10" width="10.18" height="10.00" fill="#e8192c" fill-opacity="0.35"/>
<rect x="78.89" y="370.10" width="10.18" height="10.00" fill="#e8192c" fill-opacity="0.15"/>
<rect x="88.77" y="370.10" width="10.18" height="10.00" fill="#e8192c" fill-opacity="0.25"/>
<rect x="98.64" y="370.10" width="10.18" height="10.00" fill="#e8192c" fill-opacity="0.55"/>
<rect x="108.52" y="370.10" width="11.68" height="10.00" fill="#e8192c" fill-opacity="0.30"/>
<ellipse cx="29.5" cy="302.2" rx="5" ry="2.5" fill="#3a9e2f" opacity="0.5" transform="translate(63,15)"/>
<ellipse cx="29.5" cy="302.2" rx="6" ry="9" fill="#e8192c" opacity="0.5" transform="translate(35,25)"/>
</g></g>
<g stroke="#3a3a3a" stroke-width="0.55" opacity="0.9">
<line x1="29.50" y1="302.2" x2="29.50" y2="378.3"/>
<line x1="39.38" y1="302.2" x2="39.38" y2="378.3"/>
<line x1="49.26" y1="302.2" x2="49.26" y2="378.3"/>
<line x1="59.13" y1="302.2" x2="59.13" y2="378.3"/>
<line x1="69.01" y1="302.2" x2="69.01" y2="378.3"/>
<line x1="78.89" y1="302.2" x2="78.89" y2="378.3"/>
<line x1="88.77" y1="302.2" x2="88.77" y2="378.3"/>
<line x1="98.64" y1="302.2" x2="98.64" y2="378.3"/>
<line x1="108.52" y1="302.2" x2="108.52" y2="378.3"/>
<line x1="118.40" y1="302.2" x2="118.40" y2="378.3"/>
<line x1="29.5" y1="302.20" x2="118.4" y2="302.20"/>
<line x1="29.5" y1="310.60" x2="118.4" y2="310.60"/>
<line x1="29.5" y1="319.10" x2="118.4" y2="319.10"/>
<line x1="29.5" y1="327.60" x2="118.4" y2="327.60"/>
<line x1="29.5" y1="336.10" x2="118.4" y2="336.10"/>
<line x1="29.5" y1="344.60" x2="118.4" y2="344.60"/>
<line x1="29.5" y1="353.10" x2="118.4" y2="353.10"/>
<line x1="29.5" y1="361.60" x2="118.4" y2="361.60"/>
<line x1="29.5" y1="370.10" x2="118.4" y2="370.10"/>
<line x1="29.5" y1="378.30" x2="118.4" y2="378.30"/>
</g>
<rect x="49.26" y="327.60" width="19.76" height="17.00" fill="none" stroke="#fff" stroke-width="0.7" opacity="0.55"/>
<g fill="none" stroke="#fff" stroke-width="0.5" opacity="0.55"><path d="M58,314 C62,309 70,310 71,316 C72,324 70,334 69,345 C68,356 66,366 60,370 C53,373 47,370 47,360 C47,348 50,330 58,314 Z"/><path d="M61,316 C64,313 68,314 68,319 C68,326 66,332 63,334 C60,335 58,331 58,326 C58,321 59,318 61,316 Z"/><path d="M100,331 C106,327 112,330 113,340 C114,352 113,366 107,372 C101,375 96,370 96,360 C96,348 95,335 100,331 Z"/><path d="M104,362 C107,361 110,364 109,368 C107,371 103,370 103,366 Z"/></g>
<text x="122.70" y="305.10" font-size="8" >100</text>
<text x="122.70" y="313.50" font-size="8" >32</text>
<text x="122.70" y="322.00" font-size="8" >10</text>
<text x="122.70" y="330.50" font-size="8" >3</text>
<text x="122.70" y="339.00" font-size="8" >1</text>
<text x="122.70" y="347.50" font-size="8" >0.3</text>
<text x="122.70" y="356.00" font-size="8" >0.1</text>
<text x="122.70" y="364.50" font-size="8" >0.03</text>
<text x="122.70" y="373.00" font-size="8" >0.01</text>
<text x="122.70" y="381.20" font-size="8" >0</text>
<text x="143.70" y="338.00" font-size="8.4" text-anchor="middle" textLength="47.00" lengthAdjust="spacingAndGlyphs" transform="rotate(90 143.70 338.00)" >Ibrutinib [uM]</text>
<text x="33.60" y="383.70" font-size="7.3" text-anchor="end" textLength="12.42" lengthAdjust="spacingAndGlyphs" transform="rotate(-90 33.60 383.70)" >100</text>
<text x="43.48" y="383.70" font-size="7.3" text-anchor="end" textLength="8.28" lengthAdjust="spacingAndGlyphs" transform="rotate(-90 43.48 383.70)" >24</text>
<text x="53.36" y="383.70" font-size="7.3" text-anchor="end" textLength="4.14" lengthAdjust="spacingAndGlyphs" transform="rotate(-90 53.36 383.70)" >6</text>
<text x="63.23" y="383.70" font-size="7.3" text-anchor="end" textLength="4.14" lengthAdjust="spacingAndGlyphs" transform="rotate(-90 63.23 383.70)" >1</text>
<text x="73.11" y="383.70" font-size="7.3" text-anchor="end" textLength="10.35" lengthAdjust="spacingAndGlyphs" transform="rotate(-90 73.11 383.70)" >0.3</text>
<text x="82.99" y="383.70" font-size="7.3" text-anchor="end" textLength="10.35" lengthAdjust="spacingAndGlyphs" transform="rotate(-90 82.99 383.70)" >0.1</text>
<text x="92.87" y="383.70" font-size="7.3" text-anchor="end" textLength="14.49" lengthAdjust="spacingAndGlyphs" transform="rotate(-90 92.87 383.70)" >0.02</text>
<text x="102.74" y="383.70" font-size="7.3" text-anchor="end" textLength="18.63" lengthAdjust="spacingAndGlyphs" transform="rotate(-90 102.74 383.70)" >0.004</text>
<text x="112.62" y="383.70" font-size="7.3" text-anchor="end" textLength="18.63" lengthAdjust="spacingAndGlyphs" transform="rotate(-90 112.62 383.70)" >0.001</text>
<text x="122.50" y="383.70" font-size="7.3" text-anchor="end" textLength="4.14" lengthAdjust="spacingAndGlyphs" transform="rotate(-90 122.50 383.70)" >0</text>
<text x="73.15" y="412.50" font-size="8.9" text-anchor="middle" textLength="47.20" lengthAdjust="spacingAndGlyphs" >ASNase [IU/ml]</text>
<text x="21.30" y="423.40" font-size="8.9" textLength="104.80" lengthAdjust="spacingAndGlyphs" >Average ZIP synergy score: 8.85</text>
<text x="21.30" y="434.60" font-size="8.9" textLength="86.80" lengthAdjust="spacingAndGlyphs" >max ZIP synergy score: 19.62</text>
<defs><clipPath id="chm2"><rect x="172.0" y="302.2" width="89.70" height="76.10"/></clipPath></defs>
<g clip-path="url(#chm2)"><g filter="url(#blur)">
<rect x="170.50" y="300.70" width="11.77" height="10.20" fill="#e8192c" fill-opacity="0.03"/>
<rect x="181.97" y="300.70" width="10.27" height="10.20" fill="#e8192c" fill-opacity="0.03"/>
<rect x="191.93" y="300.70" width="10.27" height="10.20" fill="#e8192c" fill-opacity="0.05"/>
<rect x="201.90" y="300.70" width="10.27" height="10.20" fill="#e8192c" fill-opacity="0.30"/>
<rect x="211.87" y="300.70" width="10.27" height="10.20" fill="#e8192c" fill-opacity="0.65"/>
<rect x="221.83" y="300.70" width="10.27" height="10.20" fill="#e8192c" fill-opacity="0.70"/>
<rect x="231.80" y="300.70" width="10.27" height="10.20" fill="#e8192c" fill-opacity="0.55"/>
<rect x="241.77" y="300.70" width="10.27" height="10.20" fill="#e8192c" fill-opacity="0.55"/>
<rect x="251.73" y="300.70" width="11.77" height="10.20" fill="#e8192c" fill-opacity="0.30"/>
<rect x="170.50" y="310.60" width="11.77" height="8.80" fill="#e8192c" fill-opacity="0.75"/>
<rect x="181.97" y="310.60" width="10.27" height="8.80" fill="#e8192c" fill-opacity="0.70"/>
<rect x="191.93" y="310.60" width="10.27" height="8.80" fill="#e8192c" fill-opacity="0.70"/>
<rect x="201.90" y="310.60" width="10.27" height="8.80" fill="#e8192c" fill-opacity="0.85"/>
<rect x="211.87" y="310.60" width="10.27" height="8.80" fill="#e8192c" fill-opacity="1.00"/>
<rect x="221.83" y="310.60" width="10.27" height="8.80" fill="#e8192c" fill-opacity="1.00"/>
<rect x="231.80" y="310.60" width="10.27" height="8.80" fill="#e8192c" fill-opacity="0.95"/>
<rect x="241.77" y="310.60" width="10.27" height="8.80" fill="#e8192c" fill-opacity="0.90"/>
<rect x="251.73" y="310.60" width="11.77" height="8.80" fill="#e8192c" fill-opacity="0.60"/>
<rect x="170.50" y="319.10" width="11.77" height="8.80" fill="#e8192c" fill-opacity="0.70"/>
<rect x="181.97" y="319.10" width="10.27" height="8.80" fill="#e8192c" fill-opacity="0.60"/>
<rect x="191.93" y="319.10" width="10.27" height="8.80" fill="#e8192c" fill-opacity="0.60"/>
<rect x="201.90" y="319.10" width="10.27" height="8.80" fill="#e8192c" fill-opacity="0.65"/>
<rect x="211.87" y="319.10" width="10.27" height="8.80" fill="#e8192c" fill-opacity="0.90"/>
<rect x="221.83" y="319.10" width="10.27" height="8.80" fill="#e8192c" fill-opacity="0.75"/>
<rect x="231.80" y="319.10" width="10.27" height="8.80" fill="#e8192c" fill-opacity="0.60"/>
<rect x="241.77" y="319.10" width="10.27" height="8.80" fill="#e8192c" fill-opacity="0.65"/>
<rect x="251.73" y="319.10" width="11.77" height="8.80" fill="#e8192c" fill-opacity="0.50"/>
<rect x="170.50" y="327.60" width="11.77" height="8.80" fill="#e8192c" fill-opacity="0.55"/>
<rect x="181.97" y="327.60" width="10.27" height="8.80" fill="#e8192c" fill-opacity="0.40"/>
<rect x="191.93" y="327.60" width="10.27" height="8.80" fill="#e8192c" fill-opacity="0.35"/>
<rect x="201.90" y="327.60" width="10.27" height="8.80" fill="#e8192c" fill-opacity="0.30"/>
<rect x="211.87" y="327.60" width="10.27" height="8.80" fill="#e8192c" fill-opacity="0.45"/>
<rect x="221.83" y="327.60" width="10.27" height="8.80" fill="#e8192c" fill-opacity="0.40"/>
<rect x="231.80" y="327.60" width="10.27" height="8.80" fill="#e8192c" fill-opacity="0.40"/>
<rect x="241.77" y="327.60" width="10.27" height="8.80" fill="#e8192c" fill-opacity="0.60"/>
<rect x="251.73" y="327.60" width="11.77" height="8.80" fill="#e8192c" fill-opacity="0.50"/>
<rect x="170.50" y="336.10" width="11.77" height="8.80" fill="#e8192c" fill-opacity="0.55"/>
<rect x="181.97" y="336.10" width="10.27" height="8.80" fill="#e8192c" fill-opacity="0.40"/>
<rect x="191.93" y="336.10" width="10.27" height="8.80" fill="#e8192c" fill-opacity="0.30"/>
<rect x="201.90" y="336.10" width="10.27" height="8.80" fill="#e8192c" fill-opacity="0.25"/>
<rect x="211.87" y="336.10" width="10.27" height="8.80" fill="#e8192c" fill-opacity="0.30"/>
<rect x="221.83" y="336.10" width="10.27" height="8.80" fill="#e8192c" fill-opacity="0.35"/>
<rect x="231.80" y="336.10" width="10.27" height="8.80" fill="#e8192c" fill-opacity="0.45"/>
<rect x="241.77" y="336.10" width="10.27" height="8.80" fill="#e8192c" fill-opacity="0.65"/>
<rect x="251.73" y="336.10" width="11.77" height="8.80" fill="#e8192c" fill-opacity="0.50"/>
<rect x="170.50" y="344.60" width="11.77" height="8.80" fill="#e8192c" fill-opacity="0.55"/>
<rect x="181.97" y="344.60" width="10.27" height="8.80" fill="#e8192c" fill-opacity="0.45"/>
<rect x="191.93" y="344.60" width="10.27" height="8.80" fill="#e8192c" fill-opacity="0.30"/>
<rect x="201.90" y="344.60" width="10.27" height="8.80" fill="#e8192c" fill-opacity="0.25"/>
<rect x="211.87" y="344.60" width="10.27" height="8.80" fill="#e8192c" fill-opacity="0.30"/>
<rect x="221.83" y="344.60" width="10.27" height="8.80" fill="#e8192c" fill-opacity="0.45"/>
<rect x="231.80" y="344.60" width="10.27" height="8.80" fill="#e8192c" fill-opacity="0.60"/>
<rect x="241.77" y="344.60" width="10.27" height="8.80" fill="#e8192c" fill-opacity="0.70"/>
<rect x="251.73" y="344.60" width="11.77" height="8.80" fill="#e8192c" fill-opacity="0.50"/>
<rect x="170.50" y="353.10" width="11.77" height="8.80" fill="#e8192c" fill-opacity="0.55"/>
<rect x="181.97" y="353.10" width="10.27" height="8.80" fill="#e8192c" fill-opacity="0.45"/>
<rect x="191.93" y="353.10" width="10.27" height="8.80" fill="#e8192c" fill-opacity="0.15"/>
<rect x="201.90" y="353.10" width="10.27" height="8.80" fill="#e8192c" fill-opacity="0.05"/>
<rect x="211.87" y="353.10" width="10.27" height="8.80" fill="#e8192c" fill-opacity="0.50"/>
<rect x="221.83" y="353.10" width="10.27" height="8.80" fill="#e8192c" fill-opacity="0.90"/>
<rect x="231.80" y="353.10" width="10.27" height="8.80" fill="#e8192c" fill-opacity="1.00"/>
<rect x="241.77" y="353.10" width="10.27" height="8.80" fill="#e8192c" fill-opacity="1.00"/>
<rect x="251.73" y="353.10" width="11.77" height="8.80" fill="#e8192c" fill-opacity="0.55"/>
<rect x="170.50" y="361.60" width="11.77" height="8.80" fill="#e8192c" fill-opacity="0.55"/>
<rect x="181.97" y="361.60" width="10.27" height="8.80" fill="#e8192c" fill-opacity="0.50"/>
<rect x="191.93" y="361.60" width="10.27" height="8.80" fill="#e8192c" fill-opacity="0.25"/>
<rect x="201.90" y="361.60" width="10.27" height="8.80" fill="#e8192c" fill-opacity="0.15"/>
<rect x="211.87" y="361.60" width="10.27" height="8.80" fill="#e8192c" fill-opacity="0.55"/>
<rect x="221.83" y="361.60" width="10.27" height="8.80" fill="#e8192c" fill-opacity="0.85"/>
<rect x="231.80" y="361.60" width="10.27" height="8.80" fill="#e8192c" fill-opacity="1.00"/>
<rect x="241.77" y="361.60" width="10.27" height="8.80" fill="#e8192c" fill-opacity="0.90"/>
<rect x="251.73" y="361.60" width="11.77" height="8.80" fill="#e8192c" fill-opacity="0.50"/>
<rect x="170.50" y="370.10" width="11.77" height="10.00" fill="#e8192c" fill-opacity="0.40"/>
<rect x="181.97" y="370.10" width="10.27" height="10.00" fill="#e8192c" fill-opacity="0.45"/>
<rect x="191.93" y="370.10" width="10.27" height="10.00" fill="#e8192c" fill-opacity="0.40"/>
<rect x="201.90" y="370.10" width="10.27" height="10.00" fill="#e8192c" fill-opacity="0.40"/>
<rect x="211.87" y="370.10" width="10.27" height="10.00" fill="#e8192c" fill-opacity="0.50"/>
<rect x="221.83" y="370.10" width="10.27" height="10.00" fill="#e8192c" fill-opacity="0.55"/>
<rect x="231.80" y="370.10" width="10.27" height="10.00" fill="#e8192c" fill-opacity="0.60"/>
<rect x="241.77" y="370.10" width="10.27" height="10.00" fill="#e8192c" fill-opacity="0.55"/>
<rect x="251.73" y="370.10" width="11.77" height="10.00" fill="#e8192c" fill-opacity="0.35"/>
<ellipse cx="172.0" cy="302.2" rx="10" ry="4" fill="#e8192c" opacity="0.5" transform="translate(70,60)"/>
</g></g>
<g stroke="#3a3a3a" stroke-width="0.55" opacity="0.9">
<line x1="172.00" y1="302.2" x2="172.00" y2="378.3"/>
<line x1="181.97" y1="302.2" x2="181.97" y2="378.3"/>
<line x1="191.93" y1="302.2" x2="191.93" y2="378.3"/>
<line x1="201.90" y1="302.2" x2="201.90" y2="378.3"/>
<line x1="211.87" y1="302.2" x2="211.87" y2="378.3"/>
<line x1="221.83" y1="302.2" x2="221.83" y2="378.3"/>
<line x1="231.80" y1="302.2" x2="231.80" y2="378.3"/>
<line x1="241.77" y1="302.2" x2="241.77" y2="378.3"/>
<line x1="251.73" y1="302.2" x2="251.73" y2="378.3"/>
<line x1="261.70" y1="302.2" x2="261.70" y2="378.3"/>
<line x1="172.0" y1="302.20" x2="261.7" y2="302.20"/>
<line x1="172.0" y1="310.60" x2="261.7" y2="310.60"/>
<line x1="172.0" y1="319.10" x2="261.7" y2="319.10"/>
<line x1="172.0" y1="327.60" x2="261.7" y2="327.60"/>
<line x1="172.0" y1="336.10" x2="261.7" y2="336.10"/>
<line x1="172.0" y1="344.60" x2="261.7" y2="344.60"/>
<line x1="172.0" y1="353.10" x2="261.7" y2="353.10"/>
<line x1="172.0" y1="361.60" x2="261.7" y2="361.60"/>
<line x1="172.0" y1="370.10" x2="261.7" y2="370.10"/>
<line x1="172.0" y1="378.30" x2="261.7" y2="378.30"/>
</g>
<g fill="none" stroke="#fff" stroke-width="0.5" opacity="0.55"><ellipse cx="241.3" cy="361.8" rx="14" ry="6"/><ellipse cx="241.3" cy="361.8" rx="9" ry="4"/><ellipse cx="241.3" cy="361.8" rx="4.5" ry="2"/><path d="M176,332 C186,326 198,326 204,334 C210,344 200,352 190,356 C182,360 176,352 176,345 Z"/><ellipse cx="218" cy="345" rx="3" ry="3"/></g>
<rect x="211.87" y="310.60" width="19.93" height="17.00" fill="none" stroke="#fff" stroke-width="0.7" opacity="0.8"/>
<text x="266.00" y="305.10" font-size="8" >100</text>
<text x="266.00" y="313.50" font-size="8" >32</text>
<text x="266.00" y="322.00" font-size="8" >10</text>
<text x="266.00" y="330.50" font-size="8" >3</text>
<text x="266.00" y="339.00" font-size="8" >1</text>
<text x="266.00" y="347.50" font-size="8" >0.3</text>
<text x="266.00" y="356.00" font-size="8" >0.1</text>
<text x="266.00" y="364.50" font-size="8" >0.03</text>
<text x="266.00" y="373.00" font-size="8" >0.01</text>
<text x="266.00" y="381.20" font-size="8" >0</text>
<text x="287.00" y="338.00" font-size="8.4" text-anchor="middle" textLength="47.00" lengthAdjust="spacingAndGlyphs" transform="rotate(90 287.00 338.00)" >Ibrutinib [uM]</text>
<text x="176.10" y="383.70" font-size="7.3" text-anchor="end" textLength="12.42" lengthAdjust="spacingAndGlyphs" transform="rotate(-90 176.10 383.70)" >100</text>
<text x="186.07" y="383.70" font-size="7.3" text-anchor="end" textLength="8.28" lengthAdjust="spacingAndGlyphs" transform="rotate(-90 186.07 383.70)" >24</text>
<text x="196.03" y="383.70" font-size="7.3" text-anchor="end" textLength="4.14" lengthAdjust="spacingAndGlyphs" transform="rotate(-90 196.03 383.70)" >6</text>
<text x="206.00" y="383.70" font-size="7.3" text-anchor="end" textLength="4.14" lengthAdjust="spacingAndGlyphs" transform="rotate(-90 206.00 383.70)" >1</text>
<text x="215.97" y="383.70" font-size="7.3" text-anchor="end" textLength="10.35" lengthAdjust="spacingAndGlyphs" transform="rotate(-90 215.97 383.70)" >0.3</text>
<text x="225.93" y="383.70" font-size="7.3" text-anchor="end" textLength="10.35" lengthAdjust="spacingAndGlyphs" transform="rotate(-90 225.93 383.70)" >0.1</text>
<text x="235.90" y="383.70" font-size="7.3" text-anchor="end" textLength="14.49" lengthAdjust="spacingAndGlyphs" transform="rotate(-90 235.90 383.70)" >0.02</text>
<text x="245.87" y="383.70" font-size="7.3" text-anchor="end" textLength="18.63" lengthAdjust="spacingAndGlyphs" transform="rotate(-90 245.87 383.70)" >0.004</text>
<text x="255.83" y="383.70" font-size="7.3" text-anchor="end" textLength="18.63" lengthAdjust="spacingAndGlyphs" transform="rotate(-90 255.83 383.70)" >0.001</text>
<text x="265.80" y="383.70" font-size="7.3" text-anchor="end" textLength="4.14" lengthAdjust="spacingAndGlyphs" transform="rotate(-90 265.80 383.70)" >0</text>
<text x="216.05" y="412.50" font-size="8.9" text-anchor="middle" textLength="47.20" lengthAdjust="spacingAndGlyphs" >ASNase [IU/ml]</text>
<text x="163.80" y="423.40" font-size="8.9" textLength="104.50" lengthAdjust="spacingAndGlyphs" >Average ZIP synergy score: 7.72</text>
<text x="163.80" y="434.60" font-size="8.9" textLength="89.70" lengthAdjust="spacingAndGlyphs" >max ZIP synergy score: 14.52</text>
<defs><clipPath id="chm3"><rect x="315.0" y="302.2" width="89.00" height="76.10"/></clipPath></defs>
<g clip-path="url(#chm3)"><g filter="url(#blur)">
<rect x="354.56" y="300.70" width="10.19" height="10.20" fill="#3a9e2f" fill-opacity="0.20"/>
<rect x="364.44" y="300.70" width="10.19" height="10.20" fill="#3a9e2f" fill-opacity="0.45"/>
<rect x="374.33" y="300.70" width="10.19" height="10.20" fill="#3a9e2f" fill-opacity="0.45"/>
<rect x="384.22" y="300.70" width="10.19" height="10.20" fill="#3a9e2f" fill-opacity="0.45"/>
<rect x="394.11" y="300.70" width="11.69" height="10.20" fill="#3a9e2f" fill-opacity="0.35"/>
<rect x="313.50" y="310.60" width="11.69" height="8.80" fill="#e8192c" fill-opacity="0.08"/>
<rect x="324.89" y="310.60" width="10.19" height="8.80" fill="#e8192c" fill-opacity="0.15"/>
<rect x="334.78" y="310.60" width="10.19" height="8.80" fill="#e8192c" fill-opacity="0.20"/>
<rect x="344.67" y="310.60" width="10.19" height="8.80" fill="#e8192c" fill-opacity="0.05"/>
<rect x="354.56" y="310.60" width="10.19" height="8.80" fill="#3a9e2f" fill-opacity="0.12"/>
<rect x="364.44" y="310.60" width="10.19" height="8.80" fill="#3a9e2f" fill-opacity="0.38"/>
<rect x="374.33" y="310.60" width="10.19" height="8.80" fill="#3a9e2f" fill-opacity="0.38"/>
<rect x="384.22" y="310.60" width="10.19" height="8.80" fill="#3a9e2f" fill-opacity="0.38"/>
<rect x="394.11" y="310.60" width="11.69" height="8.80" fill="#3a9e2f" fill-opacity="0.30"/>
<rect x="313.50" y="319.10" width="11.69" height="8.80" fill="#e8192c" fill-opacity="0.35"/>
<rect x="324.89" y="319.10" width="10.19" height="8.80" fill="#e8192c" fill-opacity="0.40"/>
<rect x="334.78" y="319.10" width="10.19" height="8.80" fill="#e8192c" fill-opacity="0.25"/>
<rect x="313.50" y="327.60" width="11.69" height="8.80" fill="#e8192c" fill-opacity="0.35"/>
<rect x="324.89" y="327.60" width="10.19" height="8.80" fill="#e8192c" fill-opacity="0.40"/>
<rect x="334.78" y="327.60" width="10.19" height="8.80" fill="#e8192c" fill-opacity="0.12"/>
<rect x="313.50" y="336.10" width="11.69" height="8.80" fill="#3a9e2f" fill-opacity="0.60"/>
<rect x="324.89" y="336.10" width="10.19" height="8.80" fill="#e8192c" fill-opacity="0.05"/>
<rect x="354.56" y="336.10" width="10.19" height="8.80" fill="#e8192c" fill-opacity="0.12"/>
<rect x="364.44" y="336.10" width="10.19" height="8.80" fill="#e8192c" fill-opacity="0.20"/>
<rect x="374.33" y="336.10" width="10.19" height="8.80" fill="#e8192c" fill-opacity="0.20"/>
<rect x="384.22" y="336.10" width="10.19" height="8.80" fill="#e8192c" fill-opacity="0.20"/>
<rect x="394.11" y="336.10" width="11.69" height="8.80" fill="#e8192c" fill-opacity="0.12"/>
<rect x="313.50" y="344.60" width="11.69" height="8.80" fill="#3a9e2f" fill-opacity="0.35"/>
<rect x="354.56" y="344.60" width="10.19" height="8.80" fill="#e8192c" fill-opacity="0.20"/>
<rect x="364.44" y="344.60" width="10.19" height="8.80" fill="#e8192c" fill-opacity="0.25"/>
<rect x="374.33" y="344.60" width="10.19" height="8.80" fill="#e8192c" fill-opacity="0.25"/>
<rect x="384.22" y="344.60" width="10.19" height="8.80" fill="#e8192c" fill-opacity="0.25"/>
<rect x="394.11" y="344.60" width="11.69" height="8.80" fill="#e8192c" fill-opacity="0.15"/>
<rect x="313.50" y="353.10" width="11.69" height="8.80" fill="#e8192c" fill-opacity="0.05"/>
<rect x="354.56" y="353.10" width="10.19" height="8.80" fill="#e8192c" fill-opacity="0.12"/>
<rect x="364.44" y="353.10" width="10.19" height="8.80" fill="#e8192c" fill-opacity="0.20"/>
<rect x="374.33" y="353.10" width="10.19" height="8.80" fill="#e8192c" fill-opacity="0.20"/>
<rect x="384.22" y="353.10" width="10.19" height="8.80" fill="#e8192c" fill-opacity="0.20"/>
<rect x="394.11" y="353.10" width="11.69" height="8.80" fill="#e8192c" fill-opacity="0.12"/>
<rect x="334.78" y="361.60" width="10.19" height="8.80" fill="#3a9e2f" fill-opacity="0.12"/>
<rect x="364.44" y="361.60" width="10.19" height="8.80" fill="#e8192c" fill-opacity="0.06"/>
<rect x="374.33" y="361.60" width="10.19" height="8.80" fill="#e8192c" fill-opacity="0.06"/>
<rect x="384.22" y="361.60" width="10.19" height="8.80" fill="#e8192c" fill-opacity="0.06"/>
<rect x="324.89" y="370.10" width="10.19" height="10.00" fill="#3a9e2f" fill-opacity="0.12"/>
<rect x="334.78" y="370.10" width="10.19" height="10.00" fill="#3a9e2f" fill-opacity="0.06"/>
<ellipse cx="315.0" cy="302.2" rx="4" ry="6" fill="#3a9e2f" opacity="0.9" transform="translate(3,42)"/>
</g></g>
<g stroke="#3a3a3a" stroke-width="0.55" opacity="0.9">
<line x1="315.00" y1="302.2" x2="315.00" y2="378.3"/>
<line x1="324.89" y1="302.2" x2="324.89" y2="378.3"/>
<line x1="334.78" y1="302.2" x2="334.78" y2="378.3"/>
<line x1="344.67" y1="302.2" x2="344.67" y2="378.3"/>
<line x1="354.56" y1="302.2" x2="354.56" y2="378.3"/>
<line x1="364.44" y1="302.2" x2="364.44" y2="378.3"/>
<line x1="374.33" y1="302.2" x2="374.33" y2="378.3"/>
<line x1="384.22" y1="302.2" x2="384.22" y2="378.3"/>
<line x1="394.11" y1="302.2" x2="394.11" y2="378.3"/>
<line x1="404.00" y1="302.2" x2="404.00" y2="378.3"/>
<line x1="315.0" y1="302.20" x2="404.0" y2="302.20"/>
<line x1="315.0" y1="310.60" x2="404.0" y2="310.60"/>
<line x1="315.0" y1="319.10" x2="404.0" y2="319.10"/>
<line x1="315.0" y1="327.60" x2="404.0" y2="327.60"/>
<line x1="315.0" y1="336.10" x2="404.0" y2="336.10"/>
<line x1="315.0" y1="344.60" x2="404.0" y2="344.60"/>
<line x1="315.0" y1="353.10" x2="404.0" y2="353.10"/>
<line x1="315.0" y1="361.60" x2="404.0" y2="361.60"/>
<line x1="315.0" y1="370.10" x2="404.0" y2="370.10"/>
<line x1="315.0" y1="378.30" x2="404.0" y2="378.30"/>
</g>
<path d="M315.00,310.60 V319.10 M334.78,310.60 V319.10 H404.00 M334.78,378.30 V336.10 H404.00" fill="none" stroke="#444" stroke-width="0.6"/>
<text x="408.30" y="305.10" font-size="8" >100</text>
<text x="408.30" y="313.50" font-size="8" >32</text>
<text x="408.30" y="322.00" font-size="8" >10</text>
<text x="408.30" y="330.50" font-size="8" >3</text>
<text x="408.30" y="339.00" font-size="8" >1</text>
<text x="408.30" y="347.50" font-size="8" >0.3</text>
<text x="408.30" y="356.00" font-size="8" >0.1</text>
<text x="408.30" y="364.50" font-size="8" >0.03</text>
<text x="408.30" y="373.00" font-size="8" >0.01</text>
<text x="408.30" y="381.20" font-size="8" >0</text>
<text x="429.30" y="338.00" font-size="8.4" text-anchor="middle" textLength="47.00" lengthAdjust="spacingAndGlyphs" transform="rotate(90 429.30 338.00)" >Ibrutinib [uM]</text>
<text x="319.10" y="383.70" font-size="7.3" text-anchor="end" textLength="12.42" lengthAdjust="spacingAndGlyphs" transform="rotate(-90 319.10 383.70)" >100</text>
<text x="328.99" y="383.70" font-size="7.3" text-anchor="end" textLength="8.28" lengthAdjust="spacingAndGlyphs" transform="rotate(-90 328.99 383.70)" >24</text>
<text x="338.88" y="383.70" font-size="7.3" text-anchor="end" textLength="4.14" lengthAdjust="spacingAndGlyphs" transform="rotate(-90 338.88 383.70)" >6</text>
<text x="348.77" y="383.70" font-size="7.3" text-anchor="end" textLength="4.14" lengthAdjust="spacingAndGlyphs" transform="rotate(-90 348.77 383.70)" >1</text>
<text x="358.66" y="383.70" font-size="7.3" text-anchor="end" textLength="10.35" lengthAdjust="spacingAndGlyphs" transform="rotate(-90 358.66 383.70)" >0.3</text>
<text x="368.54" y="383.70" font-size="7.3" text-anchor="end" textLength="10.35" lengthAdjust="spacingAndGlyphs" transform="rotate(-90 368.54 383.70)" >0.1</text>
<text x="378.43" y="383.70" font-size="7.3" text-anchor="end" textLength="14.49" lengthAdjust="spacingAndGlyphs" transform="rotate(-90 378.43 383.70)" >0.02</text>
<text x="388.32" y="383.70" font-size="7.3" text-anchor="end" textLength="18.63" lengthAdjust="spacingAndGlyphs" transform="rotate(-90 388.32 383.70)" >0.004</text>
<text x="398.21" y="383.70" font-size="7.3" text-anchor="end" textLength="18.63" lengthAdjust="spacingAndGlyphs" transform="rotate(-90 398.21 383.70)" >0.001</text>
<text x="408.10" y="383.70" font-size="7.3" text-anchor="end" textLength="4.14" lengthAdjust="spacingAndGlyphs" transform="rotate(-90 408.10 383.70)" >0</text>
<text x="358.70" y="412.50" font-size="8.9" text-anchor="middle" textLength="47.20" lengthAdjust="spacingAndGlyphs" >ASNase [IU/ml]</text>
<text x="306.80" y="423.40" font-size="8.9" textLength="107.10" lengthAdjust="spacingAndGlyphs" >Average ZIP synergy score: -0.15</text>
<text x="306.80" y="434.60" font-size="8.9" textLength="87.50" lengthAdjust="spacingAndGlyphs" >max ZIP synergy score: 3.77</text>
<defs><linearGradient id="cbar" x1="0" y1="0" x2="0" y2="1"><stop offset="0" stop-color="#e8151f"/><stop offset="0.15" stop-color="#ea3540"/><stop offset="0.45" stop-color="#fcf0f1"/><stop offset="0.52" stop-color="#ffffff"/><stop offset="0.62" stop-color="#e6f2e0"/><stop offset="1" stop-color="#46a83b"/></linearGradient></defs>
<rect x="467" y="322.4" width="5.8" height="47.6" fill="url(#cbar)"/>
<text x="468.00" y="317.60" font-size="8.4" text-anchor="middle" textLength="36.20" lengthAdjust="spacingAndGlyphs" >Synergism</text>
<text x="468.30" y="378.60" font-size="8.4" text-anchor="middle" textLength="42.10" lengthAdjust="spacingAndGlyphs" >Antagonism</text>
<text x="474.80" y="328.70" font-size="8.2" textLength="8.50" lengthAdjust="spacingAndGlyphs" >40</text>
<text x="474.80" y="338.80" font-size="8.2" textLength="8.50" lengthAdjust="spacingAndGlyphs" >20</text>
<text x="474.80" y="348.90" font-size="8.2" textLength="4.30" lengthAdjust="spacingAndGlyphs" >0</text>
<text x="474.80" y="359.00" font-size="8.2" textLength="12.40" lengthAdjust="spacingAndGlyphs" >−20</text>
<text x="474.80" y="369.10" font-size="8.2" textLength="12.40" lengthAdjust="spacingAndGlyphs" >−40</text>
<text x="463.50" y="346.00" font-size="9.0" text-anchor="middle" textLength="40.40" lengthAdjust="spacingAndGlyphs" transform="rotate(-90 463.50 346.00)" >Delta-score</text>
<text x="7.70" y="449.00" font-size="11.6" textLength="7.60" lengthAdjust="spacingAndGlyphs" font-weight="bold" >D</text>
<line x1="45.40" y1="455.50" x2="45.40" y2="532.00" stroke="#231f20" stroke-width="1.0" />
<line x1="44.90" y1="531.50" x2="158.50" y2="531.50" stroke="#231f20" stroke-width="1.2" />
<line x1="42.40" y1="531.50" x2="45.40" y2="531.50" stroke="#231f20" stroke-width="0.9" />
<text x="39.80" y="534.50" font-size="8.7" text-anchor="end" textLength="4.20" lengthAdjust="spacingAndGlyphs" >0</text>
<line x1="42.40" y1="516.59" x2="45.40" y2="516.59" stroke="#231f20" stroke-width="0.9" />
<text x="39.80" y="519.59" font-size="8.7" text-anchor="end" textLength="8.40" lengthAdjust="spacingAndGlyphs" >20</text>
<line x1="42.40" y1="501.68" x2="45.40" y2="501.68" stroke="#231f20" stroke-width="0.9" />
<text x="39.80" y="504.68" font-size="8.7" text-anchor="end" textLength="8.40" lengthAdjust="spacingAndGlyphs" >40</text>
<line x1="42.40" y1="486.77" x2="45.40" y2="486.77" stroke="#231f20" stroke-width="0.9" />
<text x="39.80" y="489.77" font-size="8.7" text-anchor="end" textLength="8.40" lengthAdjust="spacingAndGlyphs" >60</text>
<line x1="42.40" y1="471.86" x2="45.40" y2="471.86" stroke="#231f20" stroke-width="0.9" />
<text x="39.80" y="474.86" font-size="8.7" text-anchor="end" textLength="8.40" lengthAdjust="spacingAndGlyphs" >80</text>
<line x1="42.40" y1="456.95" x2="45.40" y2="456.95" stroke="#231f20" stroke-width="0.9" />
<text x="39.80" y="459.95" font-size="8.7" text-anchor="end" textLength="12.60" lengthAdjust="spacingAndGlyphs" >100</text>
<line x1="72.90" y1="531.50" x2="72.90" y2="534.20" stroke="#231f20" stroke-width="0.6" />
<line x1="77.08" y1="531.50" x2="77.08" y2="533.60" stroke="#231f20" stroke-width="0.6" />
<line x1="79.53" y1="531.50" x2="79.53" y2="533.60" stroke="#231f20" stroke-width="0.6" />
<line x1="81.27" y1="531.50" x2="81.27" y2="533.60" stroke="#231f20" stroke-width="0.6" />
<line x1="82.62" y1="531.50" x2="82.62" y2="533.60" stroke="#231f20" stroke-width="0.6" />
<line x1="83.72" y1="531.50" x2="83.72" y2="533.60" stroke="#231f20" stroke-width="0.6" />
<line x1="84.65" y1="531.50" x2="84.65" y2="533.60" stroke="#231f20" stroke-width="0.6" />
<line x1="85.45" y1="531.50" x2="85.45" y2="533.60" stroke="#231f20" stroke-width="0.6" />
<line x1="86.16" y1="531.50" x2="86.16" y2="533.60" stroke="#231f20" stroke-width="0.6" />
<line x1="86.80" y1="531.50" x2="86.80" y2="534.20" stroke="#231f20" stroke-width="0.6" />
<line x1="91.04" y1="531.50" x2="91.04" y2="533.60" stroke="#231f20" stroke-width="0.6" />
<line x1="93.53" y1="531.50" x2="93.53" y2="533.60" stroke="#231f20" stroke-width="0.6" />
<line x1="95.29" y1="531.50" x2="95.29" y2="533.60" stroke="#231f20" stroke-width="0.6" />
<line x1="96.66" y1="531.50" x2="96.66" y2="533.60" stroke="#231f20" stroke-width="0.6" />
<line x1="97.77" y1="531.50" x2="97.77" y2="533.60" stroke="#231f20" stroke-width="0.6" />
<line x1="98.72" y1="531.50" x2="98.72" y2="533.60" stroke="#231f20" stroke-width="0.6" />
<line x1="99.53" y1="531.50" x2="99.53" y2="533.60" stroke="#231f20" stroke-width="0.6" />
<line x1="100.25" y1="531.50" x2="100.25" y2="533.60" stroke="#231f20" stroke-width="0.6" />
<line x1="100.90" y1="531.50" x2="100.90" y2="534.20" stroke="#231f20" stroke-width="0.6" />
<line x1="105.17" y1="531.50" x2="105.17" y2="533.60" stroke="#231f20" stroke-width="0.6" />
<line x1="107.68" y1="531.50" x2="107.68" y2="533.60" stroke="#231f20" stroke-width="0.6" />
<line x1="109.45" y1="531.50" x2="109.45" y2="533.60" stroke="#231f20" stroke-width="0.6" />
<line x1="110.83" y1="531.50" x2="110.83" y2="533.60" stroke="#231f20" stroke-width="0.6" />
<line x1="111.95" y1="531.50" x2="111.95" y2="533.60" stroke="#231f20" stroke-width="0.6" />
<line x1="112.90" y1="531.50" x2="112.90" y2="533.60" stroke="#231f20" stroke-width="0.6" />
<line x1="113.72" y1="531.50" x2="113.72" y2="533.60" stroke="#231f20" stroke-width="0.6" />
<line x1="114.45" y1="531.50" x2="114.45" y2="533.60" stroke="#231f20" stroke-width="0.6" />
<line x1="115.10" y1="531.50" x2="115.10" y2="534.20" stroke="#231f20" stroke-width="0.6" />
<line x1="119.34" y1="531.50" x2="119.34" y2="533.60" stroke="#231f20" stroke-width="0.6" />
<line x1="121.83" y1="531.50" x2="121.83" y2="533.60" stroke="#231f20" stroke-width="0.6" />
<line x1="123.59" y1="531.50" x2="123.59" y2="533.60" stroke="#231f20" stroke-width="0.6" />
<line x1="124.96" y1="531.50" x2="124.96" y2="533.60" stroke="#231f20" stroke-width="0.6" />
<line x1="126.07" y1="531.50" x2="126.07" y2="533.60" stroke="#231f20" stroke-width="0.6" />
<line x1="127.02" y1="531.50" x2="127.02" y2="533.60" stroke="#231f20" stroke-width="0.6" />
<line x1="127.83" y1="531.50" x2="127.83" y2="533.60" stroke="#231f20" stroke-width="0.6" />
<line x1="128.55" y1="531.50" x2="128.55" y2="533.60" stroke="#231f20" stroke-width="0.6" />
<line x1="129.20" y1="531.50" x2="129.20" y2="534.20" stroke="#231f20" stroke-width="0.6" />
<line x1="133.56" y1="531.50" x2="133.56" y2="533.60" stroke="#231f20" stroke-width="0.6" />
<line x1="136.12" y1="531.50" x2="136.12" y2="533.60" stroke="#231f20" stroke-width="0.6" />
<line x1="137.93" y1="531.50" x2="137.93" y2="533.60" stroke="#231f20" stroke-width="0.6" />
<line x1="139.34" y1="531.50" x2="139.34" y2="533.60" stroke="#231f20" stroke-width="0.6" />
<line x1="140.48" y1="531.50" x2="140.48" y2="533.60" stroke="#231f20" stroke-width="0.6" />
<line x1="141.45" y1="531.50" x2="141.45" y2="533.60" stroke="#231f20" stroke-width="0.6" />
<line x1="142.29" y1="531.50" x2="142.29" y2="533.60" stroke="#231f20" stroke-width="0.6" />
<line x1="143.04" y1="531.50" x2="143.04" y2="533.60" stroke="#231f20" stroke-width="0.6" />
<line x1="143.70" y1="531.50" x2="143.70" y2="534.20" stroke="#231f20" stroke-width="0.6" />
<line x1="148.00" y1="531.50" x2="148.00" y2="533.60" stroke="#231f20" stroke-width="0.6" />
<line x1="150.52" y1="531.50" x2="150.52" y2="533.60" stroke="#231f20" stroke-width="0.6" />
<line x1="152.31" y1="531.50" x2="152.31" y2="533.60" stroke="#231f20" stroke-width="0.6" />
<line x1="153.70" y1="531.50" x2="153.70" y2="533.60" stroke="#231f20" stroke-width="0.6" />
<line x1="154.83" y1="531.50" x2="154.83" y2="533.60" stroke="#231f20" stroke-width="0.6" />
<line x1="155.78" y1="531.50" x2="155.78" y2="533.60" stroke="#231f20" stroke-width="0.6" />
<line x1="156.61" y1="531.50" x2="156.61" y2="533.60" stroke="#231f20" stroke-width="0.6" />
<line x1="157.35" y1="531.50" x2="157.35" y2="533.60" stroke="#231f20" stroke-width="0.6" />
<line x1="46.50" y1="531.50" x2="46.50" y2="533.60" stroke="#231f20" stroke-width="0.6" />
<line x1="49.20" y1="531.50" x2="49.20" y2="533.60" stroke="#231f20" stroke-width="0.6" />
<line x1="51.90" y1="531.50" x2="51.90" y2="533.60" stroke="#231f20" stroke-width="0.6" />
<line x1="54.60" y1="531.50" x2="54.60" y2="533.60" stroke="#231f20" stroke-width="0.6" />
<line x1="57.30" y1="531.50" x2="57.30" y2="533.60" stroke="#231f20" stroke-width="0.6" />
<line x1="59.10" y1="531.50" x2="59.10" y2="534.20" stroke="#231f20" stroke-width="0.6" />
<text x="59.30" y="543.00" font-size="8.6" text-anchor="middle" >0</text>
<text x="67.90" y="543.0" font-size="8.6">10<tspan font-size="6.2" dy="-3.4">-4</tspan></text>
<text x="81.80" y="543.0" font-size="8.6">10<tspan font-size="6.2" dy="-3.4">-3</tspan></text>
<text x="95.90" y="543.0" font-size="8.6">10<tspan font-size="6.2" dy="-3.4">-2</tspan></text>
<text x="110.10" y="543.0" font-size="8.6">10<tspan font-size="6.2" dy="-3.4">-1</tspan></text>
<text x="124.20" y="543.0" font-size="8.6">10<tspan font-size="6.2" dy="-3.4">0</tspan></text>
<text x="138.70" y="543.0" font-size="8.6">10<tspan font-size="6.2" dy="-3.4">1</tspan></text>
<text x="153.00" y="543.0" font-size="8.6">10<tspan font-size="6.2" dy="-3.4">2</tspan></text>
<text x="101.60" y="454.00" font-size="8.4" text-anchor="middle" textLength="42.40" lengthAdjust="spacingAndGlyphs" >SK-22661-D</text>
<text x="18.60" y="493.80" font-size="9.3" text-anchor="middle" textLength="40.00" lengthAdjust="spacingAndGlyphs" transform="rotate(-90 18.60 493.80)" >Viability [%]</text>
<polyline points="59.1,460.68 72.9,465.90 86.8,462.47 100.9,464.11 115.1,466.79 129.2,466.49 143.7,481.25" fill="none" stroke="#111" stroke-width="1"/>
<polyline points="59.1,466.05 72.9,491.47 86.8,498.70 129.2,501.83 143.7,504.96" fill="none" stroke="#5b2a8e" stroke-width="1"/>
<circle cx="59.1" cy="460.68" r="1.7" fill="#111"/>
<circle cx="72.9" cy="465.90" r="1.7" fill="#111"/>
<circle cx="86.8" cy="462.47" r="1.7" fill="#111"/>
<circle cx="100.9" cy="464.11" r="1.7" fill="#111"/>
<circle cx="115.1" cy="466.79" r="1.7" fill="#111"/>
<circle cx="129.2" cy="466.49" r="1.7" fill="#111"/>
<circle cx="143.7" cy="481.25" r="1.7" fill="#111"/>
<path d="M57.20,467.35 L61.00,467.35 L59.10,464.35 Z" fill="#5b2a8e"/>
<path d="M71.00,492.77 L74.80,492.77 L72.90,489.77 Z" fill="#5b2a8e"/>
<path d="M84.90,500.00 L88.70,500.00 L86.80,497.00 Z" fill="#5b2a8e"/>
<path d="M127.30,503.13 L131.10,503.13 L129.20,500.13 Z" fill="#5b2a8e"/>
<path d="M141.80,506.26 L145.60,506.26 L143.70,503.26 Z" fill="#5b2a8e"/>
<line x1="144.30" y1="458.00" x2="152.20" y2="458.00" stroke="#111" stroke-width="0.9" />
<circle cx="148.2" cy="458.0" r="1.7" fill="#111"/>
<text x="154.30" y="460.80" font-size="8" textLength="46.90" lengthAdjust="spacingAndGlyphs" >0 uM ibrutinib</text>
<line x1="144.30" y1="469.50" x2="152.20" y2="469.50" stroke="#5b2a8e" stroke-width="0.9" />
<path d="M146.3,470.8 L150.1,470.8 L148.2,467.8 Z" fill="#5b2a8e"/>
<text x="154.30" y="472.30" font-size="8" textLength="51.00" lengthAdjust="spacingAndGlyphs" >10 uM ibrutinib</text>
<text x="232.80" y="449.30" font-size="11.6" textLength="6.00" lengthAdjust="spacingAndGlyphs" font-weight="bold" >E</text>
<text x="239.30" y="465.80" font-size="8" textLength="30.70" lengthAdjust="spacingAndGlyphs" >ALL-PDX</text>
<g fill="#7b35a5">
<circle cx="249.5" cy="469.5" r="1.9"/>
<circle cx="252" cy="468.8" r="1.9"/>
<circle cx="254.2" cy="470.2" r="1.9"/>
<circle cx="250.2" cy="472.2" r="1.9"/>
<circle cx="253" cy="472.6" r="1.9"/>
<circle cx="251.5" cy="470.8" r="1.9"/>
</g>
<g transform="translate(257.0,487.0) rotate(47.7) scale(1.1)"><line x1="0" y1="0" x2="-2.6" y2="0" stroke="#555" stroke-width="0.5"/><rect x="-10.2" y="-1.25" width="7.6" height="2.5" fill="#fff" stroke="#111" stroke-width="0.85"/><path d="M-8.6,-1.2 V0 M-7.1,-1.2 V0 M-5.6,-1.2 V0" stroke="#111" stroke-width="0.5"/><line x1="-10.2" y1="0" x2="-12.6" y2="0" stroke="#111" stroke-width="0.9"/><line x1="-12.6" y1="-1.8" x2="-12.6" y2="1.8" stroke="#111" stroke-width="1.0"/><line x1="-10.3" y1="-2.1" x2="-10.3" y2="2.1" stroke="#111" stroke-width="0.8"/></g>
<line x1="238.80" y1="495.80" x2="281.00" y2="495.80" stroke="#555" stroke-width="1.0" />
<g transform="translate(254.3,479.75) scale(1.0)"><path d="M2.0,15.5 L-1.00,16.0" stroke="#1f1a1a" stroke-width="1.10" fill="none"/><path d="M1.13,15.79 C0.83,15.35 0.55,14.60 0.36,13.85 C0.17,13.10 0.00,12.05 0.00,11.28 C0.00,10.51 0.13,9.87 0.36,9.23 C0.59,8.59 0.95,7.94 1.38,7.44 C1.81,6.95 2.32,6.56 2.92,6.26 C3.52,5.96 4.24,5.80 4.97,5.64 C5.70,5.48 6.55,5.43 7.28,5.28 C8.01,5.13 8.77,5.00 9.33,4.72 C9.89,4.44 10.48,3.99 10.67,3.59 C10.86,3.19 10.51,2.69 10.46,2.31 C10.41,1.93 10.26,1.60 10.36,1.33 C10.46,1.06 10.81,0.80 11.08,0.72 C11.35,0.64 11.74,0.67 12.00,0.82 C12.26,0.97 12.38,1.60 12.62,1.64 C12.86,1.67 13.13,1.22 13.44,1.03 C13.75,0.84 14.03,0.62 14.46,0.51 C14.89,0.40 15.40,0.41 16.00,0.36 C16.60,0.31 17.41,0.27 18.05,0.21 C18.69,0.15 19.42,-0.05 19.85,0.00 C20.28,0.05 20.56,0.29 20.62,0.51 C20.68,0.73 20.43,1.06 20.21,1.33 C20.00,1.60 19.69,1.89 19.33,2.15 C18.97,2.42 18.40,2.65 18.05,2.92 C17.70,3.19 17.43,3.42 17.23,3.79 C17.03,4.16 16.96,4.56 16.87,5.13 C16.79,5.70 16.73,6.41 16.72,7.18 C16.71,7.95 16.77,8.88 16.82,9.74 C16.87,10.60 16.95,11.46 17.03,12.31 C17.11,13.17 17.15,14.08 17.28,14.87 C17.41,15.66 17.49,16.55 17.79,17.03 C18.09,17.51 18.93,17.50 19.08,17.74 C19.23,17.98 18.97,18.36 18.67,18.46 C18.37,18.56 17.68,18.53 17.28,18.36 C16.88,18.19 16.56,17.77 16.26,17.44 C15.96,17.12 15.77,16.73 15.49,16.41 C15.21,16.09 14.89,15.76 14.56,15.49 C14.23,15.22 13.90,14.87 13.54,14.77 C13.18,14.67 12.77,14.73 12.41,14.87 C12.05,15.01 11.71,15.29 11.38,15.59 C11.06,15.89 10.55,16.40 10.46,16.67 C10.38,16.94 10.97,17.03 10.87,17.23 C10.77,17.43 10.36,17.69 9.85,17.85 C9.34,18.01 8.47,18.19 7.79,18.21 C7.11,18.23 6.42,18.11 5.74,17.95 C5.06,17.79 4.29,17.47 3.69,17.23 C3.09,16.99 2.58,16.75 2.15,16.51 C1.72,16.27 1.43,16.23 1.13,15.79 Z" fill="#1f1a1a"/></g>
<text x="274.60" y="491.80" font-size="8" textLength="10.40" lengthAdjust="spacingAndGlyphs" >2w</text>
<line x1="274.80" y1="495.80" x2="281.50" y2="495.80" stroke="#231f20" stroke-width="0.9" />
<path d="M285.00,495.80 L280.50,497.80 L280.50,493.80 Z" fill="#231f20"/>
<line x1="286.00" y1="495.80" x2="304.00" y2="495.80" stroke="#555" stroke-width="1.0" />
<g transform="translate(297.5,493.5) rotate(48) scale(1.05)"><line x1="0" y1="0" x2="-2.6" y2="0" stroke="#555" stroke-width="0.5"/><rect x="-10.2" y="-1.25" width="7.6" height="2.5" fill="#3a3a3a" stroke="#111" stroke-width="0.85"/><rect x="-5.0" y="-0.8" width="2.3" height="1.6" fill="#e02020"/><path d="M-8.6,-1.2 V0 M-7.1,-1.2 V0 M-5.6,-1.2 V0" stroke="#111" stroke-width="0.5"/><line x1="-10.2" y1="0" x2="-12.6" y2="0" stroke="#111" stroke-width="0.9"/><line x1="-12.6" y1="-1.8" x2="-12.6" y2="1.8" stroke="#111" stroke-width="1.0"/><line x1="-10.3" y1="-2.1" x2="-10.3" y2="2.1" stroke="#111" stroke-width="0.8"/></g>
<g transform="translate(301.5,479.75) scale(1.0)"><path d="M2.0,15.5 L-1.00,16.0" stroke="#1f1a1a" stroke-width="1.10" fill="none"/><path d="M1.13,15.79 C0.83,15.35 0.55,14.60 0.36,13.85 C0.17,13.10 0.00,12.05 0.00,11.28 C0.00,10.51 0.13,9.87 0.36,9.23 C0.59,8.59 0.95,7.94 1.38,7.44 C1.81,6.95 2.32,6.56 2.92,6.26 C3.52,5.96 4.24,5.80 4.97,5.64 C5.70,5.48 6.55,5.43 7.28,5.28 C8.01,5.13 8.77,5.00 9.33,4.72 C9.89,4.44 10.48,3.99 10.67,3.59 C10.86,3.19 10.51,2.69 10.46,2.31 C10.41,1.93 10.26,1.60 10.36,1.33 C10.46,1.06 10.81,0.80 11.08,0.72 C11.35,0.64 11.74,0.67 12.00,0.82 C12.26,0.97 12.38,1.60 12.62,1.64 C12.86,1.67 13.13,1.22 13.44,1.03 C13.75,0.84 14.03,0.62 14.46,0.51 C14.89,0.40 15.40,0.41 16.00,0.36 C16.60,0.31 17.41,0.27 18.05,0.21 C18.69,0.15 19.42,-0.05 19.85,0.00 C20.28,0.05 20.56,0.29 20.62,0.51 C20.68,0.73 20.43,1.06 20.21,1.33 C20.00,1.60 19.69,1.89 19.33,2.15 C18.97,2.42 18.40,2.65 18.05,2.92 C17.70,3.19 17.43,3.42 17.23,3.79 C17.03,4.16 16.96,4.56 16.87,5.13 C16.79,5.70 16.73,6.41 16.72,7.18 C16.71,7.95 16.77,8.88 16.82,9.74 C16.87,10.60 16.95,11.46 17.03,12.31 C17.11,13.17 17.15,14.08 17.28,14.87 C17.41,15.66 17.49,16.55 17.79,17.03 C18.09,17.51 18.93,17.50 19.08,17.74 C19.23,17.98 18.97,18.36 18.67,18.46 C18.37,18.56 17.68,18.53 17.28,18.36 C16.88,18.19 16.56,17.77 16.26,17.44 C15.96,17.12 15.77,16.73 15.49,16.41 C15.21,16.09 14.89,15.76 14.56,15.49 C14.23,15.22 13.90,14.87 13.54,14.77 C13.18,14.67 12.77,14.73 12.41,14.87 C12.05,15.01 11.71,15.29 11.38,15.59 C11.06,15.89 10.55,16.40 10.46,16.67 C10.38,16.94 10.97,17.03 10.87,17.23 C10.77,17.43 10.36,17.69 9.85,17.85 C9.34,18.01 8.47,18.19 7.79,18.21 C7.11,18.23 6.42,18.11 5.74,17.95 C5.06,17.79 4.29,17.47 3.69,17.23 C3.09,16.99 2.58,16.75 2.15,16.51 C1.72,16.27 1.43,16.23 1.13,15.79 Z" fill="#1f1a1a"/></g>
<text x="283.80" y="466.60" font-size="8" textLength="21.50" lengthAdjust="spacingAndGlyphs" >Blood</text>
<text x="283.80" y="476.60" font-size="8" textLength="34.50" lengthAdjust="spacingAndGlyphs" >collection</text>
<line x1="323.00" y1="478.50" x2="339.69" y2="466.08" stroke="#231f20" stroke-width="0.9" />
<path d="M344.50,462.50 L340.08,468.28 L337.69,465.07 Z" fill="#231f20"/>
<line x1="323.00" y1="489.20" x2="337.00" y2="489.20" stroke="#231f20" stroke-width="1.1" />
<path d="M343.00,489.20 L336.00,491.20 L336.00,487.20 Z" fill="#231f20"/>
<line x1="323.00" y1="492.50" x2="339.21" y2="508.31" stroke="#231f20" stroke-width="0.9" />
<path d="M343.50,512.50 L337.09,509.04 L339.89,506.18 Z" fill="#231f20"/>
<line x1="321.00" y1="500.50" x2="333.92" y2="535.37" stroke="#231f20" stroke-width="0.9" />
<path d="M336.00,541.00 L331.69,535.13 L335.44,533.74 Z" fill="#231f20"/>
<g transform="translate(347.6,447.3) scale(1.0)"><path d="M2.0,15.5 L-15.50,16.0" stroke="#161212" stroke-width="1.10" fill="none"/><path d="M1.13,15.79 C0.83,15.35 0.55,14.60 0.36,13.85 C0.17,13.10 0.00,12.05 0.00,11.28 C0.00,10.51 0.13,9.87 0.36,9.23 C0.59,8.59 0.95,7.94 1.38,7.44 C1.81,6.95 2.32,6.56 2.92,6.26 C3.52,5.96 4.24,5.80 4.97,5.64 C5.70,5.48 6.55,5.43 7.28,5.28 C8.01,5.13 8.77,5.00 9.33,4.72 C9.89,4.44 10.48,3.99 10.67,3.59 C10.86,3.19 10.51,2.69 10.46,2.31 C10.41,1.93 10.26,1.60 10.36,1.33 C10.46,1.06 10.81,0.80 11.08,0.72 C11.35,0.64 11.74,0.67 12.00,0.82 C12.26,0.97 12.38,1.60 12.62,1.64 C12.86,1.67 13.13,1.22 13.44,1.03 C13.75,0.84 14.03,0.62 14.46,0.51 C14.89,0.40 15.40,0.41 16.00,0.36 C16.60,0.31 17.41,0.27 18.05,0.21 C18.69,0.15 19.42,-0.05 19.85,0.00 C20.28,0.05 20.56,0.29 20.62,0.51 C20.68,0.73 20.43,1.06 20.21,1.33 C20.00,1.60 19.69,1.89 19.33,2.15 C18.97,2.42 18.40,2.65 18.05,2.92 C17.70,3.19 17.43,3.42 17.23,3.79 C17.03,4.16 16.96,4.56 16.87,5.13 C16.79,5.70 16.73,6.41 16.72,7.18 C16.71,7.95 16.77,8.88 16.82,9.74 C16.87,10.60 16.95,11.46 17.03,12.31 C17.11,13.17 17.15,14.08 17.28,14.87 C17.41,15.66 17.49,16.55 17.79,17.03 C18.09,17.51 18.93,17.50 19.08,17.74 C19.23,17.98 18.97,18.36 18.67,18.46 C18.37,18.56 17.68,18.53 17.28,18.36 C16.88,18.19 16.56,17.77 16.26,17.44 C15.96,17.12 15.77,16.73 15.49,16.41 C15.21,16.09 14.89,15.76 14.56,15.49 C14.23,15.22 13.90,14.87 13.54,14.77 C13.18,14.67 12.77,14.73 12.41,14.87 C12.05,15.01 11.71,15.29 11.38,15.59 C11.06,15.89 10.55,16.40 10.46,16.67 C10.38,16.94 10.97,17.03 10.87,17.23 C10.77,17.43 10.36,17.69 9.85,17.85 C9.34,18.01 8.47,18.19 7.79,18.21 C7.11,18.23 6.42,18.11 5.74,17.95 C5.06,17.79 4.29,17.47 3.69,17.23 C3.09,16.99 2.58,16.75 2.15,16.51 C1.72,16.27 1.43,16.23 1.13,15.79 Z" fill="#161212"/></g>
<g transform="translate(347.6,475.0) scale(1.0)"><path d="M2.0,15.5 L-13.00,16.0" stroke="#d6d6cf" stroke-width="1.10" fill="none"/><path d="M1.13,15.79 C0.83,15.35 0.55,14.60 0.36,13.85 C0.17,13.10 0.00,12.05 0.00,11.28 C0.00,10.51 0.13,9.87 0.36,9.23 C0.59,8.59 0.95,7.94 1.38,7.44 C1.81,6.95 2.32,6.56 2.92,6.26 C3.52,5.96 4.24,5.80 4.97,5.64 C5.70,5.48 6.55,5.43 7.28,5.28 C8.01,5.13 8.77,5.00 9.33,4.72 C9.89,4.44 10.48,3.99 10.67,3.59 C10.86,3.19 10.51,2.69 10.46,2.31 C10.41,1.93 10.26,1.60 10.36,1.33 C10.46,1.06 10.81,0.80 11.08,0.72 C11.35,0.64 11.74,0.67 12.00,0.82 C12.26,0.97 12.38,1.60 12.62,1.64 C12.86,1.67 13.13,1.22 13.44,1.03 C13.75,0.84 14.03,0.62 14.46,0.51 C14.89,0.40 15.40,0.41 16.00,0.36 C16.60,0.31 17.41,0.27 18.05,0.21 C18.69,0.15 19.42,-0.05 19.85,0.00 C20.28,0.05 20.56,0.29 20.62,0.51 C20.68,0.73 20.43,1.06 20.21,1.33 C20.00,1.60 19.69,1.89 19.33,2.15 C18.97,2.42 18.40,2.65 18.05,2.92 C17.70,3.19 17.43,3.42 17.23,3.79 C17.03,4.16 16.96,4.56 16.87,5.13 C16.79,5.70 16.73,6.41 16.72,7.18 C16.71,7.95 16.77,8.88 16.82,9.74 C16.87,10.60 16.95,11.46 17.03,12.31 C17.11,13.17 17.15,14.08 17.28,14.87 C17.41,15.66 17.49,16.55 17.79,17.03 C18.09,17.51 18.93,17.50 19.08,17.74 C19.23,17.98 18.97,18.36 18.67,18.46 C18.37,18.56 17.68,18.53 17.28,18.36 C16.88,18.19 16.56,17.77 16.26,17.44 C15.96,17.12 15.77,16.73 15.49,16.41 C15.21,16.09 14.89,15.76 14.56,15.49 C14.23,15.22 13.90,14.87 13.54,14.77 C13.18,14.67 12.77,14.73 12.41,14.87 C12.05,15.01 11.71,15.29 11.38,15.59 C11.06,15.89 10.55,16.40 10.46,16.67 C10.38,16.94 10.97,17.03 10.87,17.23 C10.77,17.43 10.36,17.69 9.85,17.85 C9.34,18.01 8.47,18.19 7.79,18.21 C7.11,18.23 6.42,18.11 5.74,17.95 C5.06,17.79 4.29,17.47 3.69,17.23 C3.09,16.99 2.58,16.75 2.15,16.51 C1.72,16.27 1.43,16.23 1.13,15.79 Z" fill="#d6d6cf"/></g>
<g transform="translate(347.6,503.8) scale(1.0)"><path d="M2.0,15.5 L-13.50,16.0" stroke="#7b7370" stroke-width="1.10" fill="none"/><path d="M1.13,15.79 C0.83,15.35 0.55,14.60 0.36,13.85 C0.17,13.10 0.00,12.05 0.00,11.28 C0.00,10.51 0.13,9.87 0.36,9.23 C0.59,8.59 0.95,7.94 1.38,7.44 C1.81,6.95 2.32,6.56 2.92,6.26 C3.52,5.96 4.24,5.80 4.97,5.64 C5.70,5.48 6.55,5.43 7.28,5.28 C8.01,5.13 8.77,5.00 9.33,4.72 C9.89,4.44 10.48,3.99 10.67,3.59 C10.86,3.19 10.51,2.69 10.46,2.31 C10.41,1.93 10.26,1.60 10.36,1.33 C10.46,1.06 10.81,0.80 11.08,0.72 C11.35,0.64 11.74,0.67 12.00,0.82 C12.26,0.97 12.38,1.60 12.62,1.64 C12.86,1.67 13.13,1.22 13.44,1.03 C13.75,0.84 14.03,0.62 14.46,0.51 C14.89,0.40 15.40,0.41 16.00,0.36 C16.60,0.31 17.41,0.27 18.05,0.21 C18.69,0.15 19.42,-0.05 19.85,0.00 C20.28,0.05 20.56,0.29 20.62,0.51 C20.68,0.73 20.43,1.06 20.21,1.33 C20.00,1.60 19.69,1.89 19.33,2.15 C18.97,2.42 18.40,2.65 18.05,2.92 C17.70,3.19 17.43,3.42 17.23,3.79 C17.03,4.16 16.96,4.56 16.87,5.13 C16.79,5.70 16.73,6.41 16.72,7.18 C16.71,7.95 16.77,8.88 16.82,9.74 C16.87,10.60 16.95,11.46 17.03,12.31 C17.11,13.17 17.15,14.08 17.28,14.87 C17.41,15.66 17.49,16.55 17.79,17.03 C18.09,17.51 18.93,17.50 19.08,17.74 C19.23,17.98 18.97,18.36 18.67,18.46 C18.37,18.56 17.68,18.53 17.28,18.36 C16.88,18.19 16.56,17.77 16.26,17.44 C15.96,17.12 15.77,16.73 15.49,16.41 C15.21,16.09 14.89,15.76 14.56,15.49 C14.23,15.22 13.90,14.87 13.54,14.77 C13.18,14.67 12.77,14.73 12.41,14.87 C12.05,15.01 11.71,15.29 11.38,15.59 C11.06,15.89 10.55,16.40 10.46,16.67 C10.38,16.94 10.97,17.03 10.87,17.23 C10.77,17.43 10.36,17.69 9.85,17.85 C9.34,18.01 8.47,18.19 7.79,18.21 C7.11,18.23 6.42,18.11 5.74,17.95 C5.06,17.79 4.29,17.47 3.69,17.23 C3.09,16.99 2.58,16.75 2.15,16.51 C1.72,16.27 1.43,16.23 1.13,15.79 Z" fill="#7b7370"/></g>
<g transform="translate(347.6,531.6) scale(1.0)"><path d="M2.0,15.5 L-13.50,16.0" stroke="#b690ca" stroke-width="1.10" fill="none"/><path d="M1.13,15.79 C0.83,15.35 0.55,14.60 0.36,13.85 C0.17,13.10 0.00,12.05 0.00,11.28 C0.00,10.51 0.13,9.87 0.36,9.23 C0.59,8.59 0.95,7.94 1.38,7.44 C1.81,6.95 2.32,6.56 2.92,6.26 C3.52,5.96 4.24,5.80 4.97,5.64 C5.70,5.48 6.55,5.43 7.28,5.28 C8.01,5.13 8.77,5.00 9.33,4.72 C9.89,4.44 10.48,3.99 10.67,3.59 C10.86,3.19 10.51,2.69 10.46,2.31 C10.41,1.93 10.26,1.60 10.36,1.33 C10.46,1.06 10.81,0.80 11.08,0.72 C11.35,0.64 11.74,0.67 12.00,0.82 C12.26,0.97 12.38,1.60 12.62,1.64 C12.86,1.67 13.13,1.22 13.44,1.03 C13.75,0.84 14.03,0.62 14.46,0.51 C14.89,0.40 15.40,0.41 16.00,0.36 C16.60,0.31 17.41,0.27 18.05,0.21 C18.69,0.15 19.42,-0.05 19.85,0.00 C20.28,0.05 20.56,0.29 20.62,0.51 C20.68,0.73 20.43,1.06 20.21,1.33 C20.00,1.60 19.69,1.89 19.33,2.15 C18.97,2.42 18.40,2.65 18.05,2.92 C17.70,3.19 17.43,3.42 17.23,3.79 C17.03,4.16 16.96,4.56 16.87,5.13 C16.79,5.70 16.73,6.41 16.72,7.18 C16.71,7.95 16.77,8.88 16.82,9.74 C16.87,10.60 16.95,11.46 17.03,12.31 C17.11,13.17 17.15,14.08 17.28,14.87 C17.41,15.66 17.49,16.55 17.79,17.03 C18.09,17.51 18.93,17.50 19.08,17.74 C19.23,17.98 18.97,18.36 18.67,18.46 C18.37,18.56 17.68,18.53 17.28,18.36 C16.88,18.19 16.56,17.77 16.26,17.44 C15.96,17.12 15.77,16.73 15.49,16.41 C15.21,16.09 14.89,15.76 14.56,15.49 C14.23,15.22 13.90,14.87 13.54,14.77 C13.18,14.67 12.77,14.73 12.41,14.87 C12.05,15.01 11.71,15.29 11.38,15.59 C11.06,15.89 10.55,16.40 10.46,16.67 C10.38,16.94 10.97,17.03 10.87,17.23 C10.77,17.43 10.36,17.69 9.85,17.85 C9.34,18.01 8.47,18.19 7.79,18.21 C7.11,18.23 6.42,18.11 5.74,17.95 C5.06,17.79 4.29,17.47 3.69,17.23 C3.09,16.99 2.58,16.75 2.15,16.51 C1.72,16.27 1.43,16.23 1.13,15.79 Z" fill="#b690ca"/></g>
<text x="367.70" y="463.80" font-size="8" textLength="35.30" lengthAdjust="spacingAndGlyphs" >Untreated</text>
<text x="367.70" y="490.30" font-size="8" textLength="29.50" lengthAdjust="spacingAndGlyphs" >Ibrutinib</text>
<text x="367.70" y="517.20" font-size="8" textLength="27.30" lengthAdjust="spacingAndGlyphs" >ASNase</text>
<text x="367.70" y="543.80" font-size="8" textLength="36.60" lengthAdjust="spacingAndGlyphs" >Ibrutinib +</text>
<text x="367.70" y="553.40" font-size="8" textLength="27.30" lengthAdjust="spacingAndGlyphs" >ASNase</text>
<path d="M404.8,443.6 Q410.2,443.6 410.2,448 L410.2,493.5 Q410.2,497.7 414.5,497.7 Q410.2,497.7 410.2,502 L410.2,551 Q410.2,555.4 404.8,555.4" fill="none" stroke="#231f20" stroke-width="0.9"/>
<line x1="325.00" y1="564.00" x2="398.00" y2="564.00" stroke="#231f20" stroke-width="1.0" />
<path d="M404.00,564.00 L397.00,566.40 L397.00,561.60 Z" fill="#231f20"/>
<text x="427.70" y="451.50" font-size="8" textLength="57.30" lengthAdjust="spacingAndGlyphs" >Follow leukemia</text>
<text x="427.70" y="460.80" font-size="8" textLength="85.30" lengthAdjust="spacingAndGlyphs" >development over time:</text>
<line x1="419.60" y1="497.90" x2="440.00" y2="497.90" stroke="#333" stroke-width="1.0" />
<g transform="translate(438.2,478.8) scale(1.2)"><path d="M2.0,15.5 L-0.83,16.0" stroke="#1f1a1a" stroke-width="0.92" fill="none"/><path d="M1.13,15.79 C0.83,15.35 0.55,14.60 0.36,13.85 C0.17,13.10 0.00,12.05 0.00,11.28 C0.00,10.51 0.13,9.87 0.36,9.23 C0.59,8.59 0.95,7.94 1.38,7.44 C1.81,6.95 2.32,6.56 2.92,6.26 C3.52,5.96 4.24,5.80 4.97,5.64 C5.70,5.48 6.55,5.43 7.28,5.28 C8.01,5.13 8.77,5.00 9.33,4.72 C9.89,4.44 10.48,3.99 10.67,3.59 C10.86,3.19 10.51,2.69 10.46,2.31 C10.41,1.93 10.26,1.60 10.36,1.33 C10.46,1.06 10.81,0.80 11.08,0.72 C11.35,0.64 11.74,0.67 12.00,0.82 C12.26,0.97 12.38,1.60 12.62,1.64 C12.86,1.67 13.13,1.22 13.44,1.03 C13.75,0.84 14.03,0.62 14.46,0.51 C14.89,0.40 15.40,0.41 16.00,0.36 C16.60,0.31 17.41,0.27 18.05,0.21 C18.69,0.15 19.42,-0.05 19.85,0.00 C20.28,0.05 20.56,0.29 20.62,0.51 C20.68,0.73 20.43,1.06 20.21,1.33 C20.00,1.60 19.69,1.89 19.33,2.15 C18.97,2.42 18.40,2.65 18.05,2.92 C17.70,3.19 17.43,3.42 17.23,3.79 C17.03,4.16 16.96,4.56 16.87,5.13 C16.79,5.70 16.73,6.41 16.72,7.18 C16.71,7.95 16.77,8.88 16.82,9.74 C16.87,10.60 16.95,11.46 17.03,12.31 C17.11,13.17 17.15,14.08 17.28,14.87 C17.41,15.66 17.49,16.55 17.79,17.03 C18.09,17.51 18.93,17.50 19.08,17.74 C19.23,17.98 18.97,18.36 18.67,18.46 C18.37,18.56 17.68,18.53 17.28,18.36 C16.88,18.19 16.56,17.77 16.26,17.44 C15.96,17.12 15.77,16.73 15.49,16.41 C15.21,16.09 14.89,15.76 14.56,15.49 C14.23,15.22 13.90,14.87 13.54,14.77 C13.18,14.67 12.77,14.73 12.41,14.87 C12.05,15.01 11.71,15.29 11.38,15.59 C11.06,15.89 10.55,16.40 10.46,16.67 C10.38,16.94 10.97,17.03 10.87,17.23 C10.77,17.43 10.36,17.69 9.85,17.85 C9.34,18.01 8.47,18.19 7.79,18.21 C7.11,18.23 6.42,18.11 5.74,17.95 C5.06,17.79 4.29,17.47 3.69,17.23 C3.09,16.99 2.58,16.75 2.15,16.51 C1.72,16.27 1.43,16.23 1.13,15.79 Z" fill="#1f1a1a"/></g>
<g transform="translate(432.6,495.6) rotate(47) scale(1.08)"><line x1="0" y1="0" x2="-2.6" y2="0" stroke="#555" stroke-width="0.5"/><rect x="-10.2" y="-1.25" width="7.6" height="2.5" fill="#3a3a3a" stroke="#111" stroke-width="0.85"/><rect x="-5.0" y="-0.8" width="2.3" height="1.6" fill="#e02020"/><path d="M-8.6,-1.2 V0 M-7.1,-1.2 V0 M-5.6,-1.2 V0" stroke="#111" stroke-width="0.5"/><line x1="-10.2" y1="0" x2="-12.6" y2="0" stroke="#111" stroke-width="0.9"/><line x1="-12.6" y1="-1.8" x2="-12.6" y2="1.8" stroke="#111" stroke-width="1.0"/><line x1="-10.3" y1="-2.1" x2="-10.3" y2="2.1" stroke="#111" stroke-width="0.8"/></g>
<text x="464.20" y="477.80" font-size="8" textLength="25.80" lengthAdjust="spacingAndGlyphs" >Weekly</text>
<text x="464.20" y="487.10" font-size="8" textLength="20.50" lengthAdjust="spacingAndGlyphs" >blood</text>
<text x="464.20" y="497.00" font-size="8" textLength="34.60" lengthAdjust="spacingAndGlyphs" >collection</text>
<text x="452.60" y="511.60" font-size="8" textLength="44.40" lengthAdjust="spacingAndGlyphs" >Survival time</text>
<text x="432.30" y="525.40" font-size="8" textLength="78.00" lengthAdjust="spacingAndGlyphs" >Analysis post mortem:</text>
<ellipse cx="444" cy="537" rx="7" ry="4.6" fill="#c89a52"/>
<path d="M438.5,536 q3,-2 6,0 t5,0" stroke="#a27835" stroke-width="0.5" fill="none"/>
<g transform="translate(462,533.5) rotate(28)"><rect x="-6" y="-0.9" width="12" height="1.8" fill="#d8c8c0" stroke="#5a3a3a" stroke-width="0.5"/><circle cx="-6.3" cy="-1" r="1.3" fill="#d8c8c0" stroke="#5a3a3a" stroke-width="0.5"/><circle cx="-6.3" cy="1" r="1.3" fill="#d8c8c0" stroke="#5a3a3a" stroke-width="0.5"/><circle cx="6.3" cy="-1" r="1.3" fill="#d8c8c0" stroke="#5a3a3a" stroke-width="0.5"/><circle cx="6.3" cy="1" r="1.3" fill="#d8c8c0" stroke="#5a3a3a" stroke-width="0.5"/></g>
<text x="450.30" y="544.80" font-size="8" textLength="36.20" lengthAdjust="spacingAndGlyphs" >Pathology</text>
<path d="M434.8,549.5 Q442,547 451,548.5 Q450.5,553 444,555.5 Q438,557 435,556 Z" fill="#2b0d0f"/>
<path d="M461.5,550.5 L461.5,553 M461.5,553 Q457,551 454.5,556 Q452.5,562 455,564 Q459,564.5 460.8,561 Z M461.5,553 Q466,551 468.5,556 Q470.5,562 468,564 Q464,564.5 462.2,561 Z" fill="#e83847" stroke="#e83847" stroke-width="0.8"/>
<path d="M474,548.5 Q484,545 494.5,544 Q495.5,546 492,548 Q483,551.5 475,552 Q472.5,551 474,548.5 Z" fill="#5d0f18"/>
<path d="M413.8,443.5 Q409,443.5 409,448 L409,494.5 Q409,498.8 405.5,498.8 Q409,498.8 409,503 L409,551 Q409,555.4 413.8,555.4" fill="none" stroke="#231f20" stroke-width="0" />
<text x="7.70" y="579.30" font-size="11.6" textLength="5.40" lengthAdjust="spacingAndGlyphs" font-weight="bold" >F</text>
<text x="115.00" y="586.00" font-size="8.5" text-anchor="middle" textLength="31.00" lengthAdjust="spacingAndGlyphs" >ZU-1338</text>
<line x1="44.80" y1="587.50" x2="44.80" y2="680.90" stroke="#231f20" stroke-width="1.1" />
<line x1="44.30" y1="680.40" x2="185.00" y2="680.40" stroke="#231f20" stroke-width="1.2" />
<line x1="41.80" y1="588.40" x2="44.80" y2="588.40" stroke="#231f20" stroke-width="0.9" />
<text x="39.00" y="591.40" font-size="8.7" text-anchor="end" textLength="12.50" lengthAdjust="spacingAndGlyphs" >100</text>
<line x1="41.80" y1="611.30" x2="44.80" y2="611.30" stroke="#231f20" stroke-width="0.9" />
<text x="39.00" y="614.30" font-size="8.7" text-anchor="end" textLength="8.30" lengthAdjust="spacingAndGlyphs" >10</text>
<line x1="41.80" y1="634.20" x2="44.80" y2="634.20" stroke="#231f20" stroke-width="0.9" />
<text x="39.00" y="637.20" font-size="8.7" text-anchor="end" textLength="4.20" lengthAdjust="spacingAndGlyphs" >1</text>
<line x1="41.80" y1="657.10" x2="44.80" y2="657.10" stroke="#231f20" stroke-width="0.9" />
<text x="39.00" y="660.10" font-size="8.7" text-anchor="end" textLength="10.50" lengthAdjust="spacingAndGlyphs" >0.1</text>
<text x="39.00" y="677.00" font-size="8.7" text-anchor="end" textLength="14.60" lengthAdjust="spacingAndGlyphs" >0.01</text>
<line x1="42.80" y1="668.98" x2="44.80" y2="668.98" stroke="#231f20" stroke-width="0.6" />
<line x1="42.80" y1="665.99" x2="44.80" y2="665.99" stroke="#231f20" stroke-width="0.6" />
<line x1="42.80" y1="663.86" x2="44.80" y2="663.86" stroke="#231f20" stroke-width="0.6" />
<line x1="42.80" y1="662.22" x2="44.80" y2="662.22" stroke="#231f20" stroke-width="0.6" />
<line x1="42.80" y1="660.87" x2="44.80" y2="660.87" stroke="#231f20" stroke-width="0.6" />
<line x1="42.80" y1="659.73" x2="44.80" y2="659.73" stroke="#231f20" stroke-width="0.6" />
<line x1="42.80" y1="658.75" x2="44.80" y2="658.75" stroke="#231f20" stroke-width="0.6" />
<line x1="42.80" y1="657.88" x2="44.80" y2="657.88" stroke="#231f20" stroke-width="0.6" />
<line x1="42.80" y1="650.21" x2="44.80" y2="650.21" stroke="#231f20" stroke-width="0.6" />
<line x1="42.80" y1="646.17" x2="44.80" y2="646.17" stroke="#231f20" stroke-width="0.6" />
<line x1="42.80" y1="643.31" x2="44.80" y2="643.31" stroke="#231f20" stroke-width="0.6" />
<line x1="42.80" y1="641.09" x2="44.80" y2="641.09" stroke="#231f20" stroke-width="0.6" />
<line x1="42.80" y1="639.28" x2="44.80" y2="639.28" stroke="#231f20" stroke-width="0.6" />
<line x1="42.80" y1="637.75" x2="44.80" y2="637.75" stroke="#231f20" stroke-width="0.6" />
<line x1="42.80" y1="636.42" x2="44.80" y2="636.42" stroke="#231f20" stroke-width="0.6" />
<line x1="42.80" y1="635.25" x2="44.80" y2="635.25" stroke="#231f20" stroke-width="0.6" />
<line x1="42.80" y1="627.31" x2="44.80" y2="627.31" stroke="#231f20" stroke-width="0.6" />
<line x1="42.80" y1="623.27" x2="44.80" y2="623.27" stroke="#231f20" stroke-width="0.6" />
<line x1="42.80" y1="620.41" x2="44.80" y2="620.41" stroke="#231f20" stroke-width="0.6" />
<line x1="42.80" y1="618.19" x2="44.80" y2="618.19" stroke="#231f20" stroke-width="0.6" />
<line x1="42.80" y1="616.38" x2="44.80" y2="616.38" stroke="#231f20" stroke-width="0.6" />
<line x1="42.80" y1="614.85" x2="44.80" y2="614.85" stroke="#231f20" stroke-width="0.6" />
<line x1="42.80" y1="613.52" x2="44.80" y2="613.52" stroke="#231f20" stroke-width="0.6" />
<line x1="42.80" y1="612.35" x2="44.80" y2="612.35" stroke="#231f20" stroke-width="0.6" />
<line x1="42.80" y1="604.41" x2="44.80" y2="604.41" stroke="#231f20" stroke-width="0.6" />
<line x1="42.80" y1="600.37" x2="44.80" y2="600.37" stroke="#231f20" stroke-width="0.6" />
<line x1="42.80" y1="597.51" x2="44.80" y2="597.51" stroke="#231f20" stroke-width="0.6" />
<line x1="42.80" y1="595.29" x2="44.80" y2="595.29" stroke="#231f20" stroke-width="0.6" />
<line x1="42.80" y1="593.48" x2="44.80" y2="593.48" stroke="#231f20" stroke-width="0.6" />
<line x1="42.80" y1="591.95" x2="44.80" y2="591.95" stroke="#231f20" stroke-width="0.6" />
<line x1="42.80" y1="590.62" x2="44.80" y2="590.62" stroke="#231f20" stroke-width="0.6" />
<line x1="42.80" y1="589.45" x2="44.80" y2="589.45" stroke="#231f20" stroke-width="0.6" />
<line x1="45.00" y1="680.40" x2="45.00" y2="682.90" stroke="#231f20" stroke-width="0.7" />
<text x="45.00" y="693.60" font-size="8.7" text-anchor="middle" >0</text>
<line x1="56.53" y1="680.40" x2="56.53" y2="682.90" stroke="#231f20" stroke-width="0.7" />
<text x="56.53" y="693.60" font-size="8.7" text-anchor="middle" >1</text>
<line x1="68.06" y1="680.40" x2="68.06" y2="682.90" stroke="#231f20" stroke-width="0.7" />
<text x="68.06" y="693.60" font-size="8.7" text-anchor="middle" >2</text>
<line x1="79.59" y1="680.40" x2="79.59" y2="682.90" stroke="#231f20" stroke-width="0.7" />
<text x="79.59" y="693.60" font-size="8.7" text-anchor="middle" >3</text>
<line x1="91.12" y1="680.40" x2="91.12" y2="682.90" stroke="#231f20" stroke-width="0.7" />
<text x="91.12" y="693.60" font-size="8.7" text-anchor="middle" >4</text>
<line x1="102.65" y1="680.40" x2="102.65" y2="682.90" stroke="#231f20" stroke-width="0.7" />
<text x="102.65" y="693.60" font-size="8.7" text-anchor="middle" >5</text>
<line x1="114.18" y1="680.40" x2="114.18" y2="682.90" stroke="#231f20" stroke-width="0.7" />
<text x="114.18" y="693.60" font-size="8.7" text-anchor="middle" >6</text>
<line x1="125.71" y1="680.40" x2="125.71" y2="682.90" stroke="#231f20" stroke-width="0.7" />
<text x="125.71" y="693.60" font-size="8.7" text-anchor="middle" >7</text>
<line x1="137.24" y1="680.40" x2="137.24" y2="682.90" stroke="#231f20" stroke-width="0.7" />
<text x="137.24" y="693.60" font-size="8.7" text-anchor="middle" >8</text>
<line x1="148.77" y1="680.40" x2="148.77" y2="682.90" stroke="#231f20" stroke-width="0.7" />
<text x="148.77" y="693.60" font-size="8.7" text-anchor="middle" >9</text>
<line x1="160.30" y1="680.40" x2="160.30" y2="682.90" stroke="#231f20" stroke-width="0.7" />
<text x="160.30" y="693.60" font-size="8.7" text-anchor="middle" >10</text>
<line x1="171.83" y1="680.40" x2="171.83" y2="682.90" stroke="#231f20" stroke-width="0.7" />
<text x="171.83" y="693.60" font-size="8.7" text-anchor="middle" >11</text>
<line x1="183.36" y1="680.40" x2="183.36" y2="682.90" stroke="#231f20" stroke-width="0.7" />
<text x="183.36" y="693.60" font-size="8.7" text-anchor="middle" >12</text>
<text x="114.80" y="705.90" font-size="9.7" text-anchor="middle" textLength="28.00" lengthAdjust="spacingAndGlyphs" >Time [w]</text>
<text x="18.00" y="633.70" font-size="9.3" text-anchor="middle" textLength="42.30" lengthAdjust="spacingAndGlyphs" transform="rotate(-90 18.00 633.70)" >hCD10+ [%]</text>
<polyline points="68.06,664.05 102.65,641.09 114.18,639.28 125.71,627.31 137.24,623.27 148.77,611.30 160.30,589.34" fill="none" stroke="#cfcfc8" stroke-width="0.9"/>
<rect x="66.36" y="662.35" width="3.4" height="3.4" fill="#cfcfc8"/>
<rect x="100.95" y="639.39" width="3.4" height="3.4" fill="#cfcfc8"/>
<rect x="112.48" y="637.58" width="3.4" height="3.4" fill="#cfcfc8"/>
<rect x="124.01" y="625.61" width="3.4" height="3.4" fill="#cfcfc8"/>
<rect x="135.54" y="621.57" width="3.4" height="3.4" fill="#cfcfc8"/>
<rect x="147.07" y="609.60" width="3.4" height="3.4" fill="#cfcfc8"/>
<rect x="158.60" y="587.64" width="3.4" height="3.4" fill="#cfcfc8"/>
<polyline points="102.65,650.21 114.18,641.09 125.71,630.17 137.24,625.09 148.77,613.52 160.30,635.03 171.83,620.41 183.36,611.30" fill="none" stroke="#cfcfc8" stroke-width="0.9"/>
<rect x="100.95" y="648.51" width="3.4" height="3.4" fill="#cfcfc8"/>
<rect x="112.48" y="639.39" width="3.4" height="3.4" fill="#cfcfc8"/>
<rect x="124.01" y="628.47" width="3.4" height="3.4" fill="#cfcfc8"/>
<rect x="135.54" y="623.39" width="3.4" height="3.4" fill="#cfcfc8"/>
<rect x="147.07" y="611.82" width="3.4" height="3.4" fill="#cfcfc8"/>
<rect x="158.60" y="633.33" width="3.4" height="3.4" fill="#cfcfc8"/>
<rect x="170.13" y="618.71" width="3.4" height="3.4" fill="#cfcfc8"/>
<rect x="181.66" y="609.60" width="3.4" height="3.4" fill="#cfcfc8"/>
<polyline points="68.06,675.75 102.65,639.28 114.18,646.17 125.71,634.20 137.24,636.42 148.77,623.27 160.30,593.48 171.83,590.62" fill="none" stroke="#cfcfc8" stroke-width="0.9"/>
<rect x="66.36" y="674.05" width="3.4" height="3.4" fill="#cfcfc8"/>
<rect x="100.95" y="637.58" width="3.4" height="3.4" fill="#cfcfc8"/>
<rect x="112.48" y="644.47" width="3.4" height="3.4" fill="#cfcfc8"/>
<rect x="124.01" y="632.50" width="3.4" height="3.4" fill="#cfcfc8"/>
<rect x="135.54" y="634.72" width="3.4" height="3.4" fill="#cfcfc8"/>
<rect x="147.07" y="621.57" width="3.4" height="3.4" fill="#cfcfc8"/>
<rect x="158.60" y="591.78" width="3.4" height="3.4" fill="#cfcfc8"/>
<rect x="170.13" y="588.92" width="3.4" height="3.4" fill="#cfcfc8"/>
<polyline points="102.65,662.22 114.18,665.99 125.71,667.34 137.24,667.64 148.77,667.95" fill="none" stroke="#cfcfc8" stroke-width="0.9"/>
<rect x="100.95" y="660.52" width="3.4" height="3.4" fill="#cfcfc8"/>
<rect x="112.48" y="664.29" width="3.4" height="3.4" fill="#cfcfc8"/>
<rect x="124.01" y="665.64" width="3.4" height="3.4" fill="#cfcfc8"/>
<rect x="135.54" y="665.94" width="3.4" height="3.4" fill="#cfcfc8"/>
<rect x="147.07" y="666.25" width="3.4" height="3.4" fill="#cfcfc8"/>
<polyline points="68.06,667.95 102.65,673.40 114.18,674.25 125.71,667.95 137.24,667.95 148.77,667.95 160.30,650.72 171.83,642.36 183.36,621.19" fill="none" stroke="#a77dc4" stroke-width="0.9"/>
<path d="M66.06,666.55 L70.06,666.55 L68.06,669.85 Z" fill="#a77dc4"/>
<path d="M100.65,672.00 L104.65,672.00 L102.65,675.30 Z" fill="#a77dc4"/>
<path d="M112.18,672.85 L116.18,672.85 L114.18,676.15 Z" fill="#a77dc4"/>
<path d="M123.71,666.55 L127.71,666.55 L125.71,669.85 Z" fill="#a77dc4"/>
<path d="M135.24,666.55 L139.24,666.55 L137.24,669.85 Z" fill="#a77dc4"/>
<path d="M146.77,666.55 L150.77,666.55 L148.77,669.85 Z" fill="#a77dc4"/>
<path d="M158.30,649.32 L162.30,649.32 L160.30,652.62 Z" fill="#a77dc4"/>
<path d="M169.83,640.96 L173.83,640.96 L171.83,644.26 Z" fill="#a77dc4"/>
<path d="M181.36,619.79 L185.36,619.79 L183.36,623.09 Z" fill="#a77dc4"/>
<polyline points="68.06,674.48 102.65,674.48 114.18,657.10 125.71,649.72 137.24,644.09 148.77,634.20 160.30,608.69 171.83,596.56 183.36,589.34" fill="none" stroke="#a77dc4" stroke-width="0.9"/>
<path d="M66.06,673.08 L70.06,673.08 L68.06,676.38 Z" fill="#a77dc4"/>
<path d="M100.65,673.08 L104.65,673.08 L102.65,676.38 Z" fill="#a77dc4"/>
<path d="M112.18,655.70 L116.18,655.70 L114.18,659.00 Z" fill="#a77dc4"/>
<path d="M123.71,648.32 L127.71,648.32 L125.71,651.62 Z" fill="#a77dc4"/>
<path d="M135.24,642.69 L139.24,642.69 L137.24,645.99 Z" fill="#a77dc4"/>
<path d="M146.77,632.80 L150.77,632.80 L148.77,636.10 Z" fill="#a77dc4"/>
<path d="M158.30,607.29 L162.30,607.29 L160.30,610.59 Z" fill="#a77dc4"/>
<path d="M169.83,595.16 L173.83,595.16 L171.83,598.46 Z" fill="#a77dc4"/>
<path d="M181.36,587.94 L185.36,587.94 L183.36,591.24 Z" fill="#a77dc4"/>
<polyline points="68.06,674.48 102.65,674.10 114.18,665.99 125.71,657.10 137.24,641.09 148.77,627.82 160.30,630.85 171.83,619.93 183.36,605.68" fill="none" stroke="#a77dc4" stroke-width="0.9"/>
<path d="M66.06,673.08 L70.06,673.08 L68.06,676.38 Z" fill="#a77dc4"/>
<path d="M100.65,672.70 L104.65,672.70 L102.65,676.00 Z" fill="#a77dc4"/>
<path d="M112.18,664.59 L116.18,664.59 L114.18,667.89 Z" fill="#a77dc4"/>
<path d="M123.71,655.70 L127.71,655.70 L125.71,659.00 Z" fill="#a77dc4"/>
<path d="M135.24,639.69 L139.24,639.69 L137.24,642.99 Z" fill="#a77dc4"/>
<path d="M146.77,626.42 L150.77,626.42 L148.77,629.72 Z" fill="#a77dc4"/>
<path d="M158.30,629.45 L162.30,629.45 L160.30,632.75 Z" fill="#a77dc4"/>
<path d="M169.83,618.53 L173.83,618.53 L171.83,621.83 Z" fill="#a77dc4"/>
<path d="M181.36,604.28 L185.36,604.28 L183.36,607.58 Z" fill="#a77dc4"/>
<polyline points="102.65,668.98 114.18,662.22 125.71,646.17 137.24,635.03 148.77,627.82 160.30,593.99 171.83,593.00 183.36,589.34" fill="none" stroke="#a77dc4" stroke-width="0.9"/>
<path d="M100.65,667.58 L104.65,667.58 L102.65,670.88 Z" fill="#a77dc4"/>
<path d="M112.18,660.82 L116.18,660.82 L114.18,664.12 Z" fill="#a77dc4"/>
<path d="M123.71,644.77 L127.71,644.77 L125.71,648.07 Z" fill="#a77dc4"/>
<path d="M135.24,633.63 L139.24,633.63 L137.24,636.93 Z" fill="#a77dc4"/>
<path d="M146.77,626.42 L150.77,626.42 L148.77,629.72 Z" fill="#a77dc4"/>
<path d="M158.30,592.59 L162.30,592.59 L160.30,595.89 Z" fill="#a77dc4"/>
<path d="M169.83,591.60 L173.83,591.60 L171.83,594.90 Z" fill="#a77dc4"/>
<path d="M181.36,587.94 L185.36,587.94 L183.36,591.24 Z" fill="#a77dc4"/>
<polyline points="102.65,671.11 114.18,663.86 125.71,657.10 137.24,639.28 148.77,627.31 160.30,646.17 171.83,626.82 183.36,621.19" fill="none" stroke="#a77dc4" stroke-width="0.9"/>
<path d="M100.65,669.71 L104.65,669.71 L102.65,673.01 Z" fill="#a77dc4"/>
<path d="M112.18,662.46 L116.18,662.46 L114.18,665.76 Z" fill="#a77dc4"/>
<path d="M123.71,655.70 L127.71,655.70 L125.71,659.00 Z" fill="#a77dc4"/>
<path d="M135.24,637.88 L139.24,637.88 L137.24,641.18 Z" fill="#a77dc4"/>
<path d="M146.77,625.91 L150.77,625.91 L148.77,629.21 Z" fill="#a77dc4"/>
<path d="M158.30,644.77 L162.30,644.77 L160.30,648.07 Z" fill="#a77dc4"/>
<path d="M169.83,625.42 L173.83,625.42 L171.83,628.72 Z" fill="#a77dc4"/>
<path d="M181.36,619.79 L185.36,619.79 L183.36,623.09 Z" fill="#a77dc4"/>
<polyline points="102.65,653.07 114.18,646.17 125.71,637.75 137.24,627.31 148.77,618.19 160.30,595.29 171.83,589.45 183.36,591.95" fill="none" stroke="#6e6663" stroke-width="0.9"/>
<path d="M100.65,654.47 L104.65,654.47 L102.65,651.17 Z" fill="#6e6663"/>
<path d="M112.18,647.57 L116.18,647.57 L114.18,644.27 Z" fill="#6e6663"/>
<path d="M123.71,639.15 L127.71,639.15 L125.71,635.85 Z" fill="#6e6663"/>
<path d="M135.24,628.71 L139.24,628.71 L137.24,625.41 Z" fill="#6e6663"/>
<path d="M146.77,619.59 L150.77,619.59 L148.77,616.29 Z" fill="#6e6663"/>
<path d="M158.30,596.69 L162.30,596.69 L160.30,593.39 Z" fill="#6e6663"/>
<path d="M169.83,590.85 L173.83,590.85 L171.83,587.55 Z" fill="#6e6663"/>
<path d="M181.36,593.35 L185.36,593.35 L183.36,590.05 Z" fill="#6e6663"/>
<polyline points="102.65,665.99 114.18,659.73 125.71,647.99 137.24,634.20 148.77,623.27 160.30,613.03 171.83,608.69 183.36,593.99" fill="none" stroke="#6e6663" stroke-width="0.9"/>
<path d="M100.65,667.39 L104.65,667.39 L102.65,664.09 Z" fill="#6e6663"/>
<path d="M112.18,661.13 L116.18,661.13 L114.18,657.83 Z" fill="#6e6663"/>
<path d="M123.71,649.39 L127.71,649.39 L125.71,646.09 Z" fill="#6e6663"/>
<path d="M135.24,635.60 L139.24,635.60 L137.24,632.30 Z" fill="#6e6663"/>
<path d="M146.77,624.67 L150.77,624.67 L148.77,621.37 Z" fill="#6e6663"/>
<path d="M158.30,614.43 L162.30,614.43 L160.30,611.13 Z" fill="#6e6663"/>
<path d="M169.83,610.09 L173.83,610.09 L171.83,606.79 Z" fill="#6e6663"/>
<path d="M181.36,595.39 L185.36,595.39 L183.36,592.09 Z" fill="#6e6663"/>
<polyline points="102.65,657.10 114.18,650.21 125.71,639.28 137.24,630.17 148.77,641.50 160.30,593.48 171.83,590.25" fill="none" stroke="#6e6663" stroke-width="0.9"/>
<path d="M100.65,658.50 L104.65,658.50 L102.65,655.20 Z" fill="#6e6663"/>
<path d="M112.18,651.61 L116.18,651.61 L114.18,648.31 Z" fill="#6e6663"/>
<path d="M123.71,640.68 L127.71,640.68 L125.71,637.38 Z" fill="#6e6663"/>
<path d="M135.24,631.57 L139.24,631.57 L137.24,628.27 Z" fill="#6e6663"/>
<path d="M146.77,642.90 L150.77,642.90 L148.77,639.60 Z" fill="#6e6663"/>
<path d="M158.30,594.88 L162.30,594.88 L160.30,591.58 Z" fill="#6e6663"/>
<path d="M169.83,591.65 L173.83,591.65 L171.83,588.35 Z" fill="#6e6663"/>
<polyline points="102.65,668.98 114.18,657.10 125.71,643.31 137.24,634.20 148.77,616.38 160.30,597.51 171.83,589.45" fill="none" stroke="#6e6663" stroke-width="0.9"/>
<path d="M100.65,670.38 L104.65,670.38 L102.65,667.08 Z" fill="#6e6663"/>
<path d="M112.18,658.50 L116.18,658.50 L114.18,655.20 Z" fill="#6e6663"/>
<path d="M123.71,644.71 L127.71,644.71 L125.71,641.41 Z" fill="#6e6663"/>
<path d="M135.24,635.60 L139.24,635.60 L137.24,632.30 Z" fill="#6e6663"/>
<path d="M146.77,617.78 L150.77,617.78 L148.77,614.48 Z" fill="#6e6663"/>
<path d="M158.30,598.91 L162.30,598.91 L160.30,595.61 Z" fill="#6e6663"/>
<path d="M169.83,590.85 L173.83,590.85 L171.83,587.55 Z" fill="#6e6663"/>
<polyline points="102.65,660.87 114.18,653.07 125.71,636.42 137.24,625.09 148.77,614.85 160.30,593.48 171.83,590.62" fill="none" stroke="#6e6663" stroke-width="0.9"/>
<path d="M100.65,662.27 L104.65,662.27 L102.65,658.97 Z" fill="#6e6663"/>
<path d="M112.18,654.47 L116.18,654.47 L114.18,651.17 Z" fill="#6e6663"/>
<path d="M123.71,637.82 L127.71,637.82 L125.71,634.52 Z" fill="#6e6663"/>
<path d="M135.24,626.49 L139.24,626.49 L137.24,623.19 Z" fill="#6e6663"/>
<path d="M146.77,616.25 L150.77,616.25 L148.77,612.95 Z" fill="#6e6663"/>
<path d="M158.30,594.88 L162.30,594.88 L160.30,591.58 Z" fill="#6e6663"/>
<path d="M169.83,592.02 L173.83,592.02 L171.83,588.72 Z" fill="#6e6663"/>
<polyline points="68.06,657.10 102.65,646.17 114.18,634.20 125.71,629.53 137.24,616.72 148.77,603.46 160.30,593.00 171.83,590.62" fill="none" stroke="#111111" stroke-width="0.9"/>
<circle cx="68.06" cy="657.10" r="1.9" fill="#111111"/>
<circle cx="102.65" cy="646.17" r="1.9" fill="#111111"/>
<circle cx="114.18" cy="634.20" r="1.9" fill="#111111"/>
<circle cx="125.71" cy="629.53" r="1.9" fill="#111111"/>
<circle cx="137.24" cy="616.72" r="1.9" fill="#111111"/>
<circle cx="148.77" cy="603.46" r="1.9" fill="#111111"/>
<circle cx="160.30" cy="593.00" r="1.9" fill="#111111"/>
<circle cx="171.83" cy="590.62" r="1.9" fill="#111111"/>
<polyline points="68.06,663.86 102.65,660.87 114.18,650.21 125.71,639.28 137.24,627.31 148.77,620.41 160.30,595.29 171.83,590.02" fill="none" stroke="#111111" stroke-width="0.9"/>
<circle cx="68.06" cy="663.86" r="1.9" fill="#111111"/>
<circle cx="102.65" cy="660.87" r="1.9" fill="#111111"/>
<circle cx="114.18" cy="650.21" r="1.9" fill="#111111"/>
<circle cx="125.71" cy="639.28" r="1.9" fill="#111111"/>
<circle cx="137.24" cy="627.31" r="1.9" fill="#111111"/>
<circle cx="148.77" cy="620.41" r="1.9" fill="#111111"/>
<circle cx="160.30" cy="595.29" r="1.9" fill="#111111"/>
<circle cx="171.83" cy="590.02" r="1.9" fill="#111111"/>
<polyline points="102.65,641.09 114.18,636.42 125.71,632.39 137.24,623.27 148.77,609.49 160.30,591.95 171.83,590.62" fill="none" stroke="#111111" stroke-width="0.9"/>
<circle cx="102.65" cy="641.09" r="1.9" fill="#111111"/>
<circle cx="114.18" cy="636.42" r="1.9" fill="#111111"/>
<circle cx="125.71" cy="632.39" r="1.9" fill="#111111"/>
<circle cx="137.24" cy="623.27" r="1.9" fill="#111111"/>
<circle cx="148.77" cy="609.49" r="1.9" fill="#111111"/>
<circle cx="160.30" cy="591.95" r="1.9" fill="#111111"/>
<circle cx="171.83" cy="590.62" r="1.9" fill="#111111"/>
<line x1="191.80" y1="591.00" x2="201.70" y2="591.00" stroke="#111111" stroke-width="0.9" />
<circle cx="196.7" cy="591.0" r="1.9" fill="#111111"/>
<text x="204.90" y="593.80" font-size="8" textLength="25.40" lengthAdjust="spacingAndGlyphs" >Control</text>
<line x1="191.80" y1="601.80" x2="201.70" y2="601.80" stroke="#cfcfc8" stroke-width="0.9" />
<rect x="194.89999999999998" y="600.0" width="3.6" height="3.6" fill="#cfcfc8"/>
<text x="204.90" y="604.60" font-size="8" textLength="28.20" lengthAdjust="spacingAndGlyphs" >Ibrutinib</text>
<line x1="191.80" y1="612.40" x2="201.70" y2="612.40" stroke="#6e6663" stroke-width="0.9" />
<path d="M194.7,613.8 L198.7,613.8 L196.7,610.5 Z" fill="#6e6663"/>
<text x="204.90" y="615.20" font-size="8" textLength="27.30" lengthAdjust="spacingAndGlyphs" >ASNase</text>
<line x1="191.80" y1="623.40" x2="201.70" y2="623.40" stroke="#a77dc4" stroke-width="0.9" />
<path d="M194.7,622.0 L198.7,622.0 L196.7,625.3 Z" fill="#a77dc4"/>
<text x="204.90" y="626.20" font-size="8" textLength="28.20" lengthAdjust="spacingAndGlyphs" >Ibrutinib</text>
<text x="206.40" y="634.60" font-size="8" textLength="31.60" lengthAdjust="spacingAndGlyphs" >+ ASNase</text>
<text x="251.70" y="579.40" font-size="11.6" textLength="7.70" lengthAdjust="spacingAndGlyphs" font-weight="bold" >G</text>
<text x="332.90" y="586.00" font-size="8.5" text-anchor="middle" textLength="29.70" lengthAdjust="spacingAndGlyphs" >ZU-1338</text>
<line x1="289.30" y1="583.00" x2="289.30" y2="678.90" stroke="#231f20" stroke-width="1.1" />
<line x1="288.80" y1="678.40" x2="432.70" y2="678.40" stroke="#231f20" stroke-width="1.2" />
<line x1="286.30" y1="678.40" x2="289.30" y2="678.40" stroke="#231f20" stroke-width="0.9" />
<text x="285.20" y="681.40" font-size="8.7" text-anchor="end" textLength="10.70" lengthAdjust="spacingAndGlyphs" >0.0</text>
<line x1="286.30" y1="635.00" x2="289.30" y2="635.00" stroke="#231f20" stroke-width="0.9" />
<text x="285.20" y="638.00" font-size="8.7" text-anchor="end" textLength="10.70" lengthAdjust="spacingAndGlyphs" >0.5</text>
<line x1="286.30" y1="591.60" x2="289.30" y2="591.60" stroke="#231f20" stroke-width="0.9" />
<text x="285.20" y="594.60" font-size="8.7" text-anchor="end" textLength="10.70" lengthAdjust="spacingAndGlyphs" >1.0</text>
<line x1="289.30" y1="678.40" x2="289.30" y2="680.70" stroke="#231f20" stroke-width="0.8" />
<text x="289.30" y="690.90" font-size="8.7" text-anchor="middle" >60</text>
<line x1="321.15" y1="678.40" x2="321.15" y2="680.70" stroke="#231f20" stroke-width="0.8" />
<text x="321.15" y="690.90" font-size="8.7" text-anchor="middle" >70</text>
<line x1="353.00" y1="678.40" x2="353.00" y2="680.70" stroke="#231f20" stroke-width="0.8" />
<text x="353.00" y="690.90" font-size="8.7" text-anchor="middle" >80</text>
<line x1="384.85" y1="678.40" x2="384.85" y2="680.70" stroke="#231f20" stroke-width="0.8" />
<text x="384.85" y="690.90" font-size="8.7" text-anchor="middle" >90</text>
<line x1="416.70" y1="678.40" x2="416.70" y2="680.70" stroke="#231f20" stroke-width="0.8" />
<text x="416.70" y="690.90" font-size="8.7" text-anchor="middle" >100</text>
<text x="353.05" y="705.90" font-size="9.7" text-anchor="middle" textLength="27.90" lengthAdjust="spacingAndGlyphs" >Time [w]</text>
<text x="268.30" y="634.00" font-size="9.3" text-anchor="middle" textLength="52.50" lengthAdjust="spacingAndGlyphs" transform="rotate(-90 268.30 634.00)" >Fraction survival</text>
<path d="M289.30,591.60 H321.15 V602.45 H330.71 V624.15 H343.44 V656.70 H349.81 V667.55 H362.56 V678.40" fill="none" stroke="#7a7270" stroke-width="1.0"/>
<path d="M289.30,591.60 H321.15 V641.08 H330.71 V678.40" fill="none" stroke="#d2d2ca" stroke-width="1.1"/>
<path d="M321.15,641.08 H321.15 V656.70 H330.71 V667.55 H343.44 V678.40" fill="none" stroke="#111" stroke-width="1.0"/>
<path d="M289.30,591.60 H330.71 V603.75 H343.44 V616.34 H362.56 V641.08 H407.14 V653.23 H426.25 V678.40" fill="none" stroke="#b48cd0" stroke-width="1.0"/>
<line x1="325.20" y1="630.00" x2="359.00" y2="630.00" stroke="#231f20" stroke-width="0.8" />
<path d="M322.20,630.00 L326.20,628.20 L326.20,631.80 Z" fill="#231f20"/>
<path d="M362.00,630.00 L358.00,631.80 L358.00,628.20 Z" fill="#231f20"/>
<text x="349.70" y="631.50" font-size="7" text-anchor="middle" fill="#111" >***</text>
<line x1="346.80" y1="638.80" x2="359.00" y2="638.80" stroke="#231f20" stroke-width="0.8" />
<path d="M343.80,638.80 L347.80,637.00 L347.80,640.60 Z" fill="#231f20"/>
<path d="M362.00,638.80 L358.00,640.60 L358.00,637.00 Z" fill="#231f20"/>
<text x="352.50" y="640.60" font-size="7" text-anchor="middle" fill="#111" >*</text>
<line x1="325.20" y1="654.60" x2="339.80" y2="654.60" stroke="#231f20" stroke-width="0.8" />
<path d="M322.20,654.60 L326.20,652.80 L326.20,656.40 Z" fill="#231f20"/>
<path d="M342.80,654.60 L338.80,656.40 L338.80,652.80 Z" fill="#231f20"/>
<text x="331.80" y="656.10" font-size="7" text-anchor="middle" fill="#111" >*</text>
<line x1="368.80" y1="577.20" x2="379.70" y2="577.20" stroke="#111" stroke-width="0.9" />
<line x1="374.20" y1="575.60" x2="374.20" y2="577.20" stroke="#111" stroke-width="0.7" />
<text x="385.50" y="580.00" font-size="8" textLength="25.40" lengthAdjust="spacingAndGlyphs" >Control</text>
<line x1="368.80" y1="588.00" x2="379.70" y2="588.00" stroke="#d2d2ca" stroke-width="0.9" />
<line x1="374.20" y1="586.40" x2="374.20" y2="588.00" stroke="#d2d2ca" stroke-width="0.7" />
<text x="385.50" y="590.80" font-size="8" textLength="28.20" lengthAdjust="spacingAndGlyphs" >Ibrutinib</text>
<line x1="368.80" y1="598.70" x2="379.70" y2="598.70" stroke="#7a7270" stroke-width="0.9" />
<line x1="374.20" y1="597.10" x2="374.20" y2="598.70" stroke="#7a7270" stroke-width="0.7" />
<text x="385.50" y="601.50" font-size="8" textLength="27.30" lengthAdjust="spacingAndGlyphs" >ASNase</text>
<line x1="368.80" y1="609.50" x2="379.70" y2="609.50" stroke="#b48cd0" stroke-width="0.9" />
<line x1="374.20" y1="607.90" x2="374.20" y2="609.50" stroke="#b48cd0" stroke-width="0.7" />
<text x="385.50" y="612.30" font-size="8" textLength="67.30" lengthAdjust="spacingAndGlyphs" >Ibrutinib + ASNase</text>
<rect x="418.4" y="614.8" width="95.2" height="35.8" fill="#fff" stroke="#231f20" stroke-width="0.9"/>
<line x1="418.40" y1="623.40" x2="513.60" y2="623.40" stroke="#231f20" stroke-width="0.9" />
<line x1="493.40" y1="614.80" x2="493.40" y2="650.60" stroke="#231f20" stroke-width="0.7" />
<rect x="493.9" y="615.7" width="18.6" height="7.2" fill="none" stroke="#231f20" stroke-width="0.45"/>
<text x="494.60" y="620.20" font-size="5.4" textLength="16.50" lengthAdjust="spacingAndGlyphs" >p-value</text>
<text x="491.50" y="629.30" font-size="5.4" text-anchor="end" textLength="45.40" lengthAdjust="spacingAndGlyphs" >Control vs ibrutinib</text>
<text x="495.30" y="629.30" font-size="5.4" >0.95</text>
<text x="491.50" y="635.60" font-size="5.4" text-anchor="end" textLength="43.70" lengthAdjust="spacingAndGlyphs" >Control vs ASNase</text>
<text x="495.30" y="635.60" font-size="5.4" >0.014</text>
<text x="491.50" y="642.00" font-size="5.4" text-anchor="end" textLength="70.40" lengthAdjust="spacingAndGlyphs" >Control vs ibrutinib + ASNase</text>
<text x="495.30" y="642.00" font-size="5.4" >0.0008</text>
<text x="491.50" y="648.30" font-size="5.4" text-anchor="end" textLength="71.20" lengthAdjust="spacingAndGlyphs" >ASNase vs ibrutinib + ASNase</text>
<text x="495.30" y="648.30" font-size="5.4" >0.0183</text>
<rect x="0" y="0" width="520" height="1" fill="#231f20"/>
<rect x="0" y="0" width="1.1" height="712" fill="#231f20"/>
<rect x="518.8" y="0" width="1.2" height="712" fill="#231f20"/>
<rect x="0" y="710.5" width="520" height="1.5" fill="#231f20"/>
</svg>
</body></html>
